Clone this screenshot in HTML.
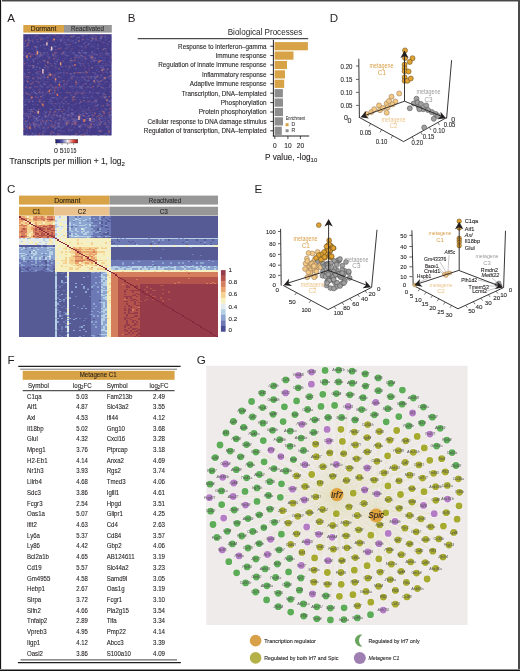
<!DOCTYPE html>
<html><head><meta charset="utf-8"><title>Figure</title>
<style>html,body{margin:0;padding:0;background:#fff;}body{position:relative;width:520px;height:671px;overflow:hidden;font-family:"Liberation Sans",sans-serif;}svg{display:block;filter:blur(0.35px);}</style>
</head><body>
<svg width="520" height="671" viewBox="0 0 520 671" font-family="Liberation Sans, sans-serif"><text x="7.20" y="21.60" font-size="11.6" fill="#231f20">A</text>
<text x="127.70" y="21.60" font-size="11.6" fill="#231f20">B</text>
<text x="329.80" y="21.60" font-size="11.6" fill="#231f20">D</text>
<text x="7.00" y="192.80" font-size="11.6" fill="#231f20">C</text>
<text x="254.50" y="192.60" font-size="11.6" fill="#231f20">E</text>
<text x="7.40" y="363.60" font-size="11.6" fill="#231f20">F</text>
<text x="196.80" y="363.60" font-size="11.6" fill="#231f20">G</text>
<rect x="23.30" y="25.00" width="40.70" height="7.60" fill="#d7a346"/>
<rect x="64.00" y="25.00" width="47.80" height="7.60" fill="#979797"/>
<text x="43.60" y="31.30" font-size="6.8" fill="#2a2218" text-anchor="middle" textLength="25.50" lengthAdjust="spacingAndGlyphs" stroke="#2a2218" stroke-width="0.1">Dormant</text>
<text x="87.50" y="31.20" font-size="6.8" fill="#2a2a2a" text-anchor="middle" textLength="32.80" lengthAdjust="spacingAndGlyphs" stroke="#2a2a2a" stroke-width="0.1">Reactivated</text>
<rect x="23.30" y="34.20" width="88.30" height="101.20" fill="#433a88"/>
<path fill="#574f9a" d="M28.32 34.20h1.00v1.00h-1.00zM34.34 34.20h1.00v1.00h-1.00zM49.39 34.20h1.00v1.00h-1.00zM78.49 34.20h1.00v1.00h-1.00zM93.54 34.20h1.00v1.00h-1.00zM100.56 34.20h1.00v1.00h-1.00zM31.33 35.20h1.00v1.00h-1.00zM34.34 35.20h1.00v1.00h-1.00zM38.35 35.20h1.00v1.00h-1.00zM51.40 35.20h1.00v1.00h-1.00zM53.40 35.20h1.00v1.00h-1.00zM62.43 35.20h1.00v1.00h-1.00zM70.46 35.20h1.00v1.00h-1.00zM86.51 35.20h1.00v1.00h-1.00zM92.54 35.20h1.00v1.00h-1.00zM93.54 35.20h1.00v1.00h-1.00zM104.58 35.20h1.00v1.00h-1.00zM24.30 36.20h1.00v1.00h-1.00zM31.33 36.20h1.00v1.00h-1.00zM46.38 36.20h1.00v1.00h-1.00zM47.38 36.20h1.00v1.00h-1.00zM55.41 36.20h1.00v1.00h-1.00zM56.41 36.20h1.00v1.00h-1.00zM67.45 36.20h1.00v1.00h-1.00zM71.46 36.20h1.00v1.00h-1.00zM78.49 36.20h1.00v1.00h-1.00zM81.50 36.20h1.00v1.00h-1.00zM93.54 36.20h1.00v1.00h-1.00zM103.57 36.20h1.00v1.00h-1.00zM105.58 36.20h1.00v1.00h-1.00zM33.33 37.21h1.00v1.00h-1.00zM37.35 37.21h1.00v1.00h-1.00zM40.36 37.21h1.00v1.00h-1.00zM45.38 37.21h1.00v1.00h-1.00zM48.39 37.21h1.00v1.00h-1.00zM58.42 37.21h1.00v1.00h-1.00zM63.44 37.21h1.00v1.00h-1.00zM86.51 37.21h1.00v1.00h-1.00zM90.53 37.21h1.00v1.00h-1.00zM99.56 37.21h1.00v1.00h-1.00zM31.33 38.21h1.00v1.00h-1.00zM45.38 38.21h1.00v1.00h-1.00zM51.40 38.21h1.00v1.00h-1.00zM86.51 38.21h1.00v1.00h-1.00zM97.55 38.21h1.00v1.00h-1.00zM106.58 38.21h1.00v1.00h-1.00zM35.34 39.21h1.00v1.00h-1.00zM36.34 39.21h1.00v1.00h-1.00zM42.36 39.21h1.00v1.00h-1.00zM43.37 39.21h1.00v1.00h-1.00zM46.38 39.21h1.00v1.00h-1.00zM56.41 39.21h1.00v1.00h-1.00zM58.42 39.21h1.00v1.00h-1.00zM59.42 39.21h1.00v1.00h-1.00zM62.43 39.21h1.00v1.00h-1.00zM70.46 39.21h1.00v1.00h-1.00zM78.49 39.21h1.00v1.00h-1.00zM84.51 39.21h1.00v1.00h-1.00zM86.51 39.21h1.00v1.00h-1.00zM88.52 39.21h1.00v1.00h-1.00zM92.54 39.21h1.00v1.00h-1.00zM94.54 39.21h1.00v1.00h-1.00zM104.58 39.21h1.00v1.00h-1.00zM51.40 40.21h1.00v1.00h-1.00zM57.42 40.21h1.00v1.00h-1.00zM61.43 40.21h1.00v1.00h-1.00zM63.44 40.21h1.00v1.00h-1.00zM66.45 40.21h1.00v1.00h-1.00zM71.46 40.21h1.00v1.00h-1.00zM73.47 40.21h1.00v1.00h-1.00zM77.48 40.21h1.00v1.00h-1.00zM81.50 40.21h1.00v1.00h-1.00zM94.54 40.21h1.00v1.00h-1.00zM97.55 40.21h1.00v1.00h-1.00zM104.58 40.21h1.00v1.00h-1.00zM24.30 41.21h1.00v1.00h-1.00zM37.35 41.21h1.00v1.00h-1.00zM42.36 41.21h1.00v1.00h-1.00zM64.44 41.21h1.00v1.00h-1.00zM69.46 41.21h1.00v1.00h-1.00zM75.48 41.21h1.00v1.00h-1.00zM93.54 41.21h1.00v1.00h-1.00zM100.56 41.21h1.00v1.00h-1.00zM102.57 41.21h1.00v1.00h-1.00zM109.59 41.21h1.00v1.00h-1.00zM110.60 41.21h1.00v1.00h-1.00zM27.31 42.22h1.00v1.00h-1.00zM37.35 42.22h1.00v1.00h-1.00zM55.41 42.22h1.00v1.00h-1.00zM64.44 42.22h1.00v1.00h-1.00zM73.47 42.22h1.00v1.00h-1.00zM87.52 42.22h1.00v1.00h-1.00zM103.57 42.22h1.00v1.00h-1.00zM104.58 42.22h1.00v1.00h-1.00zM27.31 43.22h1.00v1.00h-1.00zM72.47 43.22h1.00v1.00h-1.00zM94.54 43.22h1.00v1.00h-1.00zM28.32 44.22h1.00v1.00h-1.00zM32.33 44.22h1.00v1.00h-1.00zM37.35 44.22h1.00v1.00h-1.00zM53.40 44.22h1.00v1.00h-1.00zM34.34 45.22h1.00v1.00h-1.00zM55.41 45.22h1.00v1.00h-1.00zM76.48 45.22h1.00v1.00h-1.00zM80.49 45.22h1.00v1.00h-1.00zM90.53 45.22h1.00v1.00h-1.00zM103.57 45.22h1.00v1.00h-1.00zM31.33 46.22h1.00v1.00h-1.00zM38.35 46.22h1.00v1.00h-1.00zM48.39 46.22h1.00v1.00h-1.00zM51.40 46.22h1.00v1.00h-1.00zM58.42 46.22h1.00v1.00h-1.00zM66.45 46.22h1.00v1.00h-1.00zM72.47 46.22h1.00v1.00h-1.00zM74.47 46.22h1.00v1.00h-1.00zM79.49 46.22h1.00v1.00h-1.00zM80.49 46.22h1.00v1.00h-1.00zM93.54 46.22h1.00v1.00h-1.00zM107.59 46.22h1.00v1.00h-1.00zM33.33 47.23h1.00v1.00h-1.00zM43.37 47.23h1.00v1.00h-1.00zM51.40 47.23h1.00v1.00h-1.00zM95.55 47.23h1.00v1.00h-1.00zM25.31 48.23h1.00v1.00h-1.00zM27.31 48.23h1.00v1.00h-1.00zM28.32 48.23h1.00v1.00h-1.00zM31.33 48.23h1.00v1.00h-1.00zM32.33 48.23h1.00v1.00h-1.00zM45.38 48.23h1.00v1.00h-1.00zM48.39 48.23h1.00v1.00h-1.00zM64.44 48.23h1.00v1.00h-1.00zM67.45 48.23h1.00v1.00h-1.00zM83.50 48.23h1.00v1.00h-1.00zM95.55 48.23h1.00v1.00h-1.00zM109.59 48.23h1.00v1.00h-1.00zM48.39 49.23h1.00v1.00h-1.00zM52.40 49.23h1.00v1.00h-1.00zM81.50 49.23h1.00v1.00h-1.00zM33.33 50.23h1.00v1.00h-1.00zM35.34 50.23h1.00v1.00h-1.00zM51.40 50.23h1.00v1.00h-1.00zM55.41 50.23h1.00v1.00h-1.00zM69.46 50.23h1.00v1.00h-1.00zM93.54 50.23h1.00v1.00h-1.00zM24.30 51.23h1.00v1.00h-1.00zM36.34 51.23h1.00v1.00h-1.00zM47.38 51.23h1.00v1.00h-1.00zM64.44 51.23h1.00v1.00h-1.00zM94.54 51.23h1.00v1.00h-1.00zM98.56 51.23h1.00v1.00h-1.00zM23.30 52.24h1.00v1.00h-1.00zM37.35 52.24h1.00v1.00h-1.00zM39.35 52.24h1.00v1.00h-1.00zM47.38 52.24h1.00v1.00h-1.00zM65.44 52.24h1.00v1.00h-1.00zM67.45 52.24h1.00v1.00h-1.00zM69.46 52.24h1.00v1.00h-1.00zM70.46 52.24h1.00v1.00h-1.00zM77.48 52.24h1.00v1.00h-1.00zM106.58 52.24h1.00v1.00h-1.00zM107.59 52.24h1.00v1.00h-1.00zM26.31 53.24h1.00v1.00h-1.00zM33.33 53.24h1.00v1.00h-1.00zM34.34 53.24h1.00v1.00h-1.00zM36.34 53.24h1.00v1.00h-1.00zM37.35 53.24h1.00v1.00h-1.00zM45.38 53.24h1.00v1.00h-1.00zM47.38 53.24h1.00v1.00h-1.00zM52.40 53.24h1.00v1.00h-1.00zM60.43 53.24h1.00v1.00h-1.00zM65.44 53.24h1.00v1.00h-1.00zM72.47 53.24h1.00v1.00h-1.00zM73.47 53.24h1.00v1.00h-1.00zM86.51 53.24h1.00v1.00h-1.00zM88.52 53.24h1.00v1.00h-1.00zM92.54 53.24h1.00v1.00h-1.00zM94.54 53.24h1.00v1.00h-1.00zM100.56 53.24h1.00v1.00h-1.00zM103.57 53.24h1.00v1.00h-1.00zM106.58 53.24h1.00v1.00h-1.00zM26.31 54.24h1.00v1.00h-1.00zM40.36 54.24h1.00v1.00h-1.00zM44.37 54.24h1.00v1.00h-1.00zM53.40 54.24h1.00v1.00h-1.00zM55.41 54.24h1.00v1.00h-1.00zM61.43 54.24h1.00v1.00h-1.00zM69.46 54.24h1.00v1.00h-1.00zM79.49 54.24h1.00v1.00h-1.00zM84.51 54.24h1.00v1.00h-1.00zM89.52 54.24h1.00v1.00h-1.00zM91.53 54.24h1.00v1.00h-1.00zM93.54 54.24h1.00v1.00h-1.00zM94.54 54.24h1.00v1.00h-1.00zM95.55 54.24h1.00v1.00h-1.00zM101.57 54.24h1.00v1.00h-1.00zM105.58 54.24h1.00v1.00h-1.00zM108.59 54.24h1.00v1.00h-1.00zM110.60 54.24h1.00v1.00h-1.00zM27.31 55.24h1.00v1.00h-1.00zM41.36 55.24h1.00v1.00h-1.00zM42.36 55.24h1.00v1.00h-1.00zM46.38 55.24h1.00v1.00h-1.00zM48.39 55.24h1.00v1.00h-1.00zM53.40 55.24h1.00v1.00h-1.00zM54.41 55.24h1.00v1.00h-1.00zM55.41 55.24h1.00v1.00h-1.00zM57.42 55.24h1.00v1.00h-1.00zM61.43 55.24h1.00v1.00h-1.00zM64.44 55.24h1.00v1.00h-1.00zM87.52 55.24h1.00v1.00h-1.00zM102.57 55.24h1.00v1.00h-1.00zM104.58 55.24h1.00v1.00h-1.00zM107.59 55.24h1.00v1.00h-1.00zM108.59 55.24h1.00v1.00h-1.00zM23.30 56.24h1.00v1.00h-1.00zM30.32 56.24h1.00v1.00h-1.00zM41.36 56.24h1.00v1.00h-1.00zM53.40 56.24h1.00v1.00h-1.00zM74.47 56.24h1.00v1.00h-1.00zM75.48 56.24h1.00v1.00h-1.00zM76.48 56.24h1.00v1.00h-1.00zM92.54 56.24h1.00v1.00h-1.00zM99.56 56.24h1.00v1.00h-1.00zM101.57 56.24h1.00v1.00h-1.00zM109.59 56.24h1.00v1.00h-1.00zM27.31 57.25h1.00v1.00h-1.00zM35.34 57.25h1.00v1.00h-1.00zM55.41 57.25h1.00v1.00h-1.00zM58.42 57.25h1.00v1.00h-1.00zM65.44 57.25h1.00v1.00h-1.00zM97.55 57.25h1.00v1.00h-1.00zM99.56 57.25h1.00v1.00h-1.00zM101.57 57.25h1.00v1.00h-1.00zM104.58 57.25h1.00v1.00h-1.00zM23.30 58.25h1.00v1.00h-1.00zM26.31 58.25h1.00v1.00h-1.00zM29.32 58.25h1.00v1.00h-1.00zM34.34 58.25h1.00v1.00h-1.00zM36.34 58.25h1.00v1.00h-1.00zM42.36 58.25h1.00v1.00h-1.00zM49.39 58.25h1.00v1.00h-1.00zM54.41 58.25h1.00v1.00h-1.00zM62.43 58.25h1.00v1.00h-1.00zM83.50 58.25h1.00v1.00h-1.00zM84.51 58.25h1.00v1.00h-1.00zM86.51 58.25h1.00v1.00h-1.00zM109.59 58.25h1.00v1.00h-1.00zM28.32 59.25h1.00v1.00h-1.00zM58.42 59.25h1.00v1.00h-1.00zM77.48 59.25h1.00v1.00h-1.00zM85.51 59.25h1.00v1.00h-1.00zM97.55 59.25h1.00v1.00h-1.00zM110.60 59.25h1.00v1.00h-1.00zM32.33 60.25h1.00v1.00h-1.00zM33.33 60.25h1.00v1.00h-1.00zM37.35 60.25h1.00v1.00h-1.00zM54.41 60.25h1.00v1.00h-1.00zM56.41 60.25h1.00v1.00h-1.00zM77.48 60.25h1.00v1.00h-1.00zM80.49 60.25h1.00v1.00h-1.00zM84.51 60.25h1.00v1.00h-1.00zM90.53 60.25h1.00v1.00h-1.00zM96.55 60.25h1.00v1.00h-1.00zM101.57 60.25h1.00v1.00h-1.00zM108.59 60.25h1.00v1.00h-1.00zM110.60 60.25h1.00v1.00h-1.00zM27.31 61.25h1.00v1.00h-1.00zM30.32 61.25h1.00v1.00h-1.00zM44.37 61.25h1.00v1.00h-1.00zM54.41 61.25h1.00v1.00h-1.00zM62.43 61.25h1.00v1.00h-1.00zM63.44 61.25h1.00v1.00h-1.00zM91.53 61.25h1.00v1.00h-1.00zM102.57 61.25h1.00v1.00h-1.00zM40.36 62.26h1.00v1.00h-1.00zM64.44 62.26h1.00v1.00h-1.00zM67.45 62.26h1.00v1.00h-1.00zM110.60 62.26h1.00v1.00h-1.00zM28.32 63.26h1.00v1.00h-1.00zM44.37 63.26h1.00v1.00h-1.00zM47.38 63.26h1.00v1.00h-1.00zM50.39 63.26h1.00v1.00h-1.00zM59.42 63.26h1.00v1.00h-1.00zM70.46 63.26h1.00v1.00h-1.00zM91.53 63.26h1.00v1.00h-1.00zM101.57 63.26h1.00v1.00h-1.00zM44.37 64.26h1.00v1.00h-1.00zM55.41 64.26h1.00v1.00h-1.00zM71.46 64.26h1.00v1.00h-1.00zM80.49 64.26h1.00v1.00h-1.00zM83.50 64.26h1.00v1.00h-1.00zM104.58 64.26h1.00v1.00h-1.00zM25.31 65.26h1.00v1.00h-1.00zM27.31 65.26h1.00v1.00h-1.00zM49.39 65.26h1.00v1.00h-1.00zM60.43 65.26h1.00v1.00h-1.00zM97.55 65.26h1.00v1.00h-1.00zM98.56 65.26h1.00v1.00h-1.00zM99.56 65.26h1.00v1.00h-1.00zM100.56 65.26h1.00v1.00h-1.00zM104.58 65.26h1.00v1.00h-1.00zM107.59 65.26h1.00v1.00h-1.00zM37.35 66.26h1.00v1.00h-1.00zM59.42 66.26h1.00v1.00h-1.00zM62.43 66.26h1.00v1.00h-1.00zM88.52 66.26h1.00v1.00h-1.00zM92.54 66.26h1.00v1.00h-1.00zM99.56 66.26h1.00v1.00h-1.00zM28.32 67.27h1.00v1.00h-1.00zM34.34 67.27h1.00v1.00h-1.00zM43.37 67.27h1.00v1.00h-1.00zM48.39 67.27h1.00v1.00h-1.00zM56.41 67.27h1.00v1.00h-1.00zM70.46 67.27h1.00v1.00h-1.00zM91.53 67.27h1.00v1.00h-1.00zM97.55 67.27h1.00v1.00h-1.00zM33.33 68.27h1.00v1.00h-1.00zM39.35 68.27h1.00v1.00h-1.00zM68.45 68.27h1.00v1.00h-1.00zM78.49 68.27h1.00v1.00h-1.00zM39.35 69.27h1.00v1.00h-1.00zM43.37 69.27h1.00v1.00h-1.00zM44.37 69.27h1.00v1.00h-1.00zM54.41 69.27h1.00v1.00h-1.00zM84.51 69.27h1.00v1.00h-1.00zM96.55 69.27h1.00v1.00h-1.00zM29.32 70.27h1.00v1.00h-1.00zM43.37 70.27h1.00v1.00h-1.00zM79.49 70.27h1.00v1.00h-1.00zM47.38 71.27h1.00v1.00h-1.00zM24.30 72.28h1.00v1.00h-1.00zM49.39 72.28h1.00v1.00h-1.00zM55.41 72.28h1.00v1.00h-1.00zM58.42 72.28h1.00v1.00h-1.00zM72.47 72.28h1.00v1.00h-1.00zM76.48 72.28h1.00v1.00h-1.00zM78.49 72.28h1.00v1.00h-1.00zM88.52 72.28h1.00v1.00h-1.00zM93.54 72.28h1.00v1.00h-1.00zM104.58 72.28h1.00v1.00h-1.00zM107.59 72.28h1.00v1.00h-1.00zM35.34 73.28h1.00v1.00h-1.00zM39.35 73.28h1.00v1.00h-1.00zM94.54 73.28h1.00v1.00h-1.00zM27.31 74.28h1.00v1.00h-1.00zM36.34 74.28h1.00v1.00h-1.00zM39.35 74.28h1.00v1.00h-1.00zM46.38 74.28h1.00v1.00h-1.00zM53.40 74.28h1.00v1.00h-1.00zM85.51 74.28h1.00v1.00h-1.00zM95.55 74.28h1.00v1.00h-1.00zM96.55 74.28h1.00v1.00h-1.00zM100.56 74.28h1.00v1.00h-1.00zM101.57 74.28h1.00v1.00h-1.00zM24.30 75.28h1.00v1.00h-1.00zM43.37 75.28h1.00v1.00h-1.00zM47.38 75.28h1.00v1.00h-1.00zM84.51 75.28h1.00v1.00h-1.00zM101.57 75.28h1.00v1.00h-1.00zM27.31 76.28h1.00v1.00h-1.00zM34.34 76.28h1.00v1.00h-1.00zM36.34 76.28h1.00v1.00h-1.00zM37.35 76.28h1.00v1.00h-1.00zM38.35 76.28h1.00v1.00h-1.00zM42.36 76.28h1.00v1.00h-1.00zM43.37 76.28h1.00v1.00h-1.00zM44.37 76.28h1.00v1.00h-1.00zM48.39 76.28h1.00v1.00h-1.00zM53.40 76.28h1.00v1.00h-1.00zM57.42 76.28h1.00v1.00h-1.00zM63.44 76.28h1.00v1.00h-1.00zM68.45 76.28h1.00v1.00h-1.00zM72.47 76.28h1.00v1.00h-1.00zM73.47 76.28h1.00v1.00h-1.00zM76.48 76.28h1.00v1.00h-1.00zM85.51 76.28h1.00v1.00h-1.00zM88.52 76.28h1.00v1.00h-1.00zM89.52 76.28h1.00v1.00h-1.00zM95.55 76.28h1.00v1.00h-1.00zM100.56 76.28h1.00v1.00h-1.00zM106.58 76.28h1.00v1.00h-1.00zM24.30 77.29h1.00v1.00h-1.00zM26.31 77.29h1.00v1.00h-1.00zM45.38 77.29h1.00v1.00h-1.00zM55.41 77.29h1.00v1.00h-1.00zM58.42 77.29h1.00v1.00h-1.00zM59.42 77.29h1.00v1.00h-1.00zM60.43 77.29h1.00v1.00h-1.00zM61.43 77.29h1.00v1.00h-1.00zM79.49 77.29h1.00v1.00h-1.00zM81.50 77.29h1.00v1.00h-1.00zM85.51 77.29h1.00v1.00h-1.00zM91.53 77.29h1.00v1.00h-1.00zM93.54 77.29h1.00v1.00h-1.00zM97.55 77.29h1.00v1.00h-1.00zM103.57 77.29h1.00v1.00h-1.00zM106.58 77.29h1.00v1.00h-1.00zM29.32 78.29h1.00v1.00h-1.00zM42.36 78.29h1.00v1.00h-1.00zM46.38 78.29h1.00v1.00h-1.00zM54.41 78.29h1.00v1.00h-1.00zM68.45 78.29h1.00v1.00h-1.00zM70.46 78.29h1.00v1.00h-1.00zM76.48 78.29h1.00v1.00h-1.00zM90.53 78.29h1.00v1.00h-1.00zM108.59 78.29h1.00v1.00h-1.00zM43.37 79.29h1.00v1.00h-1.00zM47.38 79.29h1.00v1.00h-1.00zM49.39 79.29h1.00v1.00h-1.00zM55.41 79.29h1.00v1.00h-1.00zM68.45 79.29h1.00v1.00h-1.00zM76.48 79.29h1.00v1.00h-1.00zM79.49 79.29h1.00v1.00h-1.00zM82.50 79.29h1.00v1.00h-1.00zM94.54 79.29h1.00v1.00h-1.00zM96.55 79.29h1.00v1.00h-1.00zM104.58 79.29h1.00v1.00h-1.00zM109.59 79.29h1.00v1.00h-1.00zM24.30 80.29h1.00v1.00h-1.00zM35.34 80.29h1.00v1.00h-1.00zM36.34 80.29h1.00v1.00h-1.00zM52.40 80.29h1.00v1.00h-1.00zM61.43 80.29h1.00v1.00h-1.00zM62.43 80.29h1.00v1.00h-1.00zM67.45 80.29h1.00v1.00h-1.00zM81.50 80.29h1.00v1.00h-1.00zM102.57 80.29h1.00v1.00h-1.00zM39.35 81.29h1.00v1.00h-1.00zM40.36 81.29h1.00v1.00h-1.00zM63.44 81.29h1.00v1.00h-1.00zM70.46 81.29h1.00v1.00h-1.00zM86.51 81.29h1.00v1.00h-1.00zM96.55 81.29h1.00v1.00h-1.00zM97.55 81.29h1.00v1.00h-1.00zM106.58 81.29h1.00v1.00h-1.00zM45.38 82.30h1.00v1.00h-1.00zM63.44 82.30h1.00v1.00h-1.00zM66.45 82.30h1.00v1.00h-1.00zM78.49 82.30h1.00v1.00h-1.00zM97.55 82.30h1.00v1.00h-1.00zM108.59 82.30h1.00v1.00h-1.00zM44.37 83.30h1.00v1.00h-1.00zM55.41 83.30h1.00v1.00h-1.00zM90.53 83.30h1.00v1.00h-1.00zM100.56 83.30h1.00v1.00h-1.00zM110.60 83.30h1.00v1.00h-1.00zM26.31 84.30h1.00v1.00h-1.00zM27.31 84.30h1.00v1.00h-1.00zM34.34 84.30h1.00v1.00h-1.00zM39.35 84.30h1.00v1.00h-1.00zM43.37 84.30h1.00v1.00h-1.00zM44.37 84.30h1.00v1.00h-1.00zM49.39 84.30h1.00v1.00h-1.00zM57.42 84.30h1.00v1.00h-1.00zM100.56 84.30h1.00v1.00h-1.00zM102.57 84.30h1.00v1.00h-1.00zM39.35 85.30h1.00v1.00h-1.00zM49.39 85.30h1.00v1.00h-1.00zM64.44 85.30h1.00v1.00h-1.00zM79.49 85.30h1.00v1.00h-1.00zM23.30 86.30h1.00v1.00h-1.00zM26.31 86.30h1.00v1.00h-1.00zM27.31 86.30h1.00v1.00h-1.00zM31.33 86.30h1.00v1.00h-1.00zM37.35 86.30h1.00v1.00h-1.00zM38.35 86.30h1.00v1.00h-1.00zM41.36 86.30h1.00v1.00h-1.00zM48.39 86.30h1.00v1.00h-1.00zM49.39 86.30h1.00v1.00h-1.00zM56.41 86.30h1.00v1.00h-1.00zM63.44 86.30h1.00v1.00h-1.00zM65.44 86.30h1.00v1.00h-1.00zM73.47 86.30h1.00v1.00h-1.00zM74.47 86.30h1.00v1.00h-1.00zM75.48 86.30h1.00v1.00h-1.00zM89.52 86.30h1.00v1.00h-1.00zM91.53 86.30h1.00v1.00h-1.00zM97.55 86.30h1.00v1.00h-1.00zM99.56 86.30h1.00v1.00h-1.00zM110.60 86.30h1.00v1.00h-1.00zM26.31 87.30h1.00v1.00h-1.00zM34.34 87.30h1.00v1.00h-1.00zM46.38 87.30h1.00v1.00h-1.00zM51.40 87.30h1.00v1.00h-1.00zM60.43 87.30h1.00v1.00h-1.00zM64.44 87.30h1.00v1.00h-1.00zM71.46 87.30h1.00v1.00h-1.00zM78.49 87.30h1.00v1.00h-1.00zM82.50 87.30h1.00v1.00h-1.00zM87.52 87.30h1.00v1.00h-1.00zM89.52 87.30h1.00v1.00h-1.00zM27.31 88.31h1.00v1.00h-1.00zM29.32 88.31h1.00v1.00h-1.00zM39.35 88.31h1.00v1.00h-1.00zM57.42 88.31h1.00v1.00h-1.00zM79.49 88.31h1.00v1.00h-1.00zM39.35 89.31h1.00v1.00h-1.00zM40.36 89.31h1.00v1.00h-1.00zM46.38 89.31h1.00v1.00h-1.00zM52.40 89.31h1.00v1.00h-1.00zM63.44 89.31h1.00v1.00h-1.00zM70.46 89.31h1.00v1.00h-1.00zM86.51 89.31h1.00v1.00h-1.00zM92.54 89.31h1.00v1.00h-1.00zM93.54 89.31h1.00v1.00h-1.00zM100.56 89.31h1.00v1.00h-1.00zM105.58 89.31h1.00v1.00h-1.00zM34.34 90.31h1.00v1.00h-1.00zM66.45 90.31h1.00v1.00h-1.00zM103.57 90.31h1.00v1.00h-1.00zM110.60 90.31h1.00v1.00h-1.00zM25.31 91.31h1.00v1.00h-1.00zM58.42 91.31h1.00v1.00h-1.00zM66.45 91.31h1.00v1.00h-1.00zM78.49 91.31h1.00v1.00h-1.00zM81.50 91.31h1.00v1.00h-1.00zM83.50 91.31h1.00v1.00h-1.00zM30.32 92.31h1.00v1.00h-1.00zM43.37 92.31h1.00v1.00h-1.00zM48.39 92.31h1.00v1.00h-1.00zM58.42 92.31h1.00v1.00h-1.00zM64.44 92.31h1.00v1.00h-1.00zM80.49 92.31h1.00v1.00h-1.00zM83.50 92.31h1.00v1.00h-1.00zM88.52 92.31h1.00v1.00h-1.00zM89.52 92.31h1.00v1.00h-1.00zM91.53 92.31h1.00v1.00h-1.00zM98.56 92.31h1.00v1.00h-1.00zM100.56 92.31h1.00v1.00h-1.00zM103.57 92.31h1.00v1.00h-1.00zM39.35 93.32h1.00v1.00h-1.00zM41.36 93.32h1.00v1.00h-1.00zM45.38 93.32h1.00v1.00h-1.00zM88.52 93.32h1.00v1.00h-1.00zM81.50 94.32h1.00v1.00h-1.00zM91.53 94.32h1.00v1.00h-1.00zM23.30 95.32h1.00v1.00h-1.00zM36.34 95.32h1.00v1.00h-1.00zM51.40 95.32h1.00v1.00h-1.00zM60.43 95.32h1.00v1.00h-1.00zM83.50 95.32h1.00v1.00h-1.00zM85.51 95.32h1.00v1.00h-1.00zM91.53 95.32h1.00v1.00h-1.00zM31.33 96.32h1.00v1.00h-1.00zM38.35 96.32h1.00v1.00h-1.00zM40.36 96.32h1.00v1.00h-1.00zM41.36 96.32h1.00v1.00h-1.00zM59.42 96.32h1.00v1.00h-1.00zM72.47 96.32h1.00v1.00h-1.00zM77.48 96.32h1.00v1.00h-1.00zM82.50 96.32h1.00v1.00h-1.00zM42.36 97.32h1.00v1.00h-1.00zM44.37 97.32h1.00v1.00h-1.00zM50.39 97.32h1.00v1.00h-1.00zM56.41 97.32h1.00v1.00h-1.00zM59.42 97.32h1.00v1.00h-1.00zM71.46 97.32h1.00v1.00h-1.00zM74.47 97.32h1.00v1.00h-1.00zM75.48 97.32h1.00v1.00h-1.00zM77.48 97.32h1.00v1.00h-1.00zM81.50 97.32h1.00v1.00h-1.00zM84.51 97.32h1.00v1.00h-1.00zM93.54 97.32h1.00v1.00h-1.00zM95.55 97.32h1.00v1.00h-1.00zM99.56 97.32h1.00v1.00h-1.00zM101.57 97.32h1.00v1.00h-1.00zM102.57 97.32h1.00v1.00h-1.00zM105.58 97.32h1.00v1.00h-1.00zM110.60 97.32h1.00v1.00h-1.00zM26.31 98.33h1.00v1.00h-1.00zM30.32 98.33h1.00v1.00h-1.00zM42.36 98.33h1.00v1.00h-1.00zM50.39 98.33h1.00v1.00h-1.00zM62.43 98.33h1.00v1.00h-1.00zM104.58 98.33h1.00v1.00h-1.00zM24.30 99.33h1.00v1.00h-1.00zM26.31 99.33h1.00v1.00h-1.00zM27.31 99.33h1.00v1.00h-1.00zM40.36 99.33h1.00v1.00h-1.00zM47.38 99.33h1.00v1.00h-1.00zM50.39 99.33h1.00v1.00h-1.00zM105.58 99.33h1.00v1.00h-1.00zM106.58 99.33h1.00v1.00h-1.00zM41.36 100.33h1.00v1.00h-1.00zM70.46 100.33h1.00v1.00h-1.00zM93.54 100.33h1.00v1.00h-1.00zM94.54 100.33h1.00v1.00h-1.00zM23.30 101.33h1.00v1.00h-1.00zM24.30 101.33h1.00v1.00h-1.00zM35.34 101.33h1.00v1.00h-1.00zM38.35 101.33h1.00v1.00h-1.00zM39.35 101.33h1.00v1.00h-1.00zM40.36 101.33h1.00v1.00h-1.00zM52.40 101.33h1.00v1.00h-1.00zM80.49 101.33h1.00v1.00h-1.00zM81.50 101.33h1.00v1.00h-1.00zM57.42 102.33h1.00v1.00h-1.00zM58.42 102.33h1.00v1.00h-1.00zM85.51 102.33h1.00v1.00h-1.00zM94.54 102.33h1.00v1.00h-1.00zM96.55 102.33h1.00v1.00h-1.00zM34.34 103.34h1.00v1.00h-1.00zM42.36 103.34h1.00v1.00h-1.00zM43.37 103.34h1.00v1.00h-1.00zM49.39 103.34h1.00v1.00h-1.00zM57.42 103.34h1.00v1.00h-1.00zM62.43 103.34h1.00v1.00h-1.00zM94.54 103.34h1.00v1.00h-1.00zM26.31 104.34h1.00v1.00h-1.00zM35.34 104.34h1.00v1.00h-1.00zM41.36 104.34h1.00v1.00h-1.00zM56.41 104.34h1.00v1.00h-1.00zM59.42 104.34h1.00v1.00h-1.00zM87.52 104.34h1.00v1.00h-1.00zM89.52 104.34h1.00v1.00h-1.00zM91.53 104.34h1.00v1.00h-1.00zM25.31 105.34h1.00v1.00h-1.00zM67.45 105.34h1.00v1.00h-1.00zM80.49 105.34h1.00v1.00h-1.00zM95.55 105.34h1.00v1.00h-1.00zM100.56 105.34h1.00v1.00h-1.00zM72.47 106.34h1.00v1.00h-1.00zM80.49 106.34h1.00v1.00h-1.00zM92.54 106.34h1.00v1.00h-1.00zM95.55 106.34h1.00v1.00h-1.00zM100.56 106.34h1.00v1.00h-1.00zM27.31 107.34h1.00v1.00h-1.00zM33.33 107.34h1.00v1.00h-1.00zM58.42 107.34h1.00v1.00h-1.00zM40.36 108.35h1.00v1.00h-1.00zM51.40 108.35h1.00v1.00h-1.00zM54.41 108.35h1.00v1.00h-1.00zM70.46 108.35h1.00v1.00h-1.00zM80.49 108.35h1.00v1.00h-1.00zM88.52 108.35h1.00v1.00h-1.00zM93.54 108.35h1.00v1.00h-1.00zM23.30 109.35h1.00v1.00h-1.00zM34.34 109.35h1.00v1.00h-1.00zM39.35 109.35h1.00v1.00h-1.00zM51.40 109.35h1.00v1.00h-1.00zM60.43 109.35h1.00v1.00h-1.00zM67.45 109.35h1.00v1.00h-1.00zM72.47 109.35h1.00v1.00h-1.00zM78.49 109.35h1.00v1.00h-1.00zM81.50 109.35h1.00v1.00h-1.00zM101.57 109.35h1.00v1.00h-1.00zM103.57 109.35h1.00v1.00h-1.00zM107.59 109.35h1.00v1.00h-1.00zM29.32 110.35h1.00v1.00h-1.00zM43.37 110.35h1.00v1.00h-1.00zM76.48 110.35h1.00v1.00h-1.00zM31.33 111.35h1.00v1.00h-1.00zM79.49 111.35h1.00v1.00h-1.00zM83.50 111.35h1.00v1.00h-1.00zM26.31 112.35h1.00v1.00h-1.00zM36.34 112.35h1.00v1.00h-1.00zM40.36 112.35h1.00v1.00h-1.00zM44.37 112.35h1.00v1.00h-1.00zM46.38 112.35h1.00v1.00h-1.00zM51.40 112.35h1.00v1.00h-1.00zM54.41 112.35h1.00v1.00h-1.00zM56.41 112.35h1.00v1.00h-1.00zM57.42 112.35h1.00v1.00h-1.00zM64.44 112.35h1.00v1.00h-1.00zM69.46 112.35h1.00v1.00h-1.00zM72.47 112.35h1.00v1.00h-1.00zM73.47 112.35h1.00v1.00h-1.00zM78.49 112.35h1.00v1.00h-1.00zM91.53 112.35h1.00v1.00h-1.00zM92.54 112.35h1.00v1.00h-1.00zM100.56 112.35h1.00v1.00h-1.00zM104.58 112.35h1.00v1.00h-1.00zM28.32 113.36h1.00v1.00h-1.00zM36.34 113.36h1.00v1.00h-1.00zM38.35 113.36h1.00v1.00h-1.00zM39.35 113.36h1.00v1.00h-1.00zM42.36 113.36h1.00v1.00h-1.00zM43.37 113.36h1.00v1.00h-1.00zM68.45 113.36h1.00v1.00h-1.00zM72.47 113.36h1.00v1.00h-1.00zM73.47 113.36h1.00v1.00h-1.00zM78.49 113.36h1.00v1.00h-1.00zM83.50 113.36h1.00v1.00h-1.00zM93.54 113.36h1.00v1.00h-1.00zM99.56 113.36h1.00v1.00h-1.00zM24.30 114.36h1.00v1.00h-1.00zM29.32 114.36h1.00v1.00h-1.00zM64.44 114.36h1.00v1.00h-1.00zM23.30 115.36h1.00v1.00h-1.00zM26.31 115.36h1.00v1.00h-1.00zM30.32 115.36h1.00v1.00h-1.00zM35.34 115.36h1.00v1.00h-1.00zM37.35 115.36h1.00v1.00h-1.00zM38.35 115.36h1.00v1.00h-1.00zM40.36 115.36h1.00v1.00h-1.00zM42.36 115.36h1.00v1.00h-1.00zM44.37 115.36h1.00v1.00h-1.00zM47.38 115.36h1.00v1.00h-1.00zM48.39 115.36h1.00v1.00h-1.00zM66.45 115.36h1.00v1.00h-1.00zM68.45 115.36h1.00v1.00h-1.00zM71.46 115.36h1.00v1.00h-1.00zM73.47 115.36h1.00v1.00h-1.00zM74.47 115.36h1.00v1.00h-1.00zM75.48 115.36h1.00v1.00h-1.00zM76.48 115.36h1.00v1.00h-1.00zM77.48 115.36h1.00v1.00h-1.00zM81.50 115.36h1.00v1.00h-1.00zM89.52 115.36h1.00v1.00h-1.00zM94.54 115.36h1.00v1.00h-1.00zM23.30 116.36h1.00v1.00h-1.00zM26.31 116.36h1.00v1.00h-1.00zM27.31 116.36h1.00v1.00h-1.00zM34.34 116.36h1.00v1.00h-1.00zM47.38 116.36h1.00v1.00h-1.00zM48.39 116.36h1.00v1.00h-1.00zM51.40 116.36h1.00v1.00h-1.00zM61.43 116.36h1.00v1.00h-1.00zM63.44 116.36h1.00v1.00h-1.00zM70.46 116.36h1.00v1.00h-1.00zM71.46 116.36h1.00v1.00h-1.00zM77.48 116.36h1.00v1.00h-1.00zM78.49 116.36h1.00v1.00h-1.00zM79.49 116.36h1.00v1.00h-1.00zM84.51 116.36h1.00v1.00h-1.00zM92.54 116.36h1.00v1.00h-1.00zM102.57 116.36h1.00v1.00h-1.00zM107.59 116.36h1.00v1.00h-1.00zM108.59 116.36h1.00v1.00h-1.00zM24.30 117.36h1.00v1.00h-1.00zM37.35 117.36h1.00v1.00h-1.00zM45.38 117.36h1.00v1.00h-1.00zM46.38 117.36h1.00v1.00h-1.00zM47.38 117.36h1.00v1.00h-1.00zM55.41 117.36h1.00v1.00h-1.00zM59.42 117.36h1.00v1.00h-1.00zM65.44 117.36h1.00v1.00h-1.00zM66.45 117.36h1.00v1.00h-1.00zM71.46 117.36h1.00v1.00h-1.00zM77.48 117.36h1.00v1.00h-1.00zM80.49 117.36h1.00v1.00h-1.00zM99.56 117.36h1.00v1.00h-1.00zM108.59 117.36h1.00v1.00h-1.00zM110.60 117.36h1.00v1.00h-1.00zM34.34 118.37h1.00v1.00h-1.00zM38.35 118.37h1.00v1.00h-1.00zM52.40 118.37h1.00v1.00h-1.00zM75.48 118.37h1.00v1.00h-1.00zM77.48 118.37h1.00v1.00h-1.00zM78.49 118.37h1.00v1.00h-1.00zM85.51 118.37h1.00v1.00h-1.00zM88.52 118.37h1.00v1.00h-1.00zM106.58 118.37h1.00v1.00h-1.00zM30.32 119.37h1.00v1.00h-1.00zM35.34 119.37h1.00v1.00h-1.00zM37.35 119.37h1.00v1.00h-1.00zM44.37 119.37h1.00v1.00h-1.00zM68.45 119.37h1.00v1.00h-1.00zM69.46 119.37h1.00v1.00h-1.00zM75.48 119.37h1.00v1.00h-1.00zM77.48 119.37h1.00v1.00h-1.00zM80.49 119.37h1.00v1.00h-1.00zM81.50 119.37h1.00v1.00h-1.00zM89.52 119.37h1.00v1.00h-1.00zM109.59 119.37h1.00v1.00h-1.00zM23.30 120.37h1.00v1.00h-1.00zM31.33 120.37h1.00v1.00h-1.00zM33.33 120.37h1.00v1.00h-1.00zM35.34 120.37h1.00v1.00h-1.00zM38.35 120.37h1.00v1.00h-1.00zM39.35 120.37h1.00v1.00h-1.00zM43.37 120.37h1.00v1.00h-1.00zM45.38 120.37h1.00v1.00h-1.00zM49.39 120.37h1.00v1.00h-1.00zM57.42 120.37h1.00v1.00h-1.00zM60.43 120.37h1.00v1.00h-1.00zM63.44 120.37h1.00v1.00h-1.00zM65.44 120.37h1.00v1.00h-1.00zM82.50 120.37h1.00v1.00h-1.00zM86.51 120.37h1.00v1.00h-1.00zM91.53 120.37h1.00v1.00h-1.00zM92.54 120.37h1.00v1.00h-1.00zM94.54 120.37h1.00v1.00h-1.00zM96.55 120.37h1.00v1.00h-1.00zM102.57 120.37h1.00v1.00h-1.00zM103.57 120.37h1.00v1.00h-1.00zM34.34 121.37h1.00v1.00h-1.00zM35.34 121.37h1.00v1.00h-1.00zM36.34 121.37h1.00v1.00h-1.00zM37.35 121.37h1.00v1.00h-1.00zM41.36 121.37h1.00v1.00h-1.00zM44.37 121.37h1.00v1.00h-1.00zM45.38 121.37h1.00v1.00h-1.00zM50.39 121.37h1.00v1.00h-1.00zM51.40 121.37h1.00v1.00h-1.00zM52.40 121.37h1.00v1.00h-1.00zM54.41 121.37h1.00v1.00h-1.00zM55.41 121.37h1.00v1.00h-1.00zM61.43 121.37h1.00v1.00h-1.00zM66.45 121.37h1.00v1.00h-1.00zM71.46 121.37h1.00v1.00h-1.00zM73.47 121.37h1.00v1.00h-1.00zM76.48 121.37h1.00v1.00h-1.00zM77.48 121.37h1.00v1.00h-1.00zM81.50 121.37h1.00v1.00h-1.00zM83.50 121.37h1.00v1.00h-1.00zM87.52 121.37h1.00v1.00h-1.00zM91.53 121.37h1.00v1.00h-1.00zM96.55 121.37h1.00v1.00h-1.00zM98.56 121.37h1.00v1.00h-1.00zM99.56 121.37h1.00v1.00h-1.00zM100.56 121.37h1.00v1.00h-1.00zM102.57 121.37h1.00v1.00h-1.00zM106.58 121.37h1.00v1.00h-1.00zM107.59 121.37h1.00v1.00h-1.00zM23.30 122.37h1.00v1.00h-1.00zM29.32 122.37h1.00v1.00h-1.00zM47.38 122.37h1.00v1.00h-1.00zM48.39 122.37h1.00v1.00h-1.00zM61.43 122.37h1.00v1.00h-1.00zM95.55 122.37h1.00v1.00h-1.00zM97.55 122.37h1.00v1.00h-1.00zM26.31 123.38h1.00v1.00h-1.00zM27.31 123.38h1.00v1.00h-1.00zM28.32 123.38h1.00v1.00h-1.00zM30.32 123.38h1.00v1.00h-1.00zM32.33 123.38h1.00v1.00h-1.00zM38.35 123.38h1.00v1.00h-1.00zM43.37 123.38h1.00v1.00h-1.00zM44.37 123.38h1.00v1.00h-1.00zM52.40 123.38h1.00v1.00h-1.00zM56.41 123.38h1.00v1.00h-1.00zM62.43 123.38h1.00v1.00h-1.00zM63.44 123.38h1.00v1.00h-1.00zM64.44 123.38h1.00v1.00h-1.00zM73.47 123.38h1.00v1.00h-1.00zM74.47 123.38h1.00v1.00h-1.00zM86.51 123.38h1.00v1.00h-1.00zM88.52 123.38h1.00v1.00h-1.00zM91.53 123.38h1.00v1.00h-1.00zM94.54 123.38h1.00v1.00h-1.00zM95.55 123.38h1.00v1.00h-1.00zM102.57 123.38h1.00v1.00h-1.00zM103.57 123.38h1.00v1.00h-1.00zM105.58 123.38h1.00v1.00h-1.00zM109.59 123.38h1.00v1.00h-1.00zM25.31 124.38h1.00v1.00h-1.00zM31.33 124.38h1.00v1.00h-1.00zM35.34 124.38h1.00v1.00h-1.00zM37.35 124.38h1.00v1.00h-1.00zM44.37 124.38h1.00v1.00h-1.00zM45.38 124.38h1.00v1.00h-1.00zM46.38 124.38h1.00v1.00h-1.00zM48.39 124.38h1.00v1.00h-1.00zM52.40 124.38h1.00v1.00h-1.00zM57.42 124.38h1.00v1.00h-1.00zM59.42 124.38h1.00v1.00h-1.00zM61.43 124.38h1.00v1.00h-1.00zM64.44 124.38h1.00v1.00h-1.00zM65.44 124.38h1.00v1.00h-1.00zM70.46 124.38h1.00v1.00h-1.00zM71.46 124.38h1.00v1.00h-1.00zM77.48 124.38h1.00v1.00h-1.00zM78.49 124.38h1.00v1.00h-1.00zM79.49 124.38h1.00v1.00h-1.00zM83.50 124.38h1.00v1.00h-1.00zM84.51 124.38h1.00v1.00h-1.00zM97.55 124.38h1.00v1.00h-1.00zM105.58 124.38h1.00v1.00h-1.00zM30.32 125.38h1.00v1.00h-1.00zM36.34 125.38h1.00v1.00h-1.00zM37.35 125.38h1.00v1.00h-1.00zM57.42 125.38h1.00v1.00h-1.00zM65.44 125.38h1.00v1.00h-1.00zM82.50 125.38h1.00v1.00h-1.00zM84.51 125.38h1.00v1.00h-1.00zM87.52 125.38h1.00v1.00h-1.00zM94.54 125.38h1.00v1.00h-1.00zM97.55 125.38h1.00v1.00h-1.00zM99.56 125.38h1.00v1.00h-1.00zM105.58 125.38h1.00v1.00h-1.00zM108.59 125.38h1.00v1.00h-1.00zM27.31 126.38h1.00v1.00h-1.00zM28.32 126.38h1.00v1.00h-1.00zM33.33 126.38h1.00v1.00h-1.00zM37.35 126.38h1.00v1.00h-1.00zM38.35 126.38h1.00v1.00h-1.00zM39.35 126.38h1.00v1.00h-1.00zM44.37 126.38h1.00v1.00h-1.00zM46.38 126.38h1.00v1.00h-1.00zM47.38 126.38h1.00v1.00h-1.00zM54.41 126.38h1.00v1.00h-1.00zM63.44 126.38h1.00v1.00h-1.00zM67.45 126.38h1.00v1.00h-1.00zM69.46 126.38h1.00v1.00h-1.00zM70.46 126.38h1.00v1.00h-1.00zM73.47 126.38h1.00v1.00h-1.00zM84.51 126.38h1.00v1.00h-1.00zM94.54 126.38h1.00v1.00h-1.00zM97.55 126.38h1.00v1.00h-1.00zM101.57 126.38h1.00v1.00h-1.00zM54.41 127.38h1.00v1.00h-1.00zM73.47 127.38h1.00v1.00h-1.00zM74.47 127.38h1.00v1.00h-1.00zM25.31 128.39h1.00v1.00h-1.00zM31.33 128.39h1.00v1.00h-1.00zM36.34 128.39h1.00v1.00h-1.00zM40.36 128.39h1.00v1.00h-1.00zM44.37 128.39h1.00v1.00h-1.00zM43.37 129.39h1.00v1.00h-1.00zM46.38 129.39h1.00v1.00h-1.00zM57.42 129.39h1.00v1.00h-1.00zM23.30 130.39h1.00v1.00h-1.00zM26.31 130.39h1.00v1.00h-1.00zM28.32 130.39h1.00v1.00h-1.00zM35.34 130.39h1.00v1.00h-1.00zM36.34 130.39h1.00v1.00h-1.00zM44.37 130.39h1.00v1.00h-1.00zM58.42 130.39h1.00v1.00h-1.00zM96.55 130.39h1.00v1.00h-1.00zM45.38 131.39h1.00v1.00h-1.00zM63.44 131.39h1.00v1.00h-1.00zM68.45 131.39h1.00v1.00h-1.00zM42.36 132.39h1.00v1.00h-1.00zM83.50 132.39h1.00v1.00h-1.00zM85.51 132.39h1.00v1.00h-1.00zM39.35 133.40h1.00v1.00h-1.00zM83.50 133.40h1.00v1.00h-1.00zM97.55 133.40h1.00v1.00h-1.00zM108.59 133.40h1.00v1.00h-1.00zM27.31 134.40h1.00v1.00h-1.00zM29.32 134.40h1.00v1.00h-1.00zM32.33 134.40h1.00v1.00h-1.00zM51.40 134.40h1.00v1.00h-1.00zM69.46 134.40h1.00v1.00h-1.00zM77.48 134.40h1.00v1.00h-1.00zM82.50 134.40h1.00v1.00h-1.00zM90.53 134.40h1.00v1.00h-1.00zM97.55 134.40h1.00v1.00h-1.00zM98.56 134.40h1.00v1.00h-1.00zM105.58 134.40h1.00v1.00h-1.00zM109.59 134.40h1.00v1.00h-1.00z"/>
<path fill="#d8765e" d="M54.41 34.20h1.00v1.00h-1.00zM95.55 36.20h1.00v1.00h-1.00zM40.36 39.21h1.00v1.00h-1.00zM53.40 39.21h1.00v1.00h-1.00zM95.55 39.21h1.00v1.00h-1.00zM25.31 40.21h1.00v1.00h-1.00zM78.49 40.21h1.00v1.00h-1.00zM28.32 42.22h1.00v1.00h-1.00zM69.46 44.22h1.00v1.00h-1.00zM34.34 46.22h1.00v1.00h-1.00zM58.42 48.23h1.00v1.00h-1.00zM102.57 49.23h1.00v1.00h-1.00zM54.41 52.24h1.00v1.00h-1.00zM62.43 52.24h1.00v1.00h-1.00zM40.36 53.24h1.00v1.00h-1.00zM105.58 53.24h1.00v1.00h-1.00zM35.34 54.24h1.00v1.00h-1.00zM80.49 55.24h1.00v1.00h-1.00zM74.47 57.25h1.00v1.00h-1.00zM53.40 58.25h1.00v1.00h-1.00zM44.37 60.25h1.00v1.00h-1.00zM74.47 60.25h1.00v1.00h-1.00zM99.56 60.25h1.00v1.00h-1.00zM100.56 60.25h1.00v1.00h-1.00zM24.30 63.26h1.00v1.00h-1.00zM32.33 65.26h1.00v1.00h-1.00zM45.38 65.26h1.00v1.00h-1.00zM51.40 65.26h1.00v1.00h-1.00zM69.46 66.26h1.00v1.00h-1.00zM58.42 68.27h1.00v1.00h-1.00zM102.57 69.27h1.00v1.00h-1.00zM106.58 69.27h1.00v1.00h-1.00zM74.47 72.28h1.00v1.00h-1.00zM77.48 72.28h1.00v1.00h-1.00zM79.49 72.28h1.00v1.00h-1.00zM86.51 72.28h1.00v1.00h-1.00zM51.40 74.28h1.00v1.00h-1.00zM109.59 75.28h1.00v1.00h-1.00zM28.32 76.28h1.00v1.00h-1.00zM58.42 76.28h1.00v1.00h-1.00zM87.52 76.28h1.00v1.00h-1.00zM33.33 78.29h1.00v1.00h-1.00zM71.46 78.29h1.00v1.00h-1.00zM63.44 80.29h1.00v1.00h-1.00zM100.56 80.29h1.00v1.00h-1.00zM98.56 81.29h1.00v1.00h-1.00zM38.35 82.30h1.00v1.00h-1.00zM31.33 83.30h1.00v1.00h-1.00zM75.48 84.30h1.00v1.00h-1.00zM97.55 85.30h1.00v1.00h-1.00zM92.54 86.30h1.00v1.00h-1.00zM29.32 87.30h1.00v1.00h-1.00zM55.41 87.30h1.00v1.00h-1.00zM101.57 87.30h1.00v1.00h-1.00zM50.39 89.31h1.00v1.00h-1.00zM54.41 90.31h1.00v1.00h-1.00zM39.35 91.31h1.00v1.00h-1.00zM54.41 92.31h1.00v1.00h-1.00zM66.45 92.31h1.00v1.00h-1.00zM69.46 92.31h1.00v1.00h-1.00zM75.48 92.31h1.00v1.00h-1.00zM26.31 93.32h1.00v1.00h-1.00zM81.50 93.32h1.00v1.00h-1.00zM29.32 94.32h1.00v1.00h-1.00zM104.58 94.32h1.00v1.00h-1.00zM108.59 96.32h1.00v1.00h-1.00zM64.44 97.32h1.00v1.00h-1.00zM72.47 97.32h1.00v1.00h-1.00zM39.35 99.33h1.00v1.00h-1.00zM72.47 99.33h1.00v1.00h-1.00zM43.37 101.33h1.00v1.00h-1.00zM87.52 101.33h1.00v1.00h-1.00zM41.36 103.34h1.00v1.00h-1.00zM102.57 105.34h1.00v1.00h-1.00zM109.59 108.35h1.00v1.00h-1.00zM38.35 109.35h1.00v1.00h-1.00zM58.42 109.35h1.00v1.00h-1.00zM63.44 109.35h1.00v1.00h-1.00zM32.33 111.35h1.00v1.00h-1.00zM38.35 111.35h1.00v1.00h-1.00zM49.39 111.35h1.00v1.00h-1.00zM61.43 111.35h1.00v1.00h-1.00zM37.35 112.35h1.00v1.00h-1.00zM108.59 112.35h1.00v1.00h-1.00zM94.54 113.36h1.00v1.00h-1.00zM53.40 114.36h1.00v1.00h-1.00zM79.49 115.36h1.00v1.00h-1.00zM92.54 115.36h1.00v1.00h-1.00zM98.56 115.36h1.00v1.00h-1.00zM101.57 115.36h1.00v1.00h-1.00zM45.38 116.36h1.00v1.00h-1.00zM96.55 116.36h1.00v1.00h-1.00zM63.44 117.36h1.00v1.00h-1.00zM59.42 119.37h1.00v1.00h-1.00zM98.56 119.37h1.00v1.00h-1.00zM42.36 120.37h1.00v1.00h-1.00zM46.38 120.37h1.00v1.00h-1.00zM50.39 120.37h1.00v1.00h-1.00zM68.45 122.37h1.00v1.00h-1.00zM29.32 123.38h1.00v1.00h-1.00zM35.34 123.38h1.00v1.00h-1.00zM71.46 123.38h1.00v1.00h-1.00zM75.48 123.38h1.00v1.00h-1.00zM104.58 123.38h1.00v1.00h-1.00zM54.41 124.38h1.00v1.00h-1.00zM34.34 126.38h1.00v1.00h-1.00zM52.40 126.38h1.00v1.00h-1.00zM87.52 126.38h1.00v1.00h-1.00zM89.52 126.38h1.00v1.00h-1.00zM99.56 130.39h1.00v1.00h-1.00zM108.59 130.39h1.00v1.00h-1.00zM108.59 131.39h1.00v1.00h-1.00zM50.39 133.40h1.00v1.00h-1.00zM57.42 133.40h1.00v1.00h-1.00zM75.48 133.40h1.00v1.00h-1.00zM38.35 134.40h1.00v1.00h-1.00zM81.50 134.40h1.00v1.00h-1.00zM83.50 134.40h1.00v1.00h-1.00z"/>
<path fill="#6a63a8" d="M82.50 34.20h1.00v1.00h-1.00zM91.53 34.20h1.00v1.00h-1.00zM35.34 35.20h1.00v1.00h-1.00zM49.39 35.20h1.00v1.00h-1.00zM81.50 35.20h1.00v1.00h-1.00zM82.50 35.20h1.00v1.00h-1.00zM83.50 35.20h1.00v1.00h-1.00zM91.53 35.20h1.00v1.00h-1.00zM28.32 36.20h1.00v1.00h-1.00zM58.42 36.20h1.00v1.00h-1.00zM65.44 36.20h1.00v1.00h-1.00zM89.52 36.20h1.00v1.00h-1.00zM104.58 36.20h1.00v1.00h-1.00zM34.34 37.21h1.00v1.00h-1.00zM39.35 37.21h1.00v1.00h-1.00zM41.36 37.21h1.00v1.00h-1.00zM47.38 37.21h1.00v1.00h-1.00zM62.43 37.21h1.00v1.00h-1.00zM91.53 37.21h1.00v1.00h-1.00zM92.54 37.21h1.00v1.00h-1.00zM104.58 37.21h1.00v1.00h-1.00zM107.59 37.21h1.00v1.00h-1.00zM110.60 37.21h1.00v1.00h-1.00zM41.36 38.21h1.00v1.00h-1.00zM43.37 38.21h1.00v1.00h-1.00zM61.43 38.21h1.00v1.00h-1.00zM68.45 38.21h1.00v1.00h-1.00zM94.54 38.21h1.00v1.00h-1.00zM95.55 38.21h1.00v1.00h-1.00zM99.56 38.21h1.00v1.00h-1.00zM27.31 39.21h1.00v1.00h-1.00zM32.33 39.21h1.00v1.00h-1.00zM54.41 39.21h1.00v1.00h-1.00zM64.44 39.21h1.00v1.00h-1.00zM75.48 39.21h1.00v1.00h-1.00zM81.50 39.21h1.00v1.00h-1.00zM87.52 39.21h1.00v1.00h-1.00zM105.58 39.21h1.00v1.00h-1.00zM29.32 40.21h1.00v1.00h-1.00zM30.32 40.21h1.00v1.00h-1.00zM68.45 40.21h1.00v1.00h-1.00zM72.47 40.21h1.00v1.00h-1.00zM90.53 40.21h1.00v1.00h-1.00zM91.53 40.21h1.00v1.00h-1.00zM96.55 40.21h1.00v1.00h-1.00zM32.33 41.21h1.00v1.00h-1.00zM36.34 41.21h1.00v1.00h-1.00zM38.35 41.21h1.00v1.00h-1.00zM54.41 41.21h1.00v1.00h-1.00zM60.43 41.21h1.00v1.00h-1.00zM71.46 41.21h1.00v1.00h-1.00zM85.51 41.21h1.00v1.00h-1.00zM90.53 41.21h1.00v1.00h-1.00zM33.33 42.22h1.00v1.00h-1.00zM65.44 42.22h1.00v1.00h-1.00zM74.47 42.22h1.00v1.00h-1.00zM84.51 42.22h1.00v1.00h-1.00zM24.30 43.22h1.00v1.00h-1.00zM106.58 43.22h1.00v1.00h-1.00zM59.42 44.22h1.00v1.00h-1.00zM66.45 44.22h1.00v1.00h-1.00zM67.45 44.22h1.00v1.00h-1.00zM92.54 44.22h1.00v1.00h-1.00zM44.37 45.22h1.00v1.00h-1.00zM78.49 45.22h1.00v1.00h-1.00zM36.34 46.22h1.00v1.00h-1.00zM53.40 46.22h1.00v1.00h-1.00zM54.41 46.22h1.00v1.00h-1.00zM55.41 46.22h1.00v1.00h-1.00zM68.45 46.22h1.00v1.00h-1.00zM84.51 46.22h1.00v1.00h-1.00zM90.53 46.22h1.00v1.00h-1.00zM92.54 46.22h1.00v1.00h-1.00zM97.55 46.22h1.00v1.00h-1.00zM60.43 47.23h1.00v1.00h-1.00zM66.45 47.23h1.00v1.00h-1.00zM44.37 48.23h1.00v1.00h-1.00zM52.40 48.23h1.00v1.00h-1.00zM104.58 48.23h1.00v1.00h-1.00zM105.58 48.23h1.00v1.00h-1.00zM70.46 50.23h1.00v1.00h-1.00zM39.35 51.23h1.00v1.00h-1.00zM91.53 51.23h1.00v1.00h-1.00zM29.32 52.24h1.00v1.00h-1.00zM38.35 52.24h1.00v1.00h-1.00zM40.36 52.24h1.00v1.00h-1.00zM44.37 52.24h1.00v1.00h-1.00zM46.38 52.24h1.00v1.00h-1.00zM55.41 52.24h1.00v1.00h-1.00zM72.47 52.24h1.00v1.00h-1.00zM82.50 52.24h1.00v1.00h-1.00zM83.50 52.24h1.00v1.00h-1.00zM101.57 52.24h1.00v1.00h-1.00zM105.58 52.24h1.00v1.00h-1.00zM23.30 53.24h1.00v1.00h-1.00zM63.44 53.24h1.00v1.00h-1.00zM80.49 53.24h1.00v1.00h-1.00zM85.51 53.24h1.00v1.00h-1.00zM93.54 53.24h1.00v1.00h-1.00zM99.56 53.24h1.00v1.00h-1.00zM107.59 53.24h1.00v1.00h-1.00zM108.59 53.24h1.00v1.00h-1.00zM31.33 54.24h1.00v1.00h-1.00zM39.35 54.24h1.00v1.00h-1.00zM43.37 54.24h1.00v1.00h-1.00zM47.38 54.24h1.00v1.00h-1.00zM64.44 54.24h1.00v1.00h-1.00zM74.47 54.24h1.00v1.00h-1.00zM75.48 54.24h1.00v1.00h-1.00zM106.58 54.24h1.00v1.00h-1.00zM25.31 55.24h1.00v1.00h-1.00zM37.35 55.24h1.00v1.00h-1.00zM40.36 55.24h1.00v1.00h-1.00zM52.40 55.24h1.00v1.00h-1.00zM67.45 55.24h1.00v1.00h-1.00zM75.48 55.24h1.00v1.00h-1.00zM76.48 55.24h1.00v1.00h-1.00zM77.48 55.24h1.00v1.00h-1.00zM79.49 55.24h1.00v1.00h-1.00zM88.52 55.24h1.00v1.00h-1.00zM89.52 55.24h1.00v1.00h-1.00zM25.31 56.24h1.00v1.00h-1.00zM29.32 56.24h1.00v1.00h-1.00zM37.35 56.24h1.00v1.00h-1.00zM39.35 56.24h1.00v1.00h-1.00zM47.38 56.24h1.00v1.00h-1.00zM49.39 56.24h1.00v1.00h-1.00zM78.49 56.24h1.00v1.00h-1.00zM89.52 56.24h1.00v1.00h-1.00zM38.35 57.25h1.00v1.00h-1.00zM48.39 57.25h1.00v1.00h-1.00zM76.48 57.25h1.00v1.00h-1.00zM79.49 57.25h1.00v1.00h-1.00zM94.54 57.25h1.00v1.00h-1.00zM64.44 58.25h1.00v1.00h-1.00zM81.50 58.25h1.00v1.00h-1.00zM103.57 58.25h1.00v1.00h-1.00zM32.33 59.25h1.00v1.00h-1.00zM33.33 59.25h1.00v1.00h-1.00zM74.47 59.25h1.00v1.00h-1.00zM42.36 60.25h1.00v1.00h-1.00zM43.37 60.25h1.00v1.00h-1.00zM69.46 60.25h1.00v1.00h-1.00zM81.50 60.25h1.00v1.00h-1.00zM95.55 60.25h1.00v1.00h-1.00zM98.56 60.25h1.00v1.00h-1.00zM102.57 60.25h1.00v1.00h-1.00zM104.58 60.25h1.00v1.00h-1.00zM39.35 61.25h1.00v1.00h-1.00zM90.53 61.25h1.00v1.00h-1.00zM93.54 61.25h1.00v1.00h-1.00zM108.59 61.25h1.00v1.00h-1.00zM26.31 62.26h1.00v1.00h-1.00zM69.46 62.26h1.00v1.00h-1.00zM84.51 62.26h1.00v1.00h-1.00zM109.59 62.26h1.00v1.00h-1.00zM55.41 63.26h1.00v1.00h-1.00zM79.49 63.26h1.00v1.00h-1.00zM80.49 63.26h1.00v1.00h-1.00zM97.55 63.26h1.00v1.00h-1.00zM102.57 63.26h1.00v1.00h-1.00zM107.59 64.26h1.00v1.00h-1.00zM68.45 65.26h1.00v1.00h-1.00zM80.49 65.26h1.00v1.00h-1.00zM88.52 65.26h1.00v1.00h-1.00zM95.55 65.26h1.00v1.00h-1.00zM101.57 65.26h1.00v1.00h-1.00zM105.58 65.26h1.00v1.00h-1.00zM109.59 65.26h1.00v1.00h-1.00zM36.34 66.26h1.00v1.00h-1.00zM47.38 66.26h1.00v1.00h-1.00zM54.41 66.26h1.00v1.00h-1.00zM65.44 66.26h1.00v1.00h-1.00zM102.57 66.26h1.00v1.00h-1.00zM23.30 67.27h1.00v1.00h-1.00zM36.34 67.27h1.00v1.00h-1.00zM68.45 67.27h1.00v1.00h-1.00zM102.57 67.27h1.00v1.00h-1.00zM102.57 68.27h1.00v1.00h-1.00zM35.34 69.27h1.00v1.00h-1.00zM59.42 69.27h1.00v1.00h-1.00zM67.45 69.27h1.00v1.00h-1.00zM63.44 70.27h1.00v1.00h-1.00zM96.55 70.27h1.00v1.00h-1.00zM85.51 71.27h1.00v1.00h-1.00zM105.58 71.27h1.00v1.00h-1.00zM35.34 72.28h1.00v1.00h-1.00zM36.34 72.28h1.00v1.00h-1.00zM48.39 72.28h1.00v1.00h-1.00zM57.42 72.28h1.00v1.00h-1.00zM94.54 72.28h1.00v1.00h-1.00zM106.58 72.28h1.00v1.00h-1.00zM109.59 72.28h1.00v1.00h-1.00zM24.30 73.28h1.00v1.00h-1.00zM58.42 73.28h1.00v1.00h-1.00zM69.46 73.28h1.00v1.00h-1.00zM24.30 74.28h1.00v1.00h-1.00zM32.33 74.28h1.00v1.00h-1.00zM55.41 74.28h1.00v1.00h-1.00zM63.44 74.28h1.00v1.00h-1.00zM94.54 74.28h1.00v1.00h-1.00zM72.47 75.28h1.00v1.00h-1.00zM23.30 76.28h1.00v1.00h-1.00zM54.41 76.28h1.00v1.00h-1.00zM74.47 76.28h1.00v1.00h-1.00zM91.53 76.28h1.00v1.00h-1.00zM93.54 76.28h1.00v1.00h-1.00zM94.54 76.28h1.00v1.00h-1.00zM108.59 76.28h1.00v1.00h-1.00zM109.59 76.28h1.00v1.00h-1.00zM23.30 77.29h1.00v1.00h-1.00zM43.37 77.29h1.00v1.00h-1.00zM44.37 77.29h1.00v1.00h-1.00zM70.46 77.29h1.00v1.00h-1.00zM77.48 77.29h1.00v1.00h-1.00zM90.53 77.29h1.00v1.00h-1.00zM94.54 77.29h1.00v1.00h-1.00zM99.56 77.29h1.00v1.00h-1.00zM102.57 77.29h1.00v1.00h-1.00zM108.59 77.29h1.00v1.00h-1.00zM32.33 78.29h1.00v1.00h-1.00zM37.35 78.29h1.00v1.00h-1.00zM38.35 78.29h1.00v1.00h-1.00zM103.57 78.29h1.00v1.00h-1.00zM30.32 80.29h1.00v1.00h-1.00zM42.36 80.29h1.00v1.00h-1.00zM68.45 80.29h1.00v1.00h-1.00zM75.48 80.29h1.00v1.00h-1.00zM78.49 80.29h1.00v1.00h-1.00zM85.51 80.29h1.00v1.00h-1.00zM88.52 80.29h1.00v1.00h-1.00zM96.55 80.29h1.00v1.00h-1.00zM97.55 80.29h1.00v1.00h-1.00zM37.35 81.29h1.00v1.00h-1.00zM44.37 81.29h1.00v1.00h-1.00zM55.41 81.29h1.00v1.00h-1.00zM58.42 81.29h1.00v1.00h-1.00zM60.43 81.29h1.00v1.00h-1.00zM94.54 81.29h1.00v1.00h-1.00zM99.56 81.29h1.00v1.00h-1.00zM100.56 81.29h1.00v1.00h-1.00zM104.58 82.30h1.00v1.00h-1.00zM66.45 83.30h1.00v1.00h-1.00zM77.48 83.30h1.00v1.00h-1.00zM98.56 83.30h1.00v1.00h-1.00zM30.32 84.30h1.00v1.00h-1.00zM45.38 84.30h1.00v1.00h-1.00zM89.52 84.30h1.00v1.00h-1.00zM98.56 84.30h1.00v1.00h-1.00zM109.59 84.30h1.00v1.00h-1.00zM71.46 85.30h1.00v1.00h-1.00zM82.50 85.30h1.00v1.00h-1.00zM42.36 86.30h1.00v1.00h-1.00zM47.38 86.30h1.00v1.00h-1.00zM52.40 86.30h1.00v1.00h-1.00zM70.46 86.30h1.00v1.00h-1.00zM72.47 86.30h1.00v1.00h-1.00zM78.49 86.30h1.00v1.00h-1.00zM79.49 86.30h1.00v1.00h-1.00zM80.49 86.30h1.00v1.00h-1.00zM81.50 86.30h1.00v1.00h-1.00zM96.55 86.30h1.00v1.00h-1.00zM100.56 86.30h1.00v1.00h-1.00zM109.59 86.30h1.00v1.00h-1.00zM41.36 87.30h1.00v1.00h-1.00zM47.38 87.30h1.00v1.00h-1.00zM52.40 87.30h1.00v1.00h-1.00zM53.40 87.30h1.00v1.00h-1.00zM57.42 87.30h1.00v1.00h-1.00zM76.48 87.30h1.00v1.00h-1.00zM102.57 87.30h1.00v1.00h-1.00zM105.58 87.30h1.00v1.00h-1.00zM108.59 87.30h1.00v1.00h-1.00zM72.47 88.31h1.00v1.00h-1.00zM103.57 88.31h1.00v1.00h-1.00zM23.30 89.31h1.00v1.00h-1.00zM32.33 89.31h1.00v1.00h-1.00zM49.39 89.31h1.00v1.00h-1.00zM53.40 90.31h1.00v1.00h-1.00zM76.48 90.31h1.00v1.00h-1.00zM42.36 91.31h1.00v1.00h-1.00zM47.38 91.31h1.00v1.00h-1.00zM72.47 91.31h1.00v1.00h-1.00zM98.56 91.31h1.00v1.00h-1.00zM31.33 92.31h1.00v1.00h-1.00zM35.34 92.31h1.00v1.00h-1.00zM40.36 92.31h1.00v1.00h-1.00zM52.40 92.31h1.00v1.00h-1.00zM60.43 92.31h1.00v1.00h-1.00zM68.45 92.31h1.00v1.00h-1.00zM77.48 92.31h1.00v1.00h-1.00zM82.50 92.31h1.00v1.00h-1.00zM85.51 92.31h1.00v1.00h-1.00zM92.54 92.31h1.00v1.00h-1.00zM35.34 93.32h1.00v1.00h-1.00zM42.36 93.32h1.00v1.00h-1.00zM52.40 93.32h1.00v1.00h-1.00zM74.47 93.32h1.00v1.00h-1.00zM103.57 93.32h1.00v1.00h-1.00zM44.37 94.32h1.00v1.00h-1.00zM56.41 94.32h1.00v1.00h-1.00zM70.46 94.32h1.00v1.00h-1.00zM71.46 95.32h1.00v1.00h-1.00zM102.57 95.32h1.00v1.00h-1.00zM66.45 96.32h1.00v1.00h-1.00zM91.53 96.32h1.00v1.00h-1.00zM104.58 96.32h1.00v1.00h-1.00zM37.35 97.32h1.00v1.00h-1.00zM51.40 97.32h1.00v1.00h-1.00zM52.40 97.32h1.00v1.00h-1.00zM54.41 97.32h1.00v1.00h-1.00zM66.45 97.32h1.00v1.00h-1.00zM86.51 97.32h1.00v1.00h-1.00zM87.52 97.32h1.00v1.00h-1.00zM90.53 97.32h1.00v1.00h-1.00zM56.41 98.33h1.00v1.00h-1.00zM28.32 99.33h1.00v1.00h-1.00zM30.32 99.33h1.00v1.00h-1.00zM49.39 99.33h1.00v1.00h-1.00zM57.42 99.33h1.00v1.00h-1.00zM25.31 100.33h1.00v1.00h-1.00zM32.33 100.33h1.00v1.00h-1.00zM37.35 100.33h1.00v1.00h-1.00zM50.39 100.33h1.00v1.00h-1.00zM108.59 100.33h1.00v1.00h-1.00zM109.59 100.33h1.00v1.00h-1.00zM49.39 101.33h1.00v1.00h-1.00zM51.40 101.33h1.00v1.00h-1.00zM88.52 101.33h1.00v1.00h-1.00zM108.59 101.33h1.00v1.00h-1.00zM109.59 101.33h1.00v1.00h-1.00zM23.30 102.33h1.00v1.00h-1.00zM48.39 102.33h1.00v1.00h-1.00zM61.43 102.33h1.00v1.00h-1.00zM55.41 103.34h1.00v1.00h-1.00zM59.42 103.34h1.00v1.00h-1.00zM68.45 103.34h1.00v1.00h-1.00zM78.49 103.34h1.00v1.00h-1.00zM23.30 104.34h1.00v1.00h-1.00zM24.30 104.34h1.00v1.00h-1.00zM25.31 104.34h1.00v1.00h-1.00zM32.33 104.34h1.00v1.00h-1.00zM71.46 104.34h1.00v1.00h-1.00zM74.47 104.34h1.00v1.00h-1.00zM52.40 105.34h1.00v1.00h-1.00zM59.42 105.34h1.00v1.00h-1.00zM83.50 105.34h1.00v1.00h-1.00zM54.41 106.34h1.00v1.00h-1.00zM79.49 107.34h1.00v1.00h-1.00zM33.33 108.35h1.00v1.00h-1.00zM49.39 108.35h1.00v1.00h-1.00zM83.50 108.35h1.00v1.00h-1.00zM104.58 108.35h1.00v1.00h-1.00zM33.33 109.35h1.00v1.00h-1.00zM55.41 109.35h1.00v1.00h-1.00zM56.41 109.35h1.00v1.00h-1.00zM57.42 109.35h1.00v1.00h-1.00zM68.45 109.35h1.00v1.00h-1.00zM85.51 109.35h1.00v1.00h-1.00zM67.45 110.35h1.00v1.00h-1.00zM88.52 110.35h1.00v1.00h-1.00zM101.57 110.35h1.00v1.00h-1.00zM28.32 111.35h1.00v1.00h-1.00zM36.34 111.35h1.00v1.00h-1.00zM44.37 111.35h1.00v1.00h-1.00zM46.38 111.35h1.00v1.00h-1.00zM58.42 111.35h1.00v1.00h-1.00zM66.45 111.35h1.00v1.00h-1.00zM74.47 111.35h1.00v1.00h-1.00zM81.50 111.35h1.00v1.00h-1.00zM84.51 111.35h1.00v1.00h-1.00zM99.56 111.35h1.00v1.00h-1.00zM109.59 111.35h1.00v1.00h-1.00zM53.40 112.35h1.00v1.00h-1.00zM85.51 112.35h1.00v1.00h-1.00zM89.52 112.35h1.00v1.00h-1.00zM25.31 113.36h1.00v1.00h-1.00zM26.31 113.36h1.00v1.00h-1.00zM29.32 113.36h1.00v1.00h-1.00zM30.32 113.36h1.00v1.00h-1.00zM63.44 113.36h1.00v1.00h-1.00zM64.44 113.36h1.00v1.00h-1.00zM87.52 113.36h1.00v1.00h-1.00zM98.56 113.36h1.00v1.00h-1.00zM44.37 114.36h1.00v1.00h-1.00zM56.41 114.36h1.00v1.00h-1.00zM65.44 114.36h1.00v1.00h-1.00zM70.46 114.36h1.00v1.00h-1.00zM99.56 114.36h1.00v1.00h-1.00zM100.56 114.36h1.00v1.00h-1.00zM25.31 115.36h1.00v1.00h-1.00zM27.31 115.36h1.00v1.00h-1.00zM32.33 115.36h1.00v1.00h-1.00zM50.39 115.36h1.00v1.00h-1.00zM52.40 115.36h1.00v1.00h-1.00zM53.40 115.36h1.00v1.00h-1.00zM57.42 115.36h1.00v1.00h-1.00zM59.42 115.36h1.00v1.00h-1.00zM63.44 115.36h1.00v1.00h-1.00zM108.59 115.36h1.00v1.00h-1.00zM109.59 115.36h1.00v1.00h-1.00zM39.35 116.36h1.00v1.00h-1.00zM57.42 116.36h1.00v1.00h-1.00zM69.46 116.36h1.00v1.00h-1.00zM75.48 116.36h1.00v1.00h-1.00zM85.51 116.36h1.00v1.00h-1.00zM100.56 116.36h1.00v1.00h-1.00zM101.57 116.36h1.00v1.00h-1.00zM28.32 117.36h1.00v1.00h-1.00zM34.34 117.36h1.00v1.00h-1.00zM42.36 117.36h1.00v1.00h-1.00zM50.39 117.36h1.00v1.00h-1.00zM53.40 117.36h1.00v1.00h-1.00zM60.43 117.36h1.00v1.00h-1.00zM62.43 117.36h1.00v1.00h-1.00zM67.45 117.36h1.00v1.00h-1.00zM90.53 117.36h1.00v1.00h-1.00zM98.56 117.36h1.00v1.00h-1.00zM24.30 118.37h1.00v1.00h-1.00zM35.34 118.37h1.00v1.00h-1.00zM41.36 118.37h1.00v1.00h-1.00zM65.44 118.37h1.00v1.00h-1.00zM71.46 118.37h1.00v1.00h-1.00zM80.49 118.37h1.00v1.00h-1.00zM86.51 118.37h1.00v1.00h-1.00zM87.52 118.37h1.00v1.00h-1.00zM96.55 118.37h1.00v1.00h-1.00zM101.57 118.37h1.00v1.00h-1.00zM103.57 118.37h1.00v1.00h-1.00zM105.58 118.37h1.00v1.00h-1.00zM39.35 119.37h1.00v1.00h-1.00zM41.36 119.37h1.00v1.00h-1.00zM47.38 119.37h1.00v1.00h-1.00zM52.40 119.37h1.00v1.00h-1.00zM58.42 119.37h1.00v1.00h-1.00zM62.43 119.37h1.00v1.00h-1.00zM63.44 119.37h1.00v1.00h-1.00zM65.44 119.37h1.00v1.00h-1.00zM71.46 119.37h1.00v1.00h-1.00zM91.53 119.37h1.00v1.00h-1.00zM93.54 119.37h1.00v1.00h-1.00zM94.54 119.37h1.00v1.00h-1.00zM27.31 120.37h1.00v1.00h-1.00zM34.34 120.37h1.00v1.00h-1.00zM48.39 120.37h1.00v1.00h-1.00zM59.42 120.37h1.00v1.00h-1.00zM64.44 120.37h1.00v1.00h-1.00zM66.45 120.37h1.00v1.00h-1.00zM68.45 120.37h1.00v1.00h-1.00zM69.46 120.37h1.00v1.00h-1.00zM74.47 120.37h1.00v1.00h-1.00zM75.48 120.37h1.00v1.00h-1.00zM88.52 120.37h1.00v1.00h-1.00zM95.55 120.37h1.00v1.00h-1.00zM104.58 120.37h1.00v1.00h-1.00zM107.59 120.37h1.00v1.00h-1.00zM24.30 121.37h1.00v1.00h-1.00zM25.31 121.37h1.00v1.00h-1.00zM42.36 121.37h1.00v1.00h-1.00zM65.44 121.37h1.00v1.00h-1.00zM67.45 121.37h1.00v1.00h-1.00zM75.48 121.37h1.00v1.00h-1.00zM110.60 121.37h1.00v1.00h-1.00zM40.36 122.37h1.00v1.00h-1.00zM43.37 122.37h1.00v1.00h-1.00zM54.41 122.37h1.00v1.00h-1.00zM55.41 122.37h1.00v1.00h-1.00zM64.44 122.37h1.00v1.00h-1.00zM89.52 122.37h1.00v1.00h-1.00zM98.56 122.37h1.00v1.00h-1.00zM110.60 122.37h1.00v1.00h-1.00zM23.30 123.38h1.00v1.00h-1.00zM24.30 123.38h1.00v1.00h-1.00zM25.31 123.38h1.00v1.00h-1.00zM34.34 123.38h1.00v1.00h-1.00zM36.34 123.38h1.00v1.00h-1.00zM39.35 123.38h1.00v1.00h-1.00zM48.39 123.38h1.00v1.00h-1.00zM59.42 123.38h1.00v1.00h-1.00zM65.44 123.38h1.00v1.00h-1.00zM66.45 123.38h1.00v1.00h-1.00zM81.50 123.38h1.00v1.00h-1.00zM84.51 123.38h1.00v1.00h-1.00zM90.53 123.38h1.00v1.00h-1.00zM93.54 123.38h1.00v1.00h-1.00zM97.55 123.38h1.00v1.00h-1.00zM30.32 124.38h1.00v1.00h-1.00zM36.34 124.38h1.00v1.00h-1.00zM80.49 124.38h1.00v1.00h-1.00zM93.54 124.38h1.00v1.00h-1.00zM23.30 125.38h1.00v1.00h-1.00zM25.31 125.38h1.00v1.00h-1.00zM38.35 125.38h1.00v1.00h-1.00zM39.35 125.38h1.00v1.00h-1.00zM41.36 125.38h1.00v1.00h-1.00zM50.39 125.38h1.00v1.00h-1.00zM51.40 125.38h1.00v1.00h-1.00zM53.40 125.38h1.00v1.00h-1.00zM62.43 125.38h1.00v1.00h-1.00zM77.48 125.38h1.00v1.00h-1.00zM86.51 125.38h1.00v1.00h-1.00zM88.52 125.38h1.00v1.00h-1.00zM89.52 125.38h1.00v1.00h-1.00zM25.31 126.38h1.00v1.00h-1.00zM51.40 126.38h1.00v1.00h-1.00zM55.41 126.38h1.00v1.00h-1.00zM58.42 126.38h1.00v1.00h-1.00zM59.42 126.38h1.00v1.00h-1.00zM62.43 126.38h1.00v1.00h-1.00zM93.54 126.38h1.00v1.00h-1.00zM105.58 126.38h1.00v1.00h-1.00zM108.59 126.38h1.00v1.00h-1.00zM39.35 127.38h1.00v1.00h-1.00zM42.36 127.38h1.00v1.00h-1.00zM60.43 127.38h1.00v1.00h-1.00zM61.43 127.38h1.00v1.00h-1.00zM80.49 127.38h1.00v1.00h-1.00zM88.52 127.38h1.00v1.00h-1.00zM27.31 128.39h1.00v1.00h-1.00zM34.34 128.39h1.00v1.00h-1.00zM45.38 128.39h1.00v1.00h-1.00zM30.32 129.39h1.00v1.00h-1.00zM58.42 129.39h1.00v1.00h-1.00zM99.56 129.39h1.00v1.00h-1.00zM42.36 130.39h1.00v1.00h-1.00zM63.44 130.39h1.00v1.00h-1.00zM70.46 130.39h1.00v1.00h-1.00zM79.49 130.39h1.00v1.00h-1.00zM86.51 130.39h1.00v1.00h-1.00zM89.52 130.39h1.00v1.00h-1.00zM100.56 130.39h1.00v1.00h-1.00zM51.40 131.39h1.00v1.00h-1.00zM31.33 132.39h1.00v1.00h-1.00zM33.33 132.39h1.00v1.00h-1.00zM107.59 132.39h1.00v1.00h-1.00zM58.42 133.40h1.00v1.00h-1.00zM106.58 133.40h1.00v1.00h-1.00zM55.41 134.40h1.00v1.00h-1.00z"/>
<path fill="#8880b8" d="M85.51 34.20h1.00v1.00h-1.00zM99.56 34.20h1.00v1.00h-1.00zM63.44 35.20h1.00v1.00h-1.00zM73.47 35.20h1.00v1.00h-1.00zM72.47 36.20h1.00v1.00h-1.00zM100.56 36.20h1.00v1.00h-1.00zM76.48 37.21h1.00v1.00h-1.00zM78.49 37.21h1.00v1.00h-1.00zM100.56 37.21h1.00v1.00h-1.00zM28.32 38.21h1.00v1.00h-1.00zM92.54 38.21h1.00v1.00h-1.00zM100.56 38.21h1.00v1.00h-1.00zM60.43 39.21h1.00v1.00h-1.00zM67.45 39.21h1.00v1.00h-1.00zM28.32 40.21h1.00v1.00h-1.00zM60.43 40.21h1.00v1.00h-1.00zM78.49 41.21h1.00v1.00h-1.00zM108.59 41.21h1.00v1.00h-1.00zM75.48 42.22h1.00v1.00h-1.00zM83.50 43.22h1.00v1.00h-1.00zM88.52 43.22h1.00v1.00h-1.00zM43.37 44.22h1.00v1.00h-1.00zM65.44 44.22h1.00v1.00h-1.00zM87.52 44.22h1.00v1.00h-1.00zM97.55 44.22h1.00v1.00h-1.00zM26.31 45.22h1.00v1.00h-1.00zM40.36 45.22h1.00v1.00h-1.00zM24.30 46.22h1.00v1.00h-1.00zM35.34 46.22h1.00v1.00h-1.00zM81.50 46.22h1.00v1.00h-1.00zM36.34 47.23h1.00v1.00h-1.00zM97.55 48.23h1.00v1.00h-1.00zM103.57 48.23h1.00v1.00h-1.00zM36.34 49.23h1.00v1.00h-1.00zM50.39 49.23h1.00v1.00h-1.00zM50.39 50.23h1.00v1.00h-1.00zM81.50 50.23h1.00v1.00h-1.00zM63.44 51.23h1.00v1.00h-1.00zM43.37 52.24h1.00v1.00h-1.00zM73.47 52.24h1.00v1.00h-1.00zM78.49 52.24h1.00v1.00h-1.00zM79.49 52.24h1.00v1.00h-1.00zM84.51 52.24h1.00v1.00h-1.00zM85.51 52.24h1.00v1.00h-1.00zM91.53 52.24h1.00v1.00h-1.00zM28.32 53.24h1.00v1.00h-1.00zM62.43 53.24h1.00v1.00h-1.00zM23.30 54.24h1.00v1.00h-1.00zM41.36 54.24h1.00v1.00h-1.00zM96.55 54.24h1.00v1.00h-1.00zM39.35 55.24h1.00v1.00h-1.00zM66.45 55.24h1.00v1.00h-1.00zM81.50 55.24h1.00v1.00h-1.00zM82.50 56.24h1.00v1.00h-1.00zM26.31 57.25h1.00v1.00h-1.00zM90.53 57.25h1.00v1.00h-1.00zM70.46 58.25h1.00v1.00h-1.00zM94.54 58.25h1.00v1.00h-1.00zM27.31 59.25h1.00v1.00h-1.00zM57.42 59.25h1.00v1.00h-1.00zM92.54 59.25h1.00v1.00h-1.00zM23.30 60.25h1.00v1.00h-1.00zM71.46 60.25h1.00v1.00h-1.00zM93.54 60.25h1.00v1.00h-1.00zM33.33 61.25h1.00v1.00h-1.00zM56.41 61.25h1.00v1.00h-1.00zM78.49 62.26h1.00v1.00h-1.00zM37.35 63.26h1.00v1.00h-1.00zM54.41 63.26h1.00v1.00h-1.00zM28.32 65.26h1.00v1.00h-1.00zM33.33 65.26h1.00v1.00h-1.00zM72.47 65.26h1.00v1.00h-1.00zM33.33 66.26h1.00v1.00h-1.00zM61.43 66.26h1.00v1.00h-1.00zM32.33 67.27h1.00v1.00h-1.00zM39.35 67.27h1.00v1.00h-1.00zM44.37 67.27h1.00v1.00h-1.00zM100.56 67.27h1.00v1.00h-1.00zM75.48 68.27h1.00v1.00h-1.00zM107.59 68.27h1.00v1.00h-1.00zM27.31 69.27h1.00v1.00h-1.00zM103.57 69.27h1.00v1.00h-1.00zM109.59 71.27h1.00v1.00h-1.00zM28.32 72.28h1.00v1.00h-1.00zM42.36 72.28h1.00v1.00h-1.00zM60.43 72.28h1.00v1.00h-1.00zM63.44 72.28h1.00v1.00h-1.00zM80.49 72.28h1.00v1.00h-1.00zM82.50 72.28h1.00v1.00h-1.00zM37.35 73.28h1.00v1.00h-1.00zM70.46 73.28h1.00v1.00h-1.00zM73.47 73.28h1.00v1.00h-1.00zM43.37 74.28h1.00v1.00h-1.00zM48.39 74.28h1.00v1.00h-1.00zM97.55 75.28h1.00v1.00h-1.00zM41.36 76.28h1.00v1.00h-1.00zM71.46 76.28h1.00v1.00h-1.00zM81.50 76.28h1.00v1.00h-1.00zM90.53 76.28h1.00v1.00h-1.00zM83.50 77.29h1.00v1.00h-1.00zM27.31 78.29h1.00v1.00h-1.00zM40.36 78.29h1.00v1.00h-1.00zM94.54 78.29h1.00v1.00h-1.00zM104.58 78.29h1.00v1.00h-1.00zM110.60 78.29h1.00v1.00h-1.00zM84.51 79.29h1.00v1.00h-1.00zM87.52 80.29h1.00v1.00h-1.00zM93.54 80.29h1.00v1.00h-1.00zM27.31 81.29h1.00v1.00h-1.00zM54.41 81.29h1.00v1.00h-1.00zM59.42 82.30h1.00v1.00h-1.00zM43.37 83.30h1.00v1.00h-1.00zM85.51 83.30h1.00v1.00h-1.00zM63.44 84.30h1.00v1.00h-1.00zM40.36 85.30h1.00v1.00h-1.00zM60.43 86.30h1.00v1.00h-1.00zM69.46 86.30h1.00v1.00h-1.00zM87.52 86.30h1.00v1.00h-1.00zM30.32 87.30h1.00v1.00h-1.00zM80.49 87.30h1.00v1.00h-1.00zM81.50 88.31h1.00v1.00h-1.00zM33.33 91.31h1.00v1.00h-1.00zM89.52 91.31h1.00v1.00h-1.00zM34.34 92.31h1.00v1.00h-1.00zM38.35 92.31h1.00v1.00h-1.00zM96.55 92.31h1.00v1.00h-1.00zM27.31 93.32h1.00v1.00h-1.00zM36.34 93.32h1.00v1.00h-1.00zM49.39 93.32h1.00v1.00h-1.00zM56.41 93.32h1.00v1.00h-1.00zM97.55 93.32h1.00v1.00h-1.00zM102.57 93.32h1.00v1.00h-1.00zM42.36 95.32h1.00v1.00h-1.00zM103.57 96.32h1.00v1.00h-1.00zM105.58 96.32h1.00v1.00h-1.00zM53.40 97.32h1.00v1.00h-1.00zM83.50 97.32h1.00v1.00h-1.00zM63.44 99.33h1.00v1.00h-1.00zM95.55 100.33h1.00v1.00h-1.00zM28.32 101.33h1.00v1.00h-1.00zM32.33 101.33h1.00v1.00h-1.00zM65.44 101.33h1.00v1.00h-1.00zM95.55 101.33h1.00v1.00h-1.00zM79.49 102.33h1.00v1.00h-1.00zM91.53 102.33h1.00v1.00h-1.00zM51.40 103.34h1.00v1.00h-1.00zM63.44 103.34h1.00v1.00h-1.00zM106.58 103.34h1.00v1.00h-1.00zM97.55 104.34h1.00v1.00h-1.00zM96.55 105.34h1.00v1.00h-1.00zM106.58 105.34h1.00v1.00h-1.00zM62.43 106.34h1.00v1.00h-1.00zM68.45 107.34h1.00v1.00h-1.00zM88.52 107.34h1.00v1.00h-1.00zM30.32 109.35h1.00v1.00h-1.00zM31.33 109.35h1.00v1.00h-1.00zM50.39 109.35h1.00v1.00h-1.00zM59.42 109.35h1.00v1.00h-1.00zM71.46 109.35h1.00v1.00h-1.00zM105.58 109.35h1.00v1.00h-1.00zM36.34 110.35h1.00v1.00h-1.00zM30.32 111.35h1.00v1.00h-1.00zM103.57 111.35h1.00v1.00h-1.00zM45.38 112.35h1.00v1.00h-1.00zM71.46 112.35h1.00v1.00h-1.00zM62.43 113.36h1.00v1.00h-1.00zM71.46 113.36h1.00v1.00h-1.00zM82.50 113.36h1.00v1.00h-1.00zM86.51 113.36h1.00v1.00h-1.00zM48.39 114.36h1.00v1.00h-1.00zM68.45 114.36h1.00v1.00h-1.00zM72.47 114.36h1.00v1.00h-1.00zM80.49 114.36h1.00v1.00h-1.00zM91.53 114.36h1.00v1.00h-1.00zM109.59 114.36h1.00v1.00h-1.00zM45.38 115.36h1.00v1.00h-1.00zM56.41 115.36h1.00v1.00h-1.00zM60.43 115.36h1.00v1.00h-1.00zM67.45 115.36h1.00v1.00h-1.00zM82.50 115.36h1.00v1.00h-1.00zM88.52 115.36h1.00v1.00h-1.00zM28.32 116.36h1.00v1.00h-1.00zM33.33 116.36h1.00v1.00h-1.00zM38.35 116.36h1.00v1.00h-1.00zM44.37 116.36h1.00v1.00h-1.00zM59.42 116.36h1.00v1.00h-1.00zM87.52 116.36h1.00v1.00h-1.00zM36.34 117.36h1.00v1.00h-1.00zM109.59 117.36h1.00v1.00h-1.00zM33.33 118.37h1.00v1.00h-1.00zM36.34 118.37h1.00v1.00h-1.00zM63.44 118.37h1.00v1.00h-1.00zM74.47 118.37h1.00v1.00h-1.00zM93.54 118.37h1.00v1.00h-1.00zM99.56 118.37h1.00v1.00h-1.00zM36.34 119.37h1.00v1.00h-1.00zM73.47 119.37h1.00v1.00h-1.00zM76.48 119.37h1.00v1.00h-1.00zM37.35 120.37h1.00v1.00h-1.00zM73.47 120.37h1.00v1.00h-1.00zM26.31 121.37h1.00v1.00h-1.00zM72.47 121.37h1.00v1.00h-1.00zM90.53 121.37h1.00v1.00h-1.00zM92.54 121.37h1.00v1.00h-1.00zM101.57 121.37h1.00v1.00h-1.00zM33.33 122.37h1.00v1.00h-1.00zM45.38 122.37h1.00v1.00h-1.00zM57.42 122.37h1.00v1.00h-1.00zM100.56 122.37h1.00v1.00h-1.00zM104.58 122.37h1.00v1.00h-1.00zM108.59 122.37h1.00v1.00h-1.00zM33.33 123.38h1.00v1.00h-1.00zM40.36 123.38h1.00v1.00h-1.00zM45.38 123.38h1.00v1.00h-1.00zM58.42 123.38h1.00v1.00h-1.00zM72.47 123.38h1.00v1.00h-1.00zM33.33 124.38h1.00v1.00h-1.00zM96.55 124.38h1.00v1.00h-1.00zM34.34 125.38h1.00v1.00h-1.00zM58.42 125.38h1.00v1.00h-1.00zM79.49 125.38h1.00v1.00h-1.00zM26.31 126.38h1.00v1.00h-1.00zM57.42 126.38h1.00v1.00h-1.00zM78.49 126.38h1.00v1.00h-1.00zM79.49 126.38h1.00v1.00h-1.00zM90.53 126.38h1.00v1.00h-1.00zM106.58 126.38h1.00v1.00h-1.00zM43.37 127.38h1.00v1.00h-1.00zM55.41 127.38h1.00v1.00h-1.00zM89.52 127.38h1.00v1.00h-1.00zM97.55 127.38h1.00v1.00h-1.00zM54.41 128.39h1.00v1.00h-1.00zM107.59 128.39h1.00v1.00h-1.00zM68.45 129.39h1.00v1.00h-1.00zM71.46 129.39h1.00v1.00h-1.00zM60.43 130.39h1.00v1.00h-1.00zM98.56 130.39h1.00v1.00h-1.00zM43.37 131.39h1.00v1.00h-1.00zM53.40 132.39h1.00v1.00h-1.00zM86.51 132.39h1.00v1.00h-1.00zM26.31 133.40h1.00v1.00h-1.00zM32.33 133.40h1.00v1.00h-1.00zM35.34 133.40h1.00v1.00h-1.00zM104.58 133.40h1.00v1.00h-1.00zM76.48 134.40h1.00v1.00h-1.00zM80.49 134.40h1.00v1.00h-1.00z"/>
<path fill="#9a5a86" d="M36.34 35.20h1.00v1.00h-1.00zM101.57 35.20h1.00v1.00h-1.00zM101.57 36.20h1.00v1.00h-1.00zM82.50 38.21h1.00v1.00h-1.00zM28.32 39.21h1.00v1.00h-1.00zM37.35 39.21h1.00v1.00h-1.00zM82.50 39.21h1.00v1.00h-1.00zM32.33 40.21h1.00v1.00h-1.00zM47.38 40.21h1.00v1.00h-1.00zM52.40 40.21h1.00v1.00h-1.00zM99.56 40.21h1.00v1.00h-1.00zM63.44 42.22h1.00v1.00h-1.00zM102.57 42.22h1.00v1.00h-1.00zM107.59 44.22h1.00v1.00h-1.00zM85.51 45.22h1.00v1.00h-1.00zM85.51 47.23h1.00v1.00h-1.00zM60.43 48.23h1.00v1.00h-1.00zM65.44 48.23h1.00v1.00h-1.00zM71.46 48.23h1.00v1.00h-1.00zM55.41 49.23h1.00v1.00h-1.00zM78.49 50.23h1.00v1.00h-1.00zM105.58 50.23h1.00v1.00h-1.00zM25.31 52.24h1.00v1.00h-1.00zM56.41 52.24h1.00v1.00h-1.00zM30.32 53.24h1.00v1.00h-1.00zM54.41 53.24h1.00v1.00h-1.00zM61.43 53.24h1.00v1.00h-1.00zM32.33 54.24h1.00v1.00h-1.00zM91.53 55.24h1.00v1.00h-1.00zM99.56 55.24h1.00v1.00h-1.00zM55.41 56.24h1.00v1.00h-1.00zM84.51 56.24h1.00v1.00h-1.00zM78.49 57.25h1.00v1.00h-1.00zM84.51 57.25h1.00v1.00h-1.00zM92.54 57.25h1.00v1.00h-1.00zM110.60 57.25h1.00v1.00h-1.00zM35.34 58.25h1.00v1.00h-1.00zM48.39 58.25h1.00v1.00h-1.00zM85.51 58.25h1.00v1.00h-1.00zM90.53 58.25h1.00v1.00h-1.00zM62.43 60.25h1.00v1.00h-1.00zM72.47 60.25h1.00v1.00h-1.00zM94.54 60.25h1.00v1.00h-1.00zM49.39 63.26h1.00v1.00h-1.00zM82.50 63.26h1.00v1.00h-1.00zM87.52 63.26h1.00v1.00h-1.00zM105.58 63.26h1.00v1.00h-1.00zM30.32 65.26h1.00v1.00h-1.00zM65.44 65.26h1.00v1.00h-1.00zM74.47 65.26h1.00v1.00h-1.00zM83.50 65.26h1.00v1.00h-1.00zM47.38 67.27h1.00v1.00h-1.00zM55.41 67.27h1.00v1.00h-1.00zM84.51 67.27h1.00v1.00h-1.00zM88.52 68.27h1.00v1.00h-1.00zM103.57 68.27h1.00v1.00h-1.00zM23.30 69.27h1.00v1.00h-1.00zM47.38 69.27h1.00v1.00h-1.00zM88.52 70.27h1.00v1.00h-1.00zM37.35 71.27h1.00v1.00h-1.00zM39.35 71.27h1.00v1.00h-1.00zM98.56 71.27h1.00v1.00h-1.00zM29.32 72.28h1.00v1.00h-1.00zM66.45 72.28h1.00v1.00h-1.00zM84.51 72.28h1.00v1.00h-1.00zM92.54 72.28h1.00v1.00h-1.00zM102.57 72.28h1.00v1.00h-1.00zM66.45 73.28h1.00v1.00h-1.00zM40.36 74.28h1.00v1.00h-1.00zM54.41 74.28h1.00v1.00h-1.00zM70.46 74.28h1.00v1.00h-1.00zM52.40 75.28h1.00v1.00h-1.00zM100.56 75.28h1.00v1.00h-1.00zM25.31 76.28h1.00v1.00h-1.00zM26.31 76.28h1.00v1.00h-1.00zM32.33 77.29h1.00v1.00h-1.00zM37.35 77.29h1.00v1.00h-1.00zM39.35 77.29h1.00v1.00h-1.00zM52.40 77.29h1.00v1.00h-1.00zM82.50 77.29h1.00v1.00h-1.00zM95.55 77.29h1.00v1.00h-1.00zM88.52 78.29h1.00v1.00h-1.00zM102.57 79.29h1.00v1.00h-1.00zM26.31 80.29h1.00v1.00h-1.00zM33.33 81.29h1.00v1.00h-1.00zM36.34 81.29h1.00v1.00h-1.00zM47.38 81.29h1.00v1.00h-1.00zM66.45 81.29h1.00v1.00h-1.00zM105.58 81.29h1.00v1.00h-1.00zM32.33 82.30h1.00v1.00h-1.00zM76.48 82.30h1.00v1.00h-1.00zM94.54 82.30h1.00v1.00h-1.00zM29.32 83.30h1.00v1.00h-1.00zM64.44 83.30h1.00v1.00h-1.00zM84.51 83.30h1.00v1.00h-1.00zM50.39 84.30h1.00v1.00h-1.00zM66.45 84.30h1.00v1.00h-1.00zM82.50 84.30h1.00v1.00h-1.00zM51.40 85.30h1.00v1.00h-1.00zM109.59 85.30h1.00v1.00h-1.00zM25.31 86.30h1.00v1.00h-1.00zM34.34 86.30h1.00v1.00h-1.00zM36.34 86.30h1.00v1.00h-1.00zM55.41 86.30h1.00v1.00h-1.00zM62.43 86.30h1.00v1.00h-1.00zM25.31 87.30h1.00v1.00h-1.00zM58.42 87.30h1.00v1.00h-1.00zM85.51 87.30h1.00v1.00h-1.00zM90.53 87.30h1.00v1.00h-1.00zM54.41 88.31h1.00v1.00h-1.00zM63.44 88.31h1.00v1.00h-1.00zM38.35 89.31h1.00v1.00h-1.00zM57.42 89.31h1.00v1.00h-1.00zM83.50 90.31h1.00v1.00h-1.00zM109.59 91.31h1.00v1.00h-1.00zM25.31 92.31h1.00v1.00h-1.00zM42.36 92.31h1.00v1.00h-1.00zM46.38 92.31h1.00v1.00h-1.00zM79.49 92.31h1.00v1.00h-1.00zM95.55 92.31h1.00v1.00h-1.00zM50.39 93.32h1.00v1.00h-1.00zM76.48 93.32h1.00v1.00h-1.00zM83.50 93.32h1.00v1.00h-1.00zM74.47 94.32h1.00v1.00h-1.00zM35.34 96.32h1.00v1.00h-1.00zM73.47 96.32h1.00v1.00h-1.00zM100.56 96.32h1.00v1.00h-1.00zM30.32 97.32h1.00v1.00h-1.00zM35.34 97.32h1.00v1.00h-1.00zM60.43 97.32h1.00v1.00h-1.00zM79.49 99.33h1.00v1.00h-1.00zM94.54 99.33h1.00v1.00h-1.00zM96.55 99.33h1.00v1.00h-1.00zM72.47 100.33h1.00v1.00h-1.00zM89.52 100.33h1.00v1.00h-1.00zM29.32 101.33h1.00v1.00h-1.00zM61.43 101.33h1.00v1.00h-1.00zM93.54 101.33h1.00v1.00h-1.00zM54.41 103.34h1.00v1.00h-1.00zM67.45 103.34h1.00v1.00h-1.00zM75.48 103.34h1.00v1.00h-1.00zM37.35 104.34h1.00v1.00h-1.00zM107.59 104.34h1.00v1.00h-1.00zM108.59 104.34h1.00v1.00h-1.00zM94.54 105.34h1.00v1.00h-1.00zM109.59 105.34h1.00v1.00h-1.00zM43.37 106.34h1.00v1.00h-1.00zM59.42 107.34h1.00v1.00h-1.00zM96.55 108.35h1.00v1.00h-1.00zM27.31 109.35h1.00v1.00h-1.00zM87.52 109.35h1.00v1.00h-1.00zM93.54 109.35h1.00v1.00h-1.00zM110.60 109.35h1.00v1.00h-1.00zM82.50 110.35h1.00v1.00h-1.00zM90.53 110.35h1.00v1.00h-1.00zM55.41 111.35h1.00v1.00h-1.00zM34.34 112.35h1.00v1.00h-1.00zM49.39 112.35h1.00v1.00h-1.00zM94.54 112.35h1.00v1.00h-1.00zM24.30 113.36h1.00v1.00h-1.00zM49.39 113.36h1.00v1.00h-1.00zM85.51 113.36h1.00v1.00h-1.00zM27.31 114.36h1.00v1.00h-1.00zM30.32 114.36h1.00v1.00h-1.00zM55.41 114.36h1.00v1.00h-1.00zM59.42 114.36h1.00v1.00h-1.00zM67.45 114.36h1.00v1.00h-1.00zM108.59 114.36h1.00v1.00h-1.00zM70.46 115.36h1.00v1.00h-1.00zM30.32 116.36h1.00v1.00h-1.00zM104.58 116.36h1.00v1.00h-1.00zM51.40 117.36h1.00v1.00h-1.00zM78.49 117.36h1.00v1.00h-1.00zM28.32 118.37h1.00v1.00h-1.00zM72.47 118.37h1.00v1.00h-1.00zM25.31 120.37h1.00v1.00h-1.00zM55.41 120.37h1.00v1.00h-1.00zM67.45 120.37h1.00v1.00h-1.00zM99.56 120.37h1.00v1.00h-1.00zM108.59 120.37h1.00v1.00h-1.00zM40.36 121.37h1.00v1.00h-1.00zM46.38 121.37h1.00v1.00h-1.00zM74.47 121.37h1.00v1.00h-1.00zM93.54 121.37h1.00v1.00h-1.00zM32.33 122.37h1.00v1.00h-1.00zM59.42 122.37h1.00v1.00h-1.00zM74.47 122.37h1.00v1.00h-1.00zM75.48 122.37h1.00v1.00h-1.00zM41.36 123.38h1.00v1.00h-1.00zM51.40 123.38h1.00v1.00h-1.00zM57.42 123.38h1.00v1.00h-1.00zM83.50 123.38h1.00v1.00h-1.00zM38.35 124.38h1.00v1.00h-1.00zM50.39 124.38h1.00v1.00h-1.00zM66.45 124.38h1.00v1.00h-1.00zM74.47 124.38h1.00v1.00h-1.00zM85.51 124.38h1.00v1.00h-1.00zM99.56 124.38h1.00v1.00h-1.00zM107.59 124.38h1.00v1.00h-1.00zM80.49 125.38h1.00v1.00h-1.00zM43.37 126.38h1.00v1.00h-1.00zM48.39 126.38h1.00v1.00h-1.00zM53.40 126.38h1.00v1.00h-1.00zM91.53 126.38h1.00v1.00h-1.00zM107.59 126.38h1.00v1.00h-1.00zM27.31 127.38h1.00v1.00h-1.00zM47.38 127.38h1.00v1.00h-1.00zM68.45 128.39h1.00v1.00h-1.00zM82.50 129.39h1.00v1.00h-1.00zM86.51 129.39h1.00v1.00h-1.00zM101.57 130.39h1.00v1.00h-1.00zM50.39 131.39h1.00v1.00h-1.00zM52.40 131.39h1.00v1.00h-1.00zM78.49 131.39h1.00v1.00h-1.00zM99.56 131.39h1.00v1.00h-1.00zM39.35 132.39h1.00v1.00h-1.00zM60.43 133.40h1.00v1.00h-1.00zM84.51 133.40h1.00v1.00h-1.00z"/>
<path fill="#e0906a" d="M70.46 36.20h1.00v1.00h-1.00zM91.53 38.21h1.00v1.00h-1.00zM52.40 54.24h1.00v1.00h-1.00zM91.53 56.24h1.00v2.00h-1.00zM70.46 60.25h1.00v1.00h-1.00zM47.38 61.25h1.00v2.00h-1.00zM91.53 67.27h1.00v1.00h-1.00zM101.57 69.27h1.00v2.00h-1.00zM96.55 76.28h1.00v1.00h-1.00zM93.54 80.29h1.00v2.00h-1.00zM27.31 81.29h1.00v1.00h-1.00zM73.47 96.32h1.00v1.00h-1.00zM104.58 97.32h1.00v1.00h-1.00zM106.58 99.33h1.00v2.00h-1.00zM83.50 100.33h1.00v1.00h-1.00zM84.51 119.37h1.00v2.00h-1.00zM66.45 122.37h1.00v2.00h-1.00zM99.56 123.38h1.00v1.00h-1.00zM23.30 128.39h1.00v1.00h-1.00zM42.36 133.40h1.00v1.00h-1.00z"/>
<path fill="#c8606a" d="M27.31 44.22h1.00v2.00h-1.00zM28.32 53.24h1.00v1.00h-1.00zM30.32 55.24h1.00v2.00h-1.00zM59.42 85.30h1.00v1.00h-1.00zM74.47 99.33h1.00v1.00h-1.00zM80.49 101.33h1.00v1.00h-1.00zM103.57 112.35h1.00v2.00h-1.00zM78.49 114.36h1.00v1.00h-1.00zM79.49 117.36h1.00v1.00h-1.00zM91.53 118.37h1.00v1.00h-1.00zM74.47 122.37h1.00v2.00h-1.00zM27.31 125.38h1.00v1.00h-1.00z"/>
<path fill="#d8785c" d="M85.51 71.27h1.00v1.00h-1.00zM47.38 76.28h1.00v2.00h-1.00zM75.48 81.29h1.00v2.00h-1.00zM40.36 96.32h1.00v1.00h-1.00zM39.35 101.33h1.00v1.00h-1.00zM54.41 111.35h1.00v1.00h-1.00zM102.57 111.35h1.00v1.00h-1.00zM83.50 115.36h1.00v1.00h-1.00zM90.53 123.38h1.00v2.00h-1.00z"/>
<path fill="#f2c8c0" d="M46.20 42.20h1.40v3.20h-1.40zM42.20 69.00h1.40v4.40h-1.40z"/>
<path fill="#f4d8d0" d="M50.90 46.60h1.40v3.70h-1.40z"/>
<path fill="#ef9a70" d="M36.70 51.00h1.40v3.60h-1.40zM59.90 62.30h1.40v3.00h-1.40z"/>
<path fill="#ec8a5e" d="M26.30 55.20h1.40v2.50h-1.40zM53.30 38.60h1.40v1.60h-1.40zM49.50 73.60h1.40v2.20h-1.40zM54.90 78.20h1.40v2.20h-1.40z"/>
<path fill="#e07050" d="M58.60 83.80h1.40v2.00h-1.40zM48.60 90.00h1.40v2.20h-1.40zM56.80 94.00h1.40v2.00h-1.40z"/>
<path fill="#e07a56" d="M31.20 96.60h1.40v2.00h-1.40zM42.20 104.00h1.40v2.00h-1.40zM29.30 126.50h1.40v2.50h-1.40zM83.30 119.00h1.40v3.00h-1.40zM74.30 64.00h1.40v1.50h-1.40zM98.30 61.00h1.40v1.50h-1.40zM104.30 77.00h1.40v1.50h-1.40z"/>
<path fill="#f0b090" d="M37.60 111.00h1.40v2.50h-1.40z"/>
<path fill="#f0c0b0" d="M78.30 116.00h1.40v4.00h-1.40z"/>
<path fill="#e8b0a0" d="M89.30 118.00h1.40v3.00h-1.40z"/>
<defs><linearGradient id="gA" x1="0" x2="1" y1="0" y2="0"><stop offset="0" stop-color="#1c1a6e"/><stop offset="0.25" stop-color="#4a48a8"/><stop offset="0.55" stop-color="#f8f4f6"/><stop offset="0.8" stop-color="#e04a40"/><stop offset="1" stop-color="#8e1818"/></linearGradient></defs>
<rect x="55.60" y="139.40" width="22.20" height="3.60" fill="url(#gA)" stroke="#333" stroke-width="0.4"/>
<line x1="56.60" y1="143.00" x2="56.60" y2="145.00" stroke="#555" stroke-width="0.5"/>
<line x1="62.00" y1="143.00" x2="62.00" y2="145.00" stroke="#555" stroke-width="0.5"/>
<line x1="67.60" y1="143.00" x2="67.60" y2="145.00" stroke="#555" stroke-width="0.5"/>
<line x1="73.60" y1="143.00" x2="73.60" y2="145.00" stroke="#555" stroke-width="0.5"/>
<text x="55.90" y="153.40" font-size="7.0" fill="#231f20" text-anchor="middle" stroke="#231f20" stroke-width="0.1">0</text>
<text x="61.70" y="153.40" font-size="7.0" fill="#231f20" text-anchor="middle" stroke="#231f20" stroke-width="0.1">5</text>
<text x="66.70" y="153.40" font-size="7.0" fill="#231f20" text-anchor="middle" textLength="5.80" lengthAdjust="spacingAndGlyphs" stroke="#231f20" stroke-width="0.1">10</text>
<text x="73.50" y="153.40" font-size="7.0" fill="#231f20" text-anchor="middle" textLength="5.80" lengthAdjust="spacingAndGlyphs" stroke="#231f20" stroke-width="0.1">15</text>
<text x="9.40" y="164.30" font-size="8.4" fill="#231f20" textLength="115.50" lengthAdjust="spacingAndGlyphs" stroke="#231f20" stroke-width="0.1">Transcripts per million + 1, log<tspan font-size="6" dy="1.8">2</tspan></text>
<text x="227.70" y="35.40" font-size="9.3" fill="#231f20" textLength="74.60" lengthAdjust="spacingAndGlyphs">Biological Processes</text>
<line x1="137.70" y1="38.70" x2="308.20" y2="38.70" stroke="#231f20" stroke-width="1.0"/>
<text x="178.10" y="48.50" font-size="6.5" fill="#231f20" textLength="88.40" lengthAdjust="spacingAndGlyphs" stroke="#231f20" stroke-width="0.1">Response to interferon–gamma</text>
<line x1="270.30" y1="46.20" x2="273.40" y2="46.20" stroke="#231f20" stroke-width="0.9"/>
<rect x="274.60" y="42.10" width="33.30" height="8.20" fill="#d7a346"/>
<text x="215.40" y="57.90" font-size="6.5" fill="#231f20" textLength="51.10" lengthAdjust="spacingAndGlyphs" stroke="#231f20" stroke-width="0.1">Immune response</text>
<line x1="270.30" y1="55.60" x2="273.40" y2="55.60" stroke="#231f20" stroke-width="0.9"/>
<rect x="274.60" y="51.50" width="18.90" height="8.20" fill="#d7a346"/>
<text x="158.30" y="67.30" font-size="6.5" fill="#231f20" textLength="108.20" lengthAdjust="spacingAndGlyphs" stroke="#231f20" stroke-width="0.1">Regulation of innate immune response</text>
<line x1="270.30" y1="65.00" x2="273.40" y2="65.00" stroke="#231f20" stroke-width="0.9"/>
<rect x="274.60" y="60.90" width="12.40" height="8.20" fill="#d7a346"/>
<text x="201.90" y="76.70" font-size="6.5" fill="#231f20" textLength="64.60" lengthAdjust="spacingAndGlyphs" stroke="#231f20" stroke-width="0.1">Inflammatory response</text>
<line x1="270.30" y1="74.40" x2="273.40" y2="74.40" stroke="#231f20" stroke-width="0.9"/>
<rect x="274.60" y="70.30" width="10.40" height="8.20" fill="#d7a346"/>
<text x="189.80" y="86.10" font-size="6.5" fill="#231f20" textLength="76.70" lengthAdjust="spacingAndGlyphs" stroke="#231f20" stroke-width="0.1">Adaptive immune response</text>
<line x1="270.30" y1="83.80" x2="273.40" y2="83.80" stroke="#231f20" stroke-width="0.9"/>
<rect x="274.60" y="79.70" width="9.60" height="8.20" fill="#d7a346"/>
<text x="181.70" y="95.50" font-size="6.5" fill="#231f20" textLength="84.80" lengthAdjust="spacingAndGlyphs" stroke="#231f20" stroke-width="0.1">Transcription, DNA–templated</text>
<line x1="270.30" y1="93.20" x2="273.40" y2="93.20" stroke="#231f20" stroke-width="0.9"/>
<rect x="274.60" y="89.10" width="8.30" height="8.20" fill="#8e8e8e"/>
<text x="220.80" y="104.90" font-size="6.5" fill="#231f20" textLength="45.70" lengthAdjust="spacingAndGlyphs" stroke="#231f20" stroke-width="0.1">Phosphorylation</text>
<line x1="270.30" y1="102.60" x2="273.40" y2="102.60" stroke="#231f20" stroke-width="0.9"/>
<rect x="274.60" y="98.50" width="8.40" height="8.20" fill="#8e8e8e"/>
<text x="198.70" y="114.30" font-size="6.5" fill="#231f20" textLength="67.80" lengthAdjust="spacingAndGlyphs" stroke="#231f20" stroke-width="0.1">Protein phosphorylation</text>
<line x1="270.30" y1="112.00" x2="273.40" y2="112.00" stroke="#231f20" stroke-width="0.9"/>
<rect x="274.60" y="107.90" width="8.40" height="8.20" fill="#8e8e8e"/>
<text x="147.50" y="123.70" font-size="6.5" fill="#231f20" textLength="119.00" lengthAdjust="spacingAndGlyphs" stroke="#231f20" stroke-width="0.1">Cellular response to DNA damage stimulus</text>
<line x1="270.30" y1="121.40" x2="273.40" y2="121.40" stroke="#231f20" stroke-width="0.9"/>
<rect x="274.60" y="117.30" width="8.40" height="8.20" fill="#8e8e8e"/>
<text x="143.80" y="133.10" font-size="6.5" fill="#231f20" textLength="122.70" lengthAdjust="spacingAndGlyphs" stroke="#231f20" stroke-width="0.1">Regulation of transcription, DNA–templated</text>
<line x1="270.30" y1="130.80" x2="273.40" y2="130.80" stroke="#231f20" stroke-width="0.9"/>
<rect x="274.60" y="126.70" width="7.20" height="8.20" fill="#8e8e8e"/>
<line x1="273.40" y1="39.80" x2="273.40" y2="136.40" stroke="#231f20" stroke-width="1.0"/>
<line x1="272.90" y1="136.00" x2="309.20" y2="136.00" stroke="#231f20" stroke-width="1.0"/>
<line x1="274.80" y1="136.00" x2="274.80" y2="139.00" stroke="#231f20" stroke-width="0.8"/>
<text x="274.80" y="148.20" font-size="6.6" fill="#231f20" text-anchor="middle" stroke="#231f20" stroke-width="0.1">0</text>
<line x1="287.90" y1="136.00" x2="287.90" y2="139.00" stroke="#231f20" stroke-width="0.8"/>
<text x="287.90" y="148.20" font-size="6.6" fill="#231f20" text-anchor="middle" stroke="#231f20" stroke-width="0.1">10</text>
<line x1="300.40" y1="136.00" x2="300.40" y2="139.00" stroke="#231f20" stroke-width="0.8"/>
<text x="300.40" y="148.20" font-size="6.6" fill="#231f20" text-anchor="middle" stroke="#231f20" stroke-width="0.1">20</text>
<text x="265.00" y="160.30" font-size="8.6" fill="#231f20" textLength="52.20" lengthAdjust="spacingAndGlyphs" stroke="#231f20" stroke-width="0.1">P value, -log<tspan font-size="6.2" dy="1.8">10</tspan></text>
<text x="285.70" y="120.30" font-size="5.2" fill="#444" textLength="19.50" lengthAdjust="spacingAndGlyphs" stroke="#444" stroke-width="0.1">Enrichment</text>
<rect x="285.60" y="123.20" width="3.00" height="3.00" fill="#d7a346"/>
<text x="291.50" y="126.20" font-size="5.2" fill="#444" stroke="#444" stroke-width="0.1">D</text>
<rect x="285.60" y="129.20" width="3.00" height="3.00" fill="#8e8e8e"/>
<text x="291.50" y="132.20" font-size="5.2" fill="#444" stroke="#444" stroke-width="0.1">R</text>
<line x1="358.80" y1="58.80" x2="359.40" y2="118.00" stroke="#231f20" stroke-width="0.9"/>
<line x1="451.60" y1="60.20" x2="446.60" y2="118.50" stroke="#231f20" stroke-width="0.9"/>
<line x1="359.60" y1="117.60" x2="403.60" y2="141.60" stroke="#231f20" stroke-width="0.9"/>
<line x1="403.60" y1="141.60" x2="446.60" y2="117.60" stroke="#231f20" stroke-width="0.9"/>
<line x1="356.00" y1="66.00" x2="358.80" y2="66.00" stroke="#231f20" stroke-width="0.7"/>
<text x="352.40" y="68.50" font-size="7.0" fill="#231f20" text-anchor="end" textLength="11.80" lengthAdjust="spacingAndGlyphs" stroke="#231f20" stroke-width="0.1">0.20</text>
<line x1="356.00" y1="79.40" x2="358.80" y2="79.40" stroke="#231f20" stroke-width="0.7"/>
<text x="352.40" y="81.90" font-size="7.0" fill="#231f20" text-anchor="end" textLength="11.80" lengthAdjust="spacingAndGlyphs" stroke="#231f20" stroke-width="0.1">0.15</text>
<line x1="356.00" y1="92.40" x2="358.80" y2="92.40" stroke="#231f20" stroke-width="0.7"/>
<text x="352.40" y="94.90" font-size="7.0" fill="#231f20" text-anchor="end" textLength="11.80" lengthAdjust="spacingAndGlyphs" stroke="#231f20" stroke-width="0.1">0.10</text>
<line x1="356.00" y1="105.40" x2="358.80" y2="105.40" stroke="#231f20" stroke-width="0.7"/>
<text x="352.40" y="107.90" font-size="7.0" fill="#231f20" text-anchor="end" textLength="11.80" lengthAdjust="spacingAndGlyphs" stroke="#231f20" stroke-width="0.1">0.05</text>
<text x="344.00" y="120.00" font-size="7.0" fill="#231f20" stroke="#231f20" stroke-width="0.1">0</text>
<text x="347.60" y="123.00" font-size="7.0" fill="#231f20" stroke="#231f20" stroke-width="0.1">0</text>
<text x="365.60" y="134.80" font-size="7.0" fill="#231f20" text-anchor="middle" textLength="11.60" lengthAdjust="spacingAndGlyphs" stroke="#231f20" stroke-width="0.1">0.05</text>
<text x="381.50" y="144.00" font-size="7.0" fill="#231f20" text-anchor="middle" textLength="11.60" lengthAdjust="spacingAndGlyphs" stroke="#231f20" stroke-width="0.1">0.10</text>
<line x1="370.60" y1="123.60" x2="369.10" y2="126.40" stroke="#231f20" stroke-width="0.6"/>
<line x1="381.60" y1="129.60" x2="380.10" y2="132.40" stroke="#231f20" stroke-width="0.6"/>
<line x1="392.60" y1="135.60" x2="391.10" y2="138.40" stroke="#231f20" stroke-width="0.6"/>
<text x="449.60" y="126.70" font-size="7.0" fill="#231f20" text-anchor="middle" textLength="11.60" lengthAdjust="spacingAndGlyphs" stroke="#231f20" stroke-width="0.1">0.05</text>
<text x="439.00" y="132.70" font-size="7.0" fill="#231f20" text-anchor="middle" textLength="11.60" lengthAdjust="spacingAndGlyphs" stroke="#231f20" stroke-width="0.1">0.10</text>
<text x="428.60" y="138.50" font-size="7.0" fill="#231f20" text-anchor="middle" textLength="11.60" lengthAdjust="spacingAndGlyphs" stroke="#231f20" stroke-width="0.1">0.15</text>
<text x="417.20" y="145.20" font-size="7.0" fill="#231f20" text-anchor="middle" textLength="11.60" lengthAdjust="spacingAndGlyphs" stroke="#231f20" stroke-width="0.1">0.20</text>
<text x="451.30" y="121.60" font-size="7.0" fill="#231f20" stroke="#231f20" stroke-width="0.1">0</text>
<line x1="412.20" y1="136.80" x2="413.70" y2="139.60" stroke="#231f20" stroke-width="0.6"/>
<line x1="420.80" y1="132.00" x2="422.30" y2="134.80" stroke="#231f20" stroke-width="0.6"/>
<line x1="429.40" y1="127.20" x2="430.90" y2="130.00" stroke="#231f20" stroke-width="0.6"/>
<line x1="438.00" y1="122.40" x2="439.50" y2="125.20" stroke="#231f20" stroke-width="0.6"/>
<circle cx="371.30" cy="112.10" r="2.5" fill="#f4c985" stroke="#9c7d55" stroke-width="0.6"/>
<circle cx="379.00" cy="105.40" r="2.5" fill="#f4c985" stroke="#9c7d55" stroke-width="0.6"/>
<circle cx="380.00" cy="110.20" r="2.5" fill="#f4c985" stroke="#9c7d55" stroke-width="0.6"/>
<circle cx="386.70" cy="103.50" r="2.5" fill="#f4c985" stroke="#9c7d55" stroke-width="0.6"/>
<circle cx="387.70" cy="107.30" r="2.5" fill="#f4c985" stroke="#9c7d55" stroke-width="0.6"/>
<circle cx="391.50" cy="96.70" r="2.5" fill="#f4c985" stroke="#9c7d55" stroke-width="0.6"/>
<circle cx="395.40" cy="101.50" r="2.5" fill="#f4c985" stroke="#9c7d55" stroke-width="0.6"/>
<circle cx="399.20" cy="93.50" r="2.5" fill="#f4c985" stroke="#9c7d55" stroke-width="0.6"/>
<circle cx="386.70" cy="112.70" r="2.5" fill="#f4c985" stroke="#9c7d55" stroke-width="0.6"/>
<circle cx="392.50" cy="104.40" r="2.5" fill="#f4c985" stroke="#9c7d55" stroke-width="0.6"/>
<circle cx="374.20" cy="109.20" r="2.5" fill="#f4c985" stroke="#9c7d55" stroke-width="0.6"/>
<circle cx="366.50" cy="114.00" r="2.5" fill="#f4c985" stroke="#9c7d55" stroke-width="0.6"/>
<circle cx="383.00" cy="108.00" r="2.5" fill="#f4c985" stroke="#9c7d55" stroke-width="0.6"/>
<circle cx="389.00" cy="101.00" r="2.5" fill="#f4c985" stroke="#9c7d55" stroke-width="0.6"/>
<circle cx="416.50" cy="98.70" r="2.5" fill="#a0a0a0" stroke="#555555" stroke-width="0.6"/>
<circle cx="413.70" cy="103.50" r="2.5" fill="#a0a0a0" stroke="#555555" stroke-width="0.6"/>
<circle cx="409.80" cy="108.30" r="2.5" fill="#a0a0a0" stroke="#555555" stroke-width="0.6"/>
<circle cx="418.50" cy="106.30" r="2.5" fill="#a0a0a0" stroke="#555555" stroke-width="0.6"/>
<circle cx="423.30" cy="109.20" r="2.5" fill="#a0a0a0" stroke="#555555" stroke-width="0.6"/>
<circle cx="426.20" cy="105.40" r="2.5" fill="#a0a0a0" stroke="#555555" stroke-width="0.6"/>
<circle cx="431.90" cy="112.10" r="2.5" fill="#a0a0a0" stroke="#555555" stroke-width="0.6"/>
<circle cx="435.80" cy="114.00" r="2.5" fill="#a0a0a0" stroke="#555555" stroke-width="0.6"/>
<circle cx="433.80" cy="118.80" r="2.5" fill="#a0a0a0" stroke="#555555" stroke-width="0.6"/>
<circle cx="424.20" cy="127.50" r="2.5" fill="#a0a0a0" stroke="#555555" stroke-width="0.6"/>
<circle cx="417.50" cy="102.50" r="2.5" fill="#a0a0a0" stroke="#555555" stroke-width="0.6"/>
<circle cx="419.40" cy="109.20" r="2.5" fill="#a0a0a0" stroke="#555555" stroke-width="0.6"/>
<circle cx="428.00" cy="110.00" r="2.5" fill="#a0a0a0" stroke="#555555" stroke-width="0.6"/>
<circle cx="421.00" cy="104.00" r="2.5" fill="#a0a0a0" stroke="#555555" stroke-width="0.6"/>
<circle cx="438.00" cy="116.00" r="2.5" fill="#a0a0a0" stroke="#555555" stroke-width="0.6"/>
<line x1="404.50" y1="101.20" x2="363.00" y2="116.20" stroke="#231f20" stroke-width="0.9"/>
<line x1="404.50" y1="101.20" x2="442.00" y2="116.50" stroke="#231f20" stroke-width="0.9"/>
<circle cx="405.00" cy="50.40" r="2.5" fill="#e1a332" stroke="#6e5222" stroke-width="0.6"/>
<circle cx="405.00" cy="58.10" r="2.5" fill="#e1a332" stroke="#6e5222" stroke-width="0.6"/>
<circle cx="412.50" cy="58.20" r="2.5" fill="#e1a332" stroke="#6e5222" stroke-width="0.6"/>
<circle cx="409.80" cy="61.90" r="2.5" fill="#e1a332" stroke="#6e5222" stroke-width="0.6"/>
<circle cx="404.60" cy="64.60" r="2.5" fill="#e1a332" stroke="#6e5222" stroke-width="0.6"/>
<circle cx="404.60" cy="68.10" r="2.5" fill="#e1a332" stroke="#6e5222" stroke-width="0.6"/>
<circle cx="404.60" cy="71.20" r="2.5" fill="#e1a332" stroke="#6e5222" stroke-width="0.6"/>
<circle cx="408.60" cy="71.50" r="2.5" fill="#e1a332" stroke="#6e5222" stroke-width="0.6"/>
<circle cx="404.60" cy="77.30" r="2.5" fill="#e1a332" stroke="#6e5222" stroke-width="0.6"/>
<circle cx="404.60" cy="80.80" r="2.5" fill="#e1a332" stroke="#6e5222" stroke-width="0.6"/>
<circle cx="407.50" cy="80.80" r="2.5" fill="#e1a332" stroke="#6e5222" stroke-width="0.6"/>
<circle cx="410.80" cy="78.50" r="2.5" fill="#e1a332" stroke="#6e5222" stroke-width="0.6"/>
<line x1="404.50" y1="101.20" x2="404.50" y2="55.00" stroke="#231f20" stroke-width="0.9"/>
<path d="M404.50 50.60L408.50 58.10L404.50 56.00L400.50 58.10Z" fill="#231f20"/>
<path d="M360.50 117.30L366.15 110.95L365.57 115.43L368.92 118.46Z" fill="#231f20"/>
<path d="M446.00 118.30L437.55 119.23L440.99 116.29L440.52 111.80Z" fill="#231f20"/>
<text x="381.50" y="68.20" font-size="6.3" fill="#d9a04a" text-anchor="middle" textLength="24.00" lengthAdjust="spacingAndGlyphs">metagene</text>
<text x="381.90" y="75.00" font-size="6.3" fill="#d9a04a" text-anchor="middle">C1</text>
<text x="428.50" y="94.40" font-size="6.3" fill="#9a9a9a" text-anchor="middle" textLength="24.00" lengthAdjust="spacingAndGlyphs">metagene</text>
<text x="428.50" y="101.60" font-size="6.3" fill="#9a9a9a" text-anchor="middle">C3</text>
<text x="393.50" y="121.80" font-size="6.3" fill="#ecc48a" text-anchor="middle" textLength="24.00" lengthAdjust="spacingAndGlyphs">metagene</text>
<text x="393.50" y="127.60" font-size="6.3" fill="#ecc48a" text-anchor="middle">C2</text>
<rect x="19.00" y="195.60" width="90.60" height="9.00" fill="#d7a346"/>
<rect x="109.60" y="195.60" width="108.40" height="9.00" fill="#979797"/>
<rect x="19.00" y="206.70" width="35.20" height="8.90" fill="#d7a346"/>
<rect x="54.20" y="206.70" width="55.40" height="8.90" fill="#e9c28e"/>
<rect x="109.60" y="206.70" width="108.40" height="8.90" fill="#979797"/>
<text x="67.30" y="202.80" font-size="6.6" fill="#2a2218" text-anchor="middle" textLength="26.00" lengthAdjust="spacingAndGlyphs" stroke="#2a2218" stroke-width="0.1">Dormant</text>
<text x="165.00" y="202.80" font-size="6.6" fill="#2a2a2a" text-anchor="middle" textLength="32.40" lengthAdjust="spacingAndGlyphs" stroke="#2a2a2a" stroke-width="0.1">Reactivated</text>
<text x="36.60" y="213.60" font-size="6.4" fill="#2a2218" text-anchor="middle" stroke="#2a2218" stroke-width="0.1">C1</text>
<text x="81.90" y="213.60" font-size="6.4" fill="#2a2218" text-anchor="middle" stroke="#2a2218" stroke-width="0.1">C2</text>
<text x="163.80" y="213.60" font-size="6.4" fill="#2a2a2a" text-anchor="middle" stroke="#2a2a2a" stroke-width="0.1">C3</text>
<rect x="19.00" y="216.00" width="199.00" height="121.00" fill="#565a95"/>
<g shape-rendering="crispEdges">
<path fill="#86283a" d="M19 216h2v2h-2zM21 218h2v1h-2zM23 219h2v1h-2zM25 220h2v1h-2zM27 221h2v1h-2zM29 222h2v2h-2zM31 224h2v1h-2zM33 225h2v1h-2zM35 226h2v1h-2zM37 227h2v1h-2zM39 228h2v2h-2zM41 230h2v1h-2zM43 231h2v1h-2zM45 232h2v1h-2zM47 233h2v2h-2zM49 235h2v1h-2zM51 236h2v1h-2zM53 237h2v1h-2zM55 238h2v1h-2zM57 239h2v2h-2zM59 241h2v1h-2zM61 242h2v1h-2zM63 243h2v1h-2zM65 244h2v1h-2zM67 245h2v2h-2zM69 247h2v1h-2zM71 248h2v1h-2zM73 249h2v1h-2zM75 250h2v1h-2zM77 251h2v2h-2zM79 253h2v1h-2zM81 254h2v1h-2zM83 255h2v1h-2zM85 256h2v1h-2zM87 257h2v2h-2zM89 259h2v1h-2zM91 260h2v1h-2zM93 261h2v1h-2zM95 262h2v2h-2zM97 264h2v1h-2zM99 265h2v1h-2zM101 266h2v1h-2zM103 267h2v1h-2zM105 268h2v2h-2zM107 270h2v1h-2zM109 271h2v1h-2zM111 272h2v1h-2zM113 273h2v1h-2zM115 274h2v2h-2zM117 276h1v1h-1zM118 277h2v1h-2zM120 278h2v1h-2zM122 279h2v1h-2zM124 280h2v2h-2zM126 282h2v1h-2zM128 283h2v1h-2zM130 284h2v1h-2zM132 285h2v1h-2zM134 286h2v2h-2zM136 288h2v1h-2zM138 289h2v1h-2zM140 290h2v1h-2zM142 291h2v2h-2zM144 293h2v1h-2zM146 294h2v1h-2zM148 295h2v1h-2zM150 296h2v1h-2zM152 297h2v2h-2zM154 299h2v1h-2zM156 300h2v1h-2zM158 301h2v1h-2zM160 302h2v1h-2zM162 303h2v2h-2zM164 305h2v1h-2zM166 306h2v1h-2zM168 307h2v1h-2zM170 308h2v1h-2zM172 309h2v2h-2zM174 311h2v1h-2zM176 312h2v1h-2zM178 313h2v1h-2zM180 314h2v1h-2zM182 315h2v2h-2zM184 317h2v1h-2zM186 318h2v1h-2zM188 319h2v1h-2zM190 320h2v1h-2zM192 321h2v2h-2zM194 323h2v1h-2zM196 324h2v1h-2zM198 325h2v1h-2zM200 326h2v2h-2zM202 328h2v1h-2zM204 329h2v1h-2zM206 330h2v1h-2zM208 331h2v1h-2zM210 332h2v2h-2zM212 334h2v1h-2zM214 335h2v1h-2zM216 336h2v1h-2z"/>
<path fill="#eaa56e" d="M21 216h4v2h-4zM33 216h2v2h-2zM37 216h4v2h-4zM43 216h2v2h-2zM53 216h2v2h-2zM19 218h2v1h-2zM27 218h2v1h-2zM45 218h4v1h-4zM53 218h2v1h-2zM29 219h2v1h-2zM37 219h4v1h-4zM45 219h2v1h-2zM19 220h6v1h-6zM29 220h2v1h-2zM33 220h2v1h-2zM37 220h6v1h-6zM47 220h2v1h-2zM53 220h2v1h-2zM19 221h4v1h-4zM47 221h4v1h-4zM19 222h2v2h-2zM25 222h2v2h-2zM35 222h2v2h-2zM27 224h2v1h-2zM35 224h2v1h-2zM49 224h2v1h-2zM37 225h2v1h-2zM45 225h2v1h-2zM19 226h4v1h-4zM25 226h2v1h-2zM33 226h2v1h-2zM41 226h2v1h-2zM19 227h8v1h-8zM31 227h4v1h-4zM19 228h2v2h-2zM31 228h2v2h-2zM19 230h2v1h-2zM19 233h2v2h-2zM25 233h2v2h-2zM33 233h2v2h-2zM19 235h2v1h-2zM27 236h2v1h-2zM31 236h2v1h-2zM25 237h2v1h-2zM29 237h2v1h-2zM33 237h2v1h-2zM73 247h2v1h-2zM79 247h2v1h-2zM73 248h4v1h-4zM79 248h2v1h-2zM89 248h2v1h-2zM95 248h2v1h-2zM79 249h4v1h-4zM85 249h10v1h-10zM77 250h4v1h-4zM93 250h2v1h-2zM75 251h2v2h-2zM81 251h12v2h-12zM95 251h2v2h-2zM75 253h4v1h-4zM81 253h2v1h-2zM89 253h4v1h-4zM95 253h2v1h-2zM75 254h6v1h-6zM85 254h12v1h-12zM75 255h4v1h-4zM81 255h2v1h-2zM89 255h2v1h-2zM93 255h2v1h-2zM73 256h2v1h-2zM89 256h2v1h-2zM75 257h6v2h-6zM85 257h2v2h-2zM91 257h4v2h-4zM75 259h12v1h-12zM91 259h6v1h-6zM71 260h2v1h-2zM85 260h2v1h-2zM93 260h2v1h-2zM79 261h2v1h-2zM89 261h4v1h-4zM75 262h4v2h-4zM85 262h4v2h-4zM91 262h2v2h-2zM79 264h2v1h-2zM77 265h2v1h-2zM81 265h2v1h-2zM95 265h2v1h-2zM91 267h2v1h-2z"/>
<path fill="#f4d392" d="M25 216h2v2h-2zM29 216h4v2h-4zM45 216h2v2h-2zM29 218h2v1h-2zM27 219h2v1h-2zM31 219h2v1h-2zM27 220h2v1h-2zM31 220h2v1h-2zM45 220h2v1h-2zM23 221h2v1h-2zM29 221h18v1h-18zM51 221h4v1h-4zM21 222h4v2h-4zM27 222h2v2h-2zM33 222h2v2h-2zM37 222h6v2h-6zM45 222h8v2h-8zM19 224h2v1h-2zM23 224h4v1h-4zM29 224h2v1h-2zM37 224h2v1h-2zM41 224h8v1h-8zM51 224h2v1h-2zM27 225h2v1h-2zM31 225h2v1h-2zM27 226h6v1h-6zM27 227h4v1h-4zM27 228h4v2h-4zM27 230h6v1h-6zM27 231h6v1h-6zM27 232h4v1h-4zM27 233h2v2h-2zM31 233h2v2h-2zM31 235h2v1h-2zM63 235h2v1h-2zM31 237h2v1h-2zM49 239h2v2h-2zM77 239h2v2h-2zM109 241h2v1h-2zM51 242h2v1h-2zM65 242h2v1h-2zM69 242h2v1h-2zM77 242h2v1h-2zM91 242h2v1h-2zM105 242h2v1h-2zM35 243h2v1h-2zM77 243h2v1h-2zM81 243h2v1h-2zM91 243h2v1h-2zM105 243h2v1h-2zM77 244h2v1h-2zM91 244h2v1h-2zM65 247h2v1h-2zM75 247h4v1h-4zM81 247h18v1h-18zM101 247h2v1h-2zM105 247h2v1h-2zM63 248h4v1h-4zM69 248h2v1h-2zM77 248h2v1h-2zM81 248h8v1h-8zM91 248h4v1h-4zM97 248h2v1h-2zM101 248h6v1h-6zM65 249h2v1h-2zM69 249h4v1h-4zM83 249h2v1h-2zM95 249h2v1h-2zM71 250h4v1h-4zM81 250h12v1h-12zM95 250h2v1h-2zM61 251h2v2h-2zM65 251h2v2h-2zM69 251h6v2h-6zM97 251h8v2h-8zM71 253h4v1h-4zM83 253h6v1h-6zM93 253h2v1h-2zM65 254h2v1h-2zM83 254h2v1h-2zM103 254h2v1h-2zM71 255h4v1h-4zM79 255h2v1h-2zM85 255h4v1h-4zM91 255h2v1h-2zM71 256h2v1h-2zM83 256h2v1h-2zM93 256h4v1h-4zM65 257h2v2h-2zM69 257h6v2h-6zM83 257h2v2h-2zM89 257h2v2h-2zM95 257h2v2h-2zM65 259h2v1h-2zM69 259h6v1h-6zM61 260h6v1h-6zM69 260h2v1h-2zM73 260h2v1h-2zM97 260h6v1h-6zM105 260h2v1h-2zM65 261h2v1h-2zM69 261h6v1h-6zM83 261h6v1h-6zM95 261h2v1h-2zM63 262h4v2h-4zM69 262h6v2h-6zM81 262h4v2h-4zM89 262h2v2h-2zM93 262h2v2h-2zM101 262h4v2h-4zM71 264h2v1h-2zM75 264h4v1h-4zM85 264h8v1h-8zM95 264h2v1h-2zM61 265h2v1h-2zM73 265h4v1h-4zM79 265h2v1h-2zM85 265h2v1h-2zM91 265h4v1h-4zM101 265h2v1h-2zM105 265h2v1h-2zM61 266h2v1h-2zM65 266h2v1h-2zM79 266h2v1h-2zM99 266h2v1h-2zM69 267h4v1h-4zM77 267h4v1h-4zM87 267h2v1h-2zM105 267h2v1h-2zM69 268h4v2h-4zM75 268h4v2h-4zM89 268h4v2h-4zM97 268h8v2h-8zM113 270h2v1h-2zM132 270h2v1h-2zM144 270h2v1h-2zM168 270h2v1h-2zM180 270h2v1h-2zM184 270h2v1h-2zM122 271h2v1h-2zM154 271h2v1h-2zM162 271h2v1h-2zM186 271h2v1h-2zM107 274h2v2h-2zM109 277h2v1h-2zM109 283h2v1h-2zM109 284h2v1h-2zM109 288h2v1h-2zM109 290h2v1h-2zM107 291h2v2h-2zM109 295h2v1h-2zM109 300h2v1h-2zM109 302h2v1h-2zM107 318h2v1h-2z"/>
<path fill="#f6efc0" d="M27 216h2v2h-2zM61 216h2v2h-2zM31 218h2v1h-2zM65 218h2v1h-2zM59 219h8v1h-8zM61 220h4v1h-4zM25 221h2v1h-2zM31 222h2v2h-2zM43 222h2v2h-2zM53 222h2v2h-2zM59 222h4v2h-4zM33 224h2v1h-2zM39 224h2v1h-2zM53 224h2v1h-2zM59 224h8v1h-8zM29 225h2v1h-2zM59 225h4v1h-4zM65 225h2v1h-2zM63 226h2v1h-2zM65 227h2v1h-2zM57 228h2v2h-2zM63 228h4v2h-4zM57 230h2v1h-2zM61 230h4v1h-4zM61 231h4v1h-4zM31 232h2v1h-2zM57 232h6v1h-6zM65 232h2v1h-2zM29 233h2v2h-2zM59 233h2v2h-2zM63 233h4v2h-4zM27 235h4v1h-4zM57 235h2v1h-2zM65 235h2v1h-2zM29 236h2v1h-2zM57 236h2v1h-2zM61 236h2v1h-2zM65 236h2v1h-2zM27 237h2v1h-2zM59 237h8v1h-8zM59 238h2v1h-2zM63 238h18v1h-18zM83 238h28v1h-28zM23 239h2v2h-2zM29 239h2v2h-2zM51 239h2v2h-2zM55 239h2v2h-2zM59 239h4v2h-4zM65 239h12v2h-12zM79 239h32v2h-32zM23 241h2v1h-2zM31 241h2v1h-2zM37 241h2v1h-2zM49 241h4v1h-4zM55 241h4v1h-4zM61 241h26v1h-26zM89 241h2v1h-2zM93 241h8v1h-8zM103 241h6v1h-6zM19 242h2v1h-2zM23 242h4v1h-4zM29 242h4v1h-4zM35 242h4v1h-4zM43 242h2v1h-2zM49 242h2v1h-2zM55 242h4v1h-4zM63 242h2v1h-2zM67 242h2v1h-2zM71 242h6v1h-6zM79 242h12v1h-12zM93 242h12v1h-12zM107 242h4v1h-4zM21 243h2v1h-2zM29 243h4v1h-4zM47 243h6v1h-6zM55 243h8v1h-8zM65 243h12v1h-12zM79 243h2v1h-2zM83 243h8v1h-8zM93 243h2v1h-2zM97 243h8v1h-8zM109 243h2v1h-2zM23 244h2v1h-2zM33 244h4v1h-4zM47 244h6v1h-6zM55 244h10v1h-10zM67 244h10v1h-10zM79 244h12v1h-12zM93 244h18v1h-18zM57 245h10v2h-10zM69 245h42v2h-42zM126 245h2v2h-2zM150 245h2v2h-2zM156 245h2v2h-2zM174 245h2v2h-2zM186 245h2v2h-2zM214 245h4v2h-4zM55 247h10v1h-10zM67 247h2v1h-2zM71 247h2v1h-2zM99 247h2v1h-2zM103 247h2v1h-2zM107 247h4v1h-4zM55 248h4v1h-4zM61 248h2v1h-2zM67 248h2v1h-2zM99 248h2v1h-2zM107 248h2v1h-2zM55 249h4v1h-4zM61 249h4v1h-4zM67 249h2v1h-2zM97 249h14v1h-14zM55 250h14v1h-14zM97 250h8v1h-8zM107 250h4v1h-4zM55 251h6v2h-6zM63 251h2v2h-2zM67 251h2v2h-2zM105 251h6v2h-6zM55 253h16v1h-16zM97 253h14v1h-14zM55 254h10v1h-10zM67 254h8v1h-8zM97 254h6v1h-6zM105 254h6v1h-6zM55 255h16v1h-16zM95 255h16v1h-16zM57 256h2v1h-2zM61 256h10v1h-10zM97 256h14v1h-14zM55 257h10v2h-10zM67 257h2v2h-2zM97 257h10v2h-10zM109 257h2v2h-2zM55 259h10v1h-10zM67 259h2v1h-2zM97 259h12v1h-12zM55 260h6v1h-6zM67 260h2v1h-2zM103 260h2v1h-2zM107 260h4v1h-4zM55 261h10v1h-10zM67 261h2v1h-2zM97 261h14v1h-14zM55 262h2v2h-2zM59 262h4v2h-4zM67 262h2v2h-2zM79 262h2v2h-2zM97 262h4v2h-4zM105 262h6v2h-6zM55 264h16v1h-16zM73 264h2v1h-2zM81 264h4v1h-4zM93 264h2v1h-2zM99 264h12v1h-12zM55 265h6v1h-6zM63 265h10v1h-10zM83 265h2v1h-2zM87 265h4v1h-4zM97 265h2v1h-2zM103 265h2v1h-2zM109 265h2v1h-2zM57 266h4v1h-4zM63 266h2v1h-2zM67 266h12v1h-12zM81 266h18v1h-18zM103 266h8v1h-8zM55 267h14v1h-14zM73 267h4v1h-4zM81 267h6v1h-6zM89 267h2v1h-2zM93 267h10v1h-10zM107 267h2v1h-2zM55 268h14v2h-14zM73 268h2v2h-2zM79 268h10v2h-10zM93 268h4v2h-4zM109 268h2v2h-2zM55 270h32v1h-32zM89 270h16v1h-16zM111 270h2v1h-2zM115 270h17v1h-17zM134 270h10v1h-10zM146 270h22v1h-22zM170 270h10v1h-10zM182 270h2v1h-2zM186 270h32v1h-32zM55 271h46v1h-46zM103 271h6v1h-6zM111 271h11v1h-11zM124 271h30v1h-30zM156 271h6v1h-6zM164 271h22v1h-22zM188 271h30v1h-30zM107 272h2v1h-2zM107 273h4v1h-4zM67 274h2v2h-2zM109 274h2v2h-2zM107 276h4v1h-4zM107 277h2v1h-2zM107 278h4v1h-4zM107 279h4v1h-4zM107 280h4v2h-4zM107 282h4v1h-4zM107 283h2v1h-2zM107 284h2v1h-2zM107 285h4v1h-4zM107 286h4v2h-4zM107 288h2v1h-2zM109 289h2v1h-2zM107 290h2v1h-2zM109 291h2v2h-2zM67 293h2v1h-2zM107 293h4v1h-4zM107 294h4v1h-4zM107 295h2v1h-2zM67 296h2v1h-2zM107 296h4v1h-4zM107 297h4v2h-4zM67 299h2v1h-2zM107 299h4v1h-4zM107 300h2v1h-2zM107 301h4v1h-4zM107 302h2v1h-2zM107 303h4v2h-4zM107 305h4v1h-4zM107 306h4v1h-4zM107 307h4v1h-4zM107 308h2v1h-2zM67 309h2v2h-2zM107 309h4v2h-4zM107 311h4v1h-4zM107 312h4v1h-4zM67 313h2v1h-2zM107 313h4v1h-4zM107 314h4v1h-4zM107 315h4v2h-4zM67 317h2v1h-2zM107 317h4v1h-4zM109 318h2v1h-2zM107 319h4v1h-4zM107 320h4v1h-4zM107 321h4v2h-4zM67 323h2v1h-2zM107 323h4v1h-4zM67 324h2v1h-2zM107 324h4v1h-4zM107 325h4v1h-4zM107 326h4v2h-4zM107 328h4v1h-4zM107 329h4v1h-4zM107 330h4v1h-4zM107 331h2v1h-2zM107 332h4v2h-4zM107 334h4v1h-4zM107 335h4v1h-4zM107 336h4v1h-4z"/>
<path fill="#d47e5e" d="M35 216h2v2h-2zM41 216h2v2h-2zM47 216h6v2h-6zM23 218h4v1h-4zM33 218h12v1h-12zM49 218h4v1h-4zM19 219h2v1h-2zM25 219h2v1h-2zM33 219h4v1h-4zM41 219h4v1h-4zM53 219h2v1h-2zM35 220h2v1h-2zM43 220h2v1h-2zM49 220h4v1h-4zM21 224h2v1h-2zM19 225h8v1h-8zM35 225h2v1h-2zM39 225h6v1h-6zM47 225h2v1h-2zM53 225h2v1h-2zM23 226h2v1h-2zM37 226h4v1h-4zM47 226h4v1h-4zM53 226h2v1h-2zM35 227h2v1h-2zM43 227h6v1h-6zM53 227h2v1h-2zM21 228h2v2h-2zM25 228h2v2h-2zM33 228h2v2h-2zM37 228h2v2h-2zM45 228h2v2h-2zM51 228h4v2h-4zM21 230h6v1h-6zM33 230h2v1h-2zM37 230h4v1h-4zM43 230h8v1h-8zM19 231h2v1h-2zM23 231h4v1h-4zM33 231h6v1h-6zM41 231h2v1h-2zM45 231h2v1h-2zM49 231h6v1h-6zM19 232h8v1h-8zM33 232h2v1h-2zM37 232h4v1h-4zM43 232h2v1h-2zM47 232h4v1h-4zM53 232h2v1h-2zM21 233h4v2h-4zM39 233h2v2h-2zM45 233h2v2h-2zM49 233h2v2h-2zM53 233h2v2h-2zM21 235h6v1h-6zM33 235h6v1h-6zM47 235h2v1h-2zM19 236h2v1h-2zM25 236h2v1h-2zM35 236h2v1h-2zM39 236h2v1h-2zM43 236h4v1h-4zM49 236h2v1h-2zM19 237h6v1h-6zM35 237h4v1h-4zM41 237h6v1h-6zM49 237h4v1h-4zM75 249h4v1h-4zM79 251h2v2h-2zM93 251h2v2h-2zM75 256h8v1h-8zM87 256h2v1h-2zM91 256h2v1h-2zM81 257h2v2h-2zM87 259h2v1h-2zM75 260h10v1h-10zM87 260h4v1h-4zM95 260h2v1h-2zM75 261h4v1h-4zM81 261h2v1h-2zM113 272h105v1h-105zM111 273h2v1h-2zM115 273h73v1h-73zM190 273h28v1h-28zM111 274h4v2h-4zM117 274h101v2h-101zM111 276h6v1h-6zM118 276h100v1h-100zM111 277h7v1h-7zM111 278h7v1h-7zM188 278h2v1h-2zM111 279h7v1h-7zM136 279h2v1h-2zM111 280h7v2h-7zM111 282h7v1h-7zM178 282h2v1h-2zM212 282h2v1h-2zM111 283h7v1h-7zM174 283h2v1h-2zM206 283h2v1h-2zM210 283h2v1h-2zM214 283h2v1h-2zM111 284h7v1h-7zM122 284h2v1h-2zM111 285h7v1h-7zM111 286h7v2h-7zM111 288h7v1h-7zM111 289h7v1h-7zM111 290h7v1h-7zM111 291h7v2h-7zM111 293h7v1h-7zM111 294h7v1h-7zM111 295h7v1h-7zM111 296h7v1h-7zM111 297h7v2h-7zM111 299h7v1h-7zM124 299h2v1h-2zM111 300h7v1h-7zM111 301h7v1h-7zM111 302h7v1h-7zM111 303h7v2h-7zM111 305h7v1h-7zM111 306h7v1h-7zM111 307h7v1h-7zM138 307h2v1h-2zM111 308h7v1h-7zM111 309h7v2h-7zM132 309h2v2h-2zM111 311h7v1h-7zM111 312h7v1h-7zM111 313h7v1h-7zM111 314h7v1h-7zM111 315h7v2h-7zM111 317h7v1h-7zM111 318h7v1h-7zM111 319h7v1h-7zM111 320h7v1h-7zM111 321h7v2h-7zM111 323h7v1h-7zM111 324h7v1h-7zM111 325h7v1h-7zM111 326h7v2h-7zM111 328h7v1h-7zM111 329h7v1h-7zM111 330h7v1h-7zM111 331h7v1h-7zM111 332h7v2h-7zM111 334h7v1h-7zM122 334h2v1h-2zM111 335h7v1h-7zM111 336h7v1h-7z"/>
<path fill="#e2ebee" d="M55 216h4v2h-4zM63 216h4v2h-4zM55 218h10v1h-10zM55 219h4v1h-4zM57 220h4v1h-4zM65 220h2v1h-2zM57 221h10v1h-10zM55 222h4v2h-4zM63 222h4v2h-4zM57 224h2v1h-2zM57 225h2v1h-2zM63 225h2v1h-2zM59 226h2v1h-2zM65 226h2v1h-2zM57 227h8v1h-8zM55 228h2v2h-2zM59 228h4v2h-4zM81 228h2v2h-2zM59 230h2v1h-2zM65 230h2v1h-2zM55 231h6v1h-6zM65 231h2v1h-2zM55 232h2v1h-2zM63 232h2v1h-2zM57 233h2v2h-2zM61 233h2v2h-2zM59 235h4v1h-4zM55 236h2v1h-2zM59 236h2v1h-2zM63 236h2v1h-2zM75 236h2v1h-2zM57 237h2v1h-2zM21 238h2v1h-2zM25 238h2v1h-2zM31 238h4v1h-4zM39 238h4v1h-4zM49 238h2v1h-2zM57 238h2v1h-2zM61 238h2v1h-2zM81 238h2v1h-2zM19 239h4v2h-4zM25 239h4v2h-4zM31 239h12v2h-12zM45 239h4v2h-4zM53 239h2v2h-2zM63 239h2v2h-2zM19 241h2v1h-2zM25 241h6v1h-6zM33 241h4v1h-4zM39 241h6v1h-6zM47 241h2v1h-2zM53 241h2v1h-2zM87 241h2v1h-2zM91 241h2v1h-2zM101 241h2v1h-2zM21 242h2v1h-2zM27 242h2v1h-2zM33 242h2v1h-2zM41 242h2v1h-2zM45 242h4v1h-4zM53 242h2v1h-2zM59 242h2v1h-2zM19 243h2v1h-2zM23 243h6v1h-6zM33 243h2v1h-2zM37 243h8v1h-8zM53 243h2v1h-2zM95 243h2v1h-2zM107 243h2v1h-2zM19 244h4v1h-4zM25 244h8v1h-8zM39 244h8v1h-8zM53 244h2v1h-2zM55 245h2v2h-2zM111 245h6v2h-6zM118 245h8v2h-8zM128 245h22v2h-22zM152 245h4v2h-4zM158 245h16v2h-16zM176 245h10v2h-10zM188 245h26v2h-26zM59 248h2v1h-2zM109 248h2v1h-2zM59 249h2v1h-2zM33 250h2v1h-2zM69 250h2v1h-2zM105 250h2v1h-2zM49 256h2v1h-2zM55 256h2v1h-2zM59 256h2v1h-2zM107 257h2v2h-2zM109 259h2v1h-2zM57 262h2v2h-2zM107 265h2v1h-2zM55 266h2v1h-2zM109 267h2v1h-2zM107 268h2v2h-2zM87 270h2v1h-2zM105 270h2v1h-2zM109 270h2v1h-2zM101 271h2v1h-2zM67 272h2v1h-2zM109 272h2v1h-2zM67 273h2v1h-2zM67 276h2v1h-2zM67 277h2v1h-2zM67 278h2v1h-2zM67 279h2v1h-2zM67 280h2v2h-2zM67 282h2v1h-2zM67 283h2v1h-2zM67 284h2v1h-2zM67 285h2v1h-2zM67 286h2v2h-2zM67 288h2v1h-2zM67 289h2v1h-2zM107 289h2v1h-2zM67 290h2v1h-2zM67 291h2v2h-2zM67 294h2v1h-2zM67 295h2v1h-2zM67 297h2v2h-2zM67 300h2v1h-2zM67 301h2v1h-2zM67 302h2v1h-2zM67 303h2v2h-2zM67 305h2v1h-2zM67 306h2v1h-2zM67 307h2v1h-2zM67 308h2v1h-2zM109 308h2v1h-2zM67 311h2v1h-2zM67 312h2v1h-2zM67 314h2v1h-2zM67 319h2v1h-2zM67 321h2v2h-2zM67 326h2v2h-2zM67 328h2v1h-2zM67 329h2v1h-2zM67 330h2v1h-2zM67 331h2v1h-2zM109 331h2v1h-2zM67 334h2v1h-2zM67 335h2v1h-2zM67 336h2v1h-2z"/>
<path fill="#b7cfe4" d="M59 216h2v2h-2zM75 218h2v1h-2zM79 218h2v1h-2zM89 218h2v1h-2zM75 219h4v1h-4zM85 219h2v1h-2zM55 220h2v1h-2zM73 220h2v1h-2zM79 220h2v1h-2zM83 220h2v1h-2zM55 221h2v1h-2zM69 222h2v2h-2zM79 222h2v2h-2zM55 224h2v1h-2zM69 224h2v1h-2zM73 224h2v1h-2zM85 224h2v1h-2zM89 224h2v1h-2zM55 225h2v1h-2zM69 225h2v1h-2zM75 225h2v1h-2zM79 225h6v1h-6zM89 225h2v1h-2zM55 226h4v1h-4zM61 226h2v1h-2zM55 227h2v1h-2zM69 227h2v1h-2zM85 227h2v1h-2zM69 228h2v2h-2zM75 228h2v2h-2zM83 228h2v2h-2zM55 230h2v1h-2zM69 230h2v1h-2zM75 230h2v1h-2zM83 230h2v1h-2zM71 231h2v1h-2zM77 231h2v1h-2zM81 231h4v1h-4zM87 231h2v1h-2zM81 232h2v1h-2zM85 232h4v1h-4zM55 233h2v2h-2zM71 233h2v2h-2zM75 233h2v2h-2zM83 233h4v2h-4zM55 235h2v1h-2zM69 235h4v1h-4zM77 235h2v1h-2zM71 236h4v1h-4zM77 236h14v1h-14zM55 237h2v1h-2zM87 237h2v1h-2zM19 238h2v1h-2zM23 238h2v1h-2zM29 238h2v1h-2zM35 238h4v1h-4zM43 238h6v1h-6zM51 238h4v1h-4zM111 238h6v1h-6zM118 238h2v1h-2zM122 238h2v1h-2zM126 238h22v1h-22zM150 238h28v1h-28zM180 238h2v1h-2zM184 238h34v1h-34zM43 239h2v2h-2zM21 241h2v1h-2zM45 241h2v1h-2zM39 242h2v1h-2zM45 243h2v1h-2zM37 244h2v1h-2zM117 245h1v2h-1zM19 247h2v1h-2zM23 247h2v1h-2zM29 247h2v1h-2zM35 247h2v1h-2zM41 247h2v1h-2zM47 247h8v1h-8zM23 248h2v1h-2zM47 248h2v1h-2zM21 249h2v1h-2zM37 249h2v1h-2zM49 249h2v1h-2zM47 250h2v1h-2zM31 251h2v2h-2zM35 251h2v2h-2zM49 251h4v2h-4zM19 253h6v1h-6zM31 253h6v1h-6zM41 253h2v1h-2zM45 253h2v1h-2zM49 253h4v1h-4zM25 254h2v1h-2zM33 254h4v1h-4zM49 254h4v1h-4zM21 255h4v1h-4zM33 255h2v1h-2zM49 255h2v1h-2zM21 256h2v1h-2zM31 256h2v1h-2zM41 256h2v1h-2zM47 256h2v1h-2zM23 257h2v2h-2zM31 257h2v2h-2zM35 257h2v2h-2zM39 257h2v2h-2zM45 257h2v2h-2zM49 257h2v2h-2zM23 259h2v1h-2zM35 259h2v1h-2zM39 259h2v1h-2zM45 259h2v1h-2zM49 259h2v1h-2zM113 266h5v1h-5zM128 266h2v1h-2zM132 266h10v1h-10zM144 266h2v1h-2zM148 266h4v1h-4zM154 266h2v1h-2zM158 266h2v1h-2zM168 266h2v1h-2zM174 266h2v1h-2zM180 266h4v1h-4zM186 266h8v1h-8zM196 266h2v1h-2zM200 266h2v1h-2zM204 266h2v1h-2zM208 266h2v1h-2zM214 266h2v1h-2zM111 267h9v1h-9zM122 267h4v1h-4zM130 267h12v1h-12zM144 267h2v1h-2zM154 267h2v1h-2zM158 267h2v1h-2zM162 267h6v1h-6zM170 267h6v1h-6zM182 267h2v1h-2zM188 267h2v1h-2zM194 267h4v1h-4zM202 267h2v1h-2zM208 267h2v1h-2zM111 268h4v2h-4zM118 268h6v2h-6zM126 268h6v2h-6zM138 268h2v2h-2zM142 268h6v2h-6zM150 268h6v2h-6zM158 268h6v2h-6zM174 268h2v2h-2zM184 268h2v2h-2zM196 268h4v2h-4zM202 268h4v2h-4zM214 268h2v2h-2zM55 272h2v1h-2zM105 272h2v1h-2zM55 273h2v1h-2zM103 273h4v1h-4zM101 274h2v2h-2zM55 276h2v1h-2zM101 276h4v1h-4zM55 277h2v1h-2zM101 277h6v1h-6zM55 278h2v1h-2zM103 278h2v1h-2zM55 279h2v1h-2zM101 279h4v1h-4zM55 280h2v2h-2zM101 280h2v2h-2zM105 280h2v2h-2zM55 282h2v1h-2zM103 282h4v1h-4zM55 283h2v1h-2zM103 283h4v1h-4zM55 284h2v1h-2zM101 284h6v1h-6zM55 285h2v1h-2zM103 285h4v1h-4zM55 286h2v2h-2zM101 286h2v2h-2zM55 288h2v1h-2zM103 288h2v1h-2zM101 289h2v1h-2zM55 290h2v1h-2zM101 290h6v1h-6zM55 291h2v2h-2zM101 291h2v2h-2zM55 293h2v1h-2zM55 294h2v1h-2zM101 294h2v1h-2zM105 294h2v1h-2zM55 295h2v1h-2zM101 295h4v1h-4zM55 296h2v1h-2zM105 296h2v1h-2zM55 297h2v2h-2zM103 297h4v2h-4zM55 299h2v1h-2zM105 299h2v1h-2zM55 301h2v1h-2zM55 302h2v1h-2zM101 302h4v1h-4zM55 303h2v2h-2zM103 303h2v2h-2zM55 305h2v1h-2zM103 305h2v1h-2zM55 306h2v1h-2zM103 306h2v1h-2zM103 307h2v1h-2zM55 308h2v1h-2zM101 308h2v1h-2zM105 308h2v1h-2zM55 309h2v2h-2zM103 309h4v2h-4zM55 311h2v1h-2zM101 311h4v1h-4zM55 312h2v1h-2zM103 312h2v1h-2zM55 313h2v1h-2zM105 313h2v1h-2zM55 314h2v1h-2zM103 314h4v1h-4zM55 315h2v2h-2zM101 315h4v2h-4zM55 317h2v1h-2zM103 317h4v1h-4zM101 318h4v1h-4zM55 319h2v1h-2zM101 319h4v1h-4zM55 320h2v1h-2zM101 320h4v1h-4zM55 321h2v2h-2zM101 321h2v2h-2zM55 323h2v1h-2zM101 323h2v1h-2zM55 324h2v1h-2zM101 324h2v1h-2zM105 324h2v1h-2zM55 325h2v1h-2zM105 325h2v1h-2zM55 326h2v2h-2zM103 326h2v2h-2zM55 328h2v1h-2zM103 328h2v1h-2zM55 329h2v1h-2zM101 329h4v1h-4zM101 330h6v1h-6zM55 331h2v1h-2zM105 331h2v1h-2zM55 332h2v2h-2zM55 334h2v1h-2zM101 334h6v1h-6zM55 335h2v1h-2zM55 336h2v1h-2zM105 336h2v1h-2z"/>
<path fill="#8ca5d0" d="M69 216h6v2h-6zM77 216h2v2h-2zM81 216h10v2h-10zM99 216h2v2h-2zM69 218h6v1h-6zM77 218h2v1h-2zM81 218h8v1h-8zM93 218h2v1h-2zM99 218h2v1h-2zM69 219h6v1h-6zM79 219h6v1h-6zM87 219h4v1h-4zM99 219h2v1h-2zM69 220h4v1h-4zM75 220h4v1h-4zM81 220h2v1h-2zM85 220h6v1h-6zM95 220h2v1h-2zM69 221h4v1h-4zM75 221h12v1h-12zM89 221h2v1h-2zM71 222h8v2h-8zM81 222h12v2h-12zM99 222h2v2h-2zM71 224h2v1h-2zM75 224h10v1h-10zM87 224h2v1h-2zM71 225h4v1h-4zM77 225h2v1h-2zM85 225h4v1h-4zM91 225h6v1h-6zM105 225h2v1h-2zM69 226h2v1h-2zM73 226h2v1h-2zM77 226h14v1h-14zM93 226h2v1h-2zM73 227h12v1h-12zM87 227h4v1h-4zM71 228h4v2h-4zM77 228h4v2h-4zM85 228h8v2h-8zM99 228h2v2h-2zM71 230h4v1h-4zM77 230h6v1h-6zM85 230h6v1h-6zM93 230h2v1h-2zM69 231h2v1h-2zM73 231h4v1h-4zM79 231h2v1h-2zM85 231h2v1h-2zM89 231h6v1h-6zM97 231h4v1h-4zM69 232h12v1h-12zM83 232h2v1h-2zM89 232h4v1h-4zM95 232h4v1h-4zM105 232h2v1h-2zM73 233h2v2h-2zM77 233h6v2h-6zM87 233h6v2h-6zM73 235h4v1h-4zM79 235h12v1h-12zM69 236h2v1h-2zM91 236h2v1h-2zM97 236h4v1h-4zM105 236h6v1h-6zM69 237h18v1h-18zM89 237h2v1h-2zM27 238h2v1h-2zM117 238h1v1h-1zM120 238h2v1h-2zM124 238h2v1h-2zM148 238h2v1h-2zM178 238h2v1h-2zM182 238h2v1h-2zM158 239h2v2h-2zM162 239h2v2h-2zM152 241h2v1h-2zM186 241h2v1h-2zM204 242h2v1h-2zM154 243h2v1h-2zM136 244h2v1h-2zM21 247h2v1h-2zM27 247h2v1h-2zM31 247h4v1h-4zM37 247h4v1h-4zM43 247h4v1h-4zM19 248h4v1h-4zM25 248h6v1h-6zM33 248h14v1h-14zM49 248h6v1h-6zM19 249h2v1h-2zM23 249h2v1h-2zM27 249h10v1h-10zM39 249h10v1h-10zM51 249h4v1h-4zM19 250h14v1h-14zM35 250h12v1h-12zM49 250h6v1h-6zM19 251h10v2h-10zM33 251h2v2h-2zM37 251h12v2h-12zM53 251h2v2h-2zM25 253h6v1h-6zM37 253h4v1h-4zM43 253h2v1h-2zM47 253h2v1h-2zM53 253h2v1h-2zM19 254h6v1h-6zM27 254h6v1h-6zM37 254h6v1h-6zM45 254h4v1h-4zM53 254h2v1h-2zM19 255h2v1h-2zM25 255h2v1h-2zM29 255h4v1h-4zM35 255h14v1h-14zM51 255h4v1h-4zM19 256h2v1h-2zM23 256h8v1h-8zM33 256h8v1h-8zM45 256h2v1h-2zM51 256h4v1h-4zM19 257h4v2h-4zM25 257h4v2h-4zM33 257h2v2h-2zM37 257h2v2h-2zM41 257h2v2h-2zM47 257h2v2h-2zM51 257h4v2h-4zM21 259h2v1h-2zM25 259h10v1h-10zM37 259h2v1h-2zM41 259h4v1h-4zM47 259h2v1h-2zM53 259h2v1h-2zM23 260h2v1h-2zM35 260h2v1h-2zM47 260h2v1h-2zM51 260h2v1h-2zM208 260h2v1h-2zM23 261h4v1h-4zM31 261h2v1h-2zM35 261h2v1h-2zM39 261h2v1h-2zM47 261h2v1h-2zM138 261h2v1h-2zM152 261h2v1h-2zM188 261h2v1h-2zM212 261h2v1h-2zM19 262h2v2h-2zM35 262h2v2h-2zM51 262h2v2h-2zM122 262h2v2h-2zM132 262h2v2h-2zM162 262h2v2h-2zM170 262h2v2h-2zM178 262h2v2h-2zM182 262h2v2h-2zM196 262h2v2h-2zM200 262h4v2h-4zM21 264h2v1h-2zM31 264h4v1h-4zM41 264h2v1h-2zM47 264h2v1h-2zM122 264h2v1h-2zM152 264h2v1h-2zM21 265h4v1h-4zM35 265h2v1h-2zM39 265h2v1h-2zM43 265h2v1h-2zM47 265h4v1h-4zM184 265h2v1h-2zM192 265h2v1h-2zM200 265h2v1h-2zM111 266h2v1h-2zM118 266h10v1h-10zM130 266h2v1h-2zM142 266h2v1h-2zM146 266h2v1h-2zM152 266h2v1h-2zM156 266h2v1h-2zM160 266h8v1h-8zM170 266h4v1h-4zM176 266h4v1h-4zM184 266h2v1h-2zM194 266h2v1h-2zM198 266h2v1h-2zM202 266h2v1h-2zM206 266h2v1h-2zM210 266h4v1h-4zM216 266h2v1h-2zM120 267h2v1h-2zM126 267h4v1h-4zM142 267h2v1h-2zM146 267h8v1h-8zM156 267h2v1h-2zM160 267h2v1h-2zM168 267h2v1h-2zM176 267h6v1h-6zM184 267h4v1h-4zM190 267h4v1h-4zM198 267h4v1h-4zM204 267h4v1h-4zM210 267h8v1h-8zM47 268h2v2h-2zM115 268h3v2h-3zM124 268h2v2h-2zM132 268h6v2h-6zM140 268h2v2h-2zM148 268h2v2h-2zM156 268h2v2h-2zM164 268h10v2h-10zM176 268h8v2h-8zM186 268h10v2h-10zM200 268h2v2h-2zM206 268h8v2h-8zM216 268h2v2h-2zM35 270h2v1h-2zM49 270h2v1h-2zM21 271h2v1h-2zM51 271h2v1h-2zM91 272h4v1h-4zM97 272h2v1h-2zM101 272h4v1h-4zM101 273h2v1h-2zM55 274h2v2h-2zM103 274h4v2h-4zM65 276h2v1h-2zM99 276h2v1h-2zM105 276h2v1h-2zM83 277h2v1h-2zM95 277h2v1h-2zM101 278h2v1h-2zM105 278h2v1h-2zM105 279h2v1h-2zM61 280h2v2h-2zM103 280h2v2h-2zM61 282h2v1h-2zM65 282h2v1h-2zM95 282h2v1h-2zM99 282h4v1h-4zM75 283h2v1h-2zM95 283h2v1h-2zM101 283h2v1h-2zM81 284h2v1h-2zM93 285h2v1h-2zM101 285h2v1h-2zM75 286h2v2h-2zM83 286h2v2h-2zM91 286h2v2h-2zM97 286h2v2h-2zM103 286h4v2h-4zM83 288h2v1h-2zM101 288h2v1h-2zM105 288h2v1h-2zM55 289h2v1h-2zM87 289h2v1h-2zM103 289h4v1h-4zM71 291h2v2h-2zM85 291h2v2h-2zM97 291h2v2h-2zM103 291h4v2h-4zM101 293h6v1h-6zM61 294h2v1h-2zM103 294h2v1h-2zM105 295h2v1h-2zM101 296h4v1h-4zM69 297h2v2h-2zM101 297h2v2h-2zM59 299h2v1h-2zM63 299h2v1h-2zM101 299h4v1h-4zM55 300h2v1h-2zM101 300h6v1h-6zM59 301h2v1h-2zM101 301h6v1h-6zM99 302h2v1h-2zM105 302h2v1h-2zM57 303h2v2h-2zM93 303h2v2h-2zM101 303h2v2h-2zM105 303h2v2h-2zM73 305h2v1h-2zM101 305h2v1h-2zM105 305h2v1h-2zM95 306h2v1h-2zM101 306h2v1h-2zM105 306h2v1h-2zM55 307h2v1h-2zM101 307h2v1h-2zM105 307h2v1h-2zM81 308h2v1h-2zM85 308h2v1h-2zM93 308h2v1h-2zM103 308h2v1h-2zM101 309h2v2h-2zM59 311h2v1h-2zM91 311h2v1h-2zM97 311h2v1h-2zM105 311h2v1h-2zM99 312h4v1h-4zM105 312h2v1h-2zM65 313h2v1h-2zM101 313h4v1h-4zM65 314h2v1h-2zM91 314h2v1h-2zM101 314h2v1h-2zM59 315h2v2h-2zM67 315h2v2h-2zM93 315h2v2h-2zM97 315h2v2h-2zM105 315h2v2h-2zM101 317h2v1h-2zM55 318h4v1h-4zM61 318h2v1h-2zM67 318h4v1h-4zM75 318h2v1h-2zM105 318h2v1h-2zM73 319h2v1h-2zM105 319h2v1h-2zM67 320h2v1h-2zM105 320h2v1h-2zM57 321h2v2h-2zM91 321h2v2h-2zM95 321h2v2h-2zM103 321h4v2h-4zM69 323h2v1h-2zM103 323h4v1h-4zM93 324h2v1h-2zM103 324h2v1h-2zM67 325h2v1h-2zM83 325h2v1h-2zM101 325h4v1h-4zM65 326h2v2h-2zM81 326h2v2h-2zM95 326h2v2h-2zM101 326h2v2h-2zM105 326h2v2h-2zM101 328h2v1h-2zM105 328h2v1h-2zM83 329h2v1h-2zM105 329h2v1h-2zM55 330h2v1h-2zM73 330h2v1h-2zM79 330h2v1h-2zM85 331h2v1h-2zM101 331h4v1h-4zM67 332h2v2h-2zM101 332h6v2h-6zM99 334h2v1h-2zM91 335h4v1h-4zM101 335h6v1h-6zM79 336h2v1h-2zM93 336h2v1h-2zM101 336h4v1h-4z"/>
<path fill="#6c79b5" d="M75 216h2v2h-2zM79 216h2v2h-2zM91 216h8v2h-8zM101 216h2v2h-2zM105 216h6v2h-6zM91 218h2v1h-2zM95 218h4v1h-4zM103 218h6v1h-6zM91 219h8v1h-8zM101 219h4v1h-4zM107 219h4v1h-4zM91 220h4v1h-4zM97 220h10v1h-10zM109 220h2v1h-2zM73 221h2v1h-2zM87 221h2v1h-2zM91 221h4v1h-4zM97 221h4v1h-4zM103 221h4v1h-4zM93 222h6v2h-6zM103 222h2v2h-2zM107 222h4v2h-4zM91 224h14v1h-14zM107 224h4v1h-4zM67 225h2v1h-2zM97 225h4v1h-4zM103 225h2v1h-2zM107 225h4v1h-4zM71 226h2v1h-2zM75 226h2v1h-2zM91 226h2v1h-2zM95 226h6v1h-6zM103 226h2v1h-2zM107 226h4v1h-4zM67 227h2v1h-2zM71 227h2v1h-2zM91 227h14v1h-14zM109 227h2v1h-2zM93 228h4v2h-4zM101 228h10v2h-10zM91 230h2v1h-2zM95 230h2v1h-2zM99 230h8v1h-8zM109 230h2v1h-2zM67 231h2v1h-2zM95 231h2v1h-2zM101 231h10v1h-10zM93 232h2v1h-2zM101 232h4v1h-4zM109 232h2v1h-2zM67 233h4v2h-4zM93 233h10v2h-10zM109 233h2v2h-2zM91 235h10v1h-10zM103 235h6v1h-6zM67 236h2v1h-2zM93 236h4v1h-4zM101 236h4v1h-4zM91 237h4v1h-4zM97 237h6v1h-6zM105 237h2v1h-2zM111 239h6v2h-6zM118 239h40v2h-40zM160 239h2v2h-2zM164 239h4v2h-4zM170 239h16v2h-16zM188 239h8v2h-8zM198 239h6v2h-6zM206 239h6v2h-6zM214 239h4v2h-4zM113 241h5v1h-5zM120 241h8v1h-8zM130 241h2v1h-2zM134 241h18v1h-18zM154 241h32v1h-32zM188 241h30v1h-30zM111 242h19v1h-19zM132 242h26v1h-26zM160 242h22v1h-22zM184 242h16v1h-16zM202 242h2v1h-2zM206 242h4v1h-4zM212 242h6v1h-6zM115 243h19v1h-19zM136 243h14v1h-14zM152 243h2v1h-2zM156 243h62v1h-62zM111 244h25v1h-25zM138 244h12v1h-12zM152 244h34v1h-34zM188 244h16v1h-16zM206 244h4v1h-4zM212 244h6v1h-6zM41 245h2v2h-2zM47 245h6v2h-6zM25 247h2v1h-2zM190 247h2v1h-2zM31 248h2v1h-2zM25 249h2v1h-2zM150 249h2v1h-2zM162 249h2v1h-2zM29 251h2v2h-2zM43 254h2v1h-2zM192 254h2v1h-2zM27 255h2v1h-2zM200 255h2v1h-2zM43 256h2v1h-2zM29 257h2v2h-2zM43 257h2v2h-2zM160 257h2v2h-2zM19 259h2v1h-2zM51 259h2v1h-2zM117 259h1v1h-1zM19 260h4v1h-4zM25 260h10v1h-10zM37 260h8v1h-8zM49 260h2v1h-2zM53 260h2v1h-2zM111 260h97v1h-97zM210 260h8v1h-8zM19 261h4v1h-4zM29 261h2v1h-2zM33 261h2v1h-2zM37 261h2v1h-2zM41 261h2v1h-2zM49 261h6v1h-6zM111 261h27v1h-27zM140 261h12v1h-12zM154 261h34v1h-34zM192 261h20v1h-20zM214 261h4v1h-4zM21 262h14v2h-14zM37 262h8v2h-8zM47 262h4v2h-4zM53 262h2v2h-2zM111 262h11v2h-11zM124 262h8v2h-8zM134 262h28v2h-28zM164 262h6v2h-6zM172 262h6v2h-6zM180 262h2v2h-2zM184 262h12v2h-12zM198 262h2v2h-2zM204 262h14v2h-14zM19 264h2v1h-2zM23 264h8v1h-8zM35 264h6v1h-6zM43 264h4v1h-4zM49 264h6v1h-6zM111 264h11v1h-11zM124 264h28v1h-28zM154 264h64v1h-64zM19 265h2v1h-2zM25 265h10v1h-10zM37 265h2v1h-2zM41 265h2v1h-2zM45 265h2v1h-2zM51 265h4v1h-4zM111 265h43v1h-43zM156 265h28v1h-28zM186 265h6v1h-6zM194 265h6v1h-6zM202 265h16v1h-16zM19 266h14v1h-14zM35 266h2v1h-2zM39 266h4v1h-4zM47 266h6v1h-6zM21 267h2v1h-2zM25 267h2v1h-2zM31 267h14v1h-14zM47 267h8v1h-8zM21 268h4v2h-4zM29 268h14v2h-14zM45 268h2v2h-2zM49 268h4v2h-4zM23 270h4v1h-4zM29 270h2v1h-2zM33 270h2v1h-2zM37 270h4v1h-4zM43 270h2v1h-2zM47 270h2v1h-2zM51 270h4v1h-4zM23 271h6v1h-6zM31 271h6v1h-6zM45 271h6v1h-6zM63 272h2v1h-2zM95 272h2v1h-2zM99 272h2v1h-2zM61 273h2v1h-2zM91 273h10v1h-10zM91 274h10v2h-10zM87 276h2v1h-2zM91 276h8v1h-8zM65 277h2v1h-2zM91 277h4v1h-4zM97 277h4v1h-4zM91 278h10v1h-10zM91 279h10v1h-10zM91 280h10v2h-10zM63 282h2v1h-2zM91 282h4v1h-4zM97 282h2v1h-2zM63 283h2v1h-2zM91 283h4v1h-4zM97 283h4v1h-4zM91 284h10v1h-10zM57 285h2v1h-2zM61 285h2v1h-2zM91 285h2v1h-2zM95 285h6v1h-6zM59 286h2v2h-2zM93 286h4v2h-4zM99 286h2v2h-2zM87 288h2v1h-2zM91 288h10v1h-10zM93 289h8v1h-8zM57 290h2v1h-2zM63 290h2v1h-2zM91 290h10v1h-10zM91 291h6v2h-6zM99 291h2v2h-2zM57 293h2v1h-2zM91 293h10v1h-10zM65 294h2v1h-2zM91 294h10v1h-10zM59 295h2v1h-2zM91 295h10v1h-10zM75 296h2v1h-2zM89 296h12v1h-12zM57 297h2v2h-2zM65 297h2v2h-2zM91 297h10v2h-10zM91 299h10v1h-10zM61 300h4v1h-4zM91 300h8v1h-8zM63 301h2v1h-2zM91 301h10v1h-10zM57 302h2v1h-2zM91 302h8v1h-8zM91 303h2v2h-2zM95 303h6v2h-6zM59 305h2v1h-2zM83 305h2v1h-2zM91 305h10v1h-10zM63 306h2v1h-2zM83 306h2v1h-2zM91 306h4v1h-4zM97 306h4v1h-4zM57 307h2v1h-2zM61 307h2v1h-2zM77 307h2v1h-2zM91 307h10v1h-10zM65 308h2v1h-2zM91 308h2v1h-2zM95 308h6v1h-6zM57 309h2v2h-2zM91 309h10v2h-10zM93 311h4v1h-4zM99 311h2v1h-2zM57 312h4v1h-4zM63 312h4v1h-4zM91 312h8v1h-8zM59 313h2v1h-2zM73 313h2v1h-2zM91 313h10v1h-10zM59 314h2v1h-2zM63 314h2v1h-2zM89 314h2v1h-2zM93 314h8v1h-8zM61 315h2v2h-2zM91 315h2v2h-2zM95 315h2v2h-2zM99 315h2v2h-2zM91 317h10v1h-10zM79 318h2v1h-2zM85 318h2v1h-2zM91 318h10v1h-10zM91 319h2v1h-2zM95 319h6v1h-6zM65 320h2v1h-2zM83 320h2v1h-2zM91 320h10v1h-10zM63 321h2v2h-2zM93 321h2v2h-2zM97 321h4v2h-4zM65 323h2v1h-2zM91 323h10v1h-10zM59 324h2v1h-2zM91 324h2v1h-2zM95 324h6v1h-6zM65 325h2v1h-2zM91 325h10v1h-10zM61 326h2v2h-2zM79 326h2v2h-2zM91 326h4v2h-4zM97 326h4v2h-4zM61 328h2v1h-2zM91 328h10v1h-10zM57 329h2v1h-2zM61 329h2v1h-2zM91 329h10v1h-10zM91 330h10v1h-10zM61 331h2v1h-2zM65 331h2v1h-2zM91 331h10v1h-10zM91 332h10v2h-10zM91 334h8v1h-8zM59 335h2v1h-2zM65 335h2v1h-2zM83 335h2v1h-2zM95 335h2v1h-2zM99 335h2v1h-2zM61 336h2v1h-2zM91 336h2v1h-2zM95 336h6v1h-6z"/>
<path fill="#b4524c" d="M21 219h2v1h-2zM47 219h4v1h-4zM49 225h4v1h-4zM43 226h4v1h-4zM51 226h2v1h-2zM39 227h4v1h-4zM49 227h4v1h-4zM23 228h2v2h-2zM35 228h2v2h-2zM41 228h4v2h-4zM47 228h4v2h-4zM35 230h2v1h-2zM51 230h4v1h-4zM21 231h2v1h-2zM39 231h2v1h-2zM47 231h2v1h-2zM35 232h2v1h-2zM41 232h2v1h-2zM51 232h2v1h-2zM35 233h4v2h-4zM41 233h4v2h-4zM51 233h2v2h-2zM39 235h8v1h-8zM51 235h4v1h-4zM23 236h2v1h-2zM33 236h2v1h-2zM37 236h2v1h-2zM41 236h2v1h-2zM53 236h2v1h-2zM39 237h2v1h-2zM47 237h2v1h-2zM188 273h2v1h-2zM120 277h98v1h-98zM118 278h2v1h-2zM122 278h66v1h-66zM190 278h28v1h-28zM118 279h4v1h-4zM124 279h12v1h-12zM138 279h80v1h-80zM118 280h6v2h-6zM126 280h92v2h-92zM118 282h8v1h-8zM128 282h50v1h-50zM180 282h32v1h-32zM214 282h4v1h-4zM118 283h10v1h-10zM130 283h44v1h-44zM176 283h30v1h-30zM208 283h2v1h-2zM212 283h2v1h-2zM216 283h2v1h-2zM118 284h4v1h-4zM124 284h6v1h-6zM132 284h8v1h-8zM118 285h8v1h-8zM128 285h2v1h-2zM134 285h2v1h-2zM138 285h2v1h-2zM160 285h4v1h-4zM118 286h8v2h-8zM130 286h4v2h-4zM138 286h2v2h-2zM146 286h2v2h-2zM118 288h18v1h-18zM138 288h2v1h-2zM150 288h2v1h-2zM118 289h8v1h-8zM128 289h10v1h-10zM144 289h2v1h-2zM162 289h2v1h-2zM118 290h6v1h-6zM126 290h4v1h-4zM152 290h4v1h-4zM118 291h6v2h-6zM126 291h6v2h-6zM134 291h6v2h-6zM146 291h2v2h-2zM168 291h2v2h-2zM118 293h18v1h-18zM138 293h2v1h-2zM162 293h2v1h-2zM118 294h6v1h-6zM126 294h8v1h-8zM136 294h2v1h-2zM150 294h2v1h-2zM118 295h14v1h-14zM136 295h4v1h-4zM118 296h6v1h-6zM132 296h4v1h-4zM138 296h2v1h-2zM146 296h2v1h-2zM152 296h4v1h-4zM118 297h8v2h-8zM128 297h2v2h-2zM132 297h8v2h-8zM160 297h2v2h-2zM118 299h6v1h-6zM126 299h6v1h-6zM136 299h4v1h-4zM146 299h2v1h-2zM152 299h2v1h-2zM168 299h2v1h-2zM118 300h12v1h-12zM134 300h2v1h-2zM138 300h2v1h-2zM144 300h2v1h-2zM162 300h2v1h-2zM118 301h6v1h-6zM128 301h6v1h-6zM136 301h6v1h-6zM162 301h2v1h-2zM118 302h16v1h-16zM136 302h2v1h-2zM118 303h8v2h-8zM128 303h6v2h-6zM136 303h4v2h-4zM118 305h10v1h-10zM130 305h6v1h-6zM118 306h6v1h-6zM126 306h2v1h-2zM132 306h8v1h-8zM118 307h12v1h-12zM132 307h6v1h-6zM118 308h6v1h-6zM126 308h2v1h-2zM130 308h8v1h-8zM118 309h6v2h-6zM126 309h2v2h-2zM134 309h2v2h-2zM138 309h2v2h-2zM118 311h10v1h-10zM130 311h10v1h-10zM118 312h6v1h-6zM126 312h2v1h-2zM130 312h4v1h-4zM138 312h2v1h-2zM118 313h6v1h-6zM126 313h2v1h-2zM138 313h2v1h-2zM118 314h8v1h-8zM128 314h12v1h-12zM118 315h8v2h-8zM128 315h6v2h-6zM138 315h2v2h-2zM118 317h6v1h-6zM126 317h4v1h-4zM134 317h6v1h-6zM118 318h6v1h-6zM130 318h8v1h-8zM118 319h6v1h-6zM126 319h4v1h-4zM132 319h6v1h-6zM118 320h8v1h-8zM128 320h4v1h-4zM136 320h4v1h-4zM118 321h8v2h-8zM128 321h4v2h-4zM134 321h2v2h-2zM138 321h2v2h-2zM118 323h8v1h-8zM128 323h6v1h-6zM136 323h4v1h-4zM118 324h8v1h-8zM130 324h4v1h-4zM138 324h2v1h-2zM118 325h6v1h-6zM130 325h2v1h-2zM136 325h4v1h-4zM118 326h6v2h-6zM126 326h4v2h-4zM132 326h8v2h-8zM118 328h10v1h-10zM130 328h2v1h-2zM138 328h2v1h-2zM118 329h6v1h-6zM126 329h6v1h-6zM136 329h2v1h-2zM118 330h6v1h-6zM128 330h2v1h-2zM132 330h4v1h-4zM118 331h8v1h-8zM128 331h2v1h-2zM132 331h2v1h-2zM138 331h2v1h-2zM118 332h10v2h-10zM130 332h2v2h-2zM134 332h4v2h-4zM118 334h4v1h-4zM128 334h2v1h-2zM132 334h4v1h-4zM118 335h18v1h-18zM138 335h2v1h-2zM118 336h16v1h-16zM136 336h2v1h-2z"/>
<path fill="#953b49" d="M51 219h2v1h-2zM21 236h2v1h-2zM47 236h2v1h-2zM140 284h78v1h-78zM126 285h2v1h-2zM130 285h2v1h-2zM136 285h2v1h-2zM140 285h20v1h-20zM164 285h54v1h-54zM126 286h4v2h-4zM136 286h2v2h-2zM140 286h6v2h-6zM148 286h70v2h-70zM140 288h10v1h-10zM152 288h66v1h-66zM126 289h2v1h-2zM140 289h4v1h-4zM146 289h16v1h-16zM164 289h54v1h-54zM124 290h2v1h-2zM130 290h10v1h-10zM142 290h10v1h-10zM156 290h62v1h-62zM124 291h2v2h-2zM132 291h2v2h-2zM140 291h2v2h-2zM144 291h2v2h-2zM148 291h20v2h-20zM170 291h48v2h-48zM136 293h2v1h-2zM140 293h4v1h-4zM146 293h16v1h-16zM164 293h54v1h-54zM124 294h2v1h-2zM134 294h2v1h-2zM138 294h8v1h-8zM148 294h2v1h-2zM152 294h66v1h-66zM132 295h4v1h-4zM140 295h8v1h-8zM150 295h68v1h-68zM124 296h8v1h-8zM136 296h2v1h-2zM140 296h6v1h-6zM148 296h2v1h-2zM156 296h62v1h-62zM126 297h2v2h-2zM130 297h2v2h-2zM140 297h12v2h-12zM154 297h6v2h-6zM162 297h56v2h-56zM132 299h4v1h-4zM140 299h6v1h-6zM148 299h4v1h-4zM156 299h12v1h-12zM170 299h48v1h-48zM130 300h4v1h-4zM136 300h2v1h-2zM140 300h4v1h-4zM146 300h10v1h-10zM158 300h4v1h-4zM164 300h54v1h-54zM124 301h4v1h-4zM134 301h2v1h-2zM142 301h16v1h-16zM160 301h2v1h-2zM164 301h54v1h-54zM134 302h2v1h-2zM138 302h22v1h-22zM162 302h56v1h-56zM126 303h2v2h-2zM134 303h2v2h-2zM140 303h22v2h-22zM164 303h54v2h-54zM128 305h2v1h-2zM136 305h28v1h-28zM166 305h52v1h-52zM124 306h2v1h-2zM128 306h4v1h-4zM140 306h26v1h-26zM168 306h50v1h-50zM130 307h2v1h-2zM140 307h28v1h-28zM170 307h48v1h-48zM124 308h2v1h-2zM128 308h2v1h-2zM138 308h32v1h-32zM172 308h46v1h-46zM124 309h2v2h-2zM128 309h4v2h-4zM136 309h2v2h-2zM140 309h32v2h-32zM174 309h44v2h-44zM128 311h2v1h-2zM140 311h34v1h-34zM176 311h42v1h-42zM124 312h2v1h-2zM128 312h2v1h-2zM134 312h4v1h-4zM140 312h36v1h-36zM178 312h40v1h-40zM124 313h2v1h-2zM128 313h10v1h-10zM140 313h38v1h-38zM180 313h38v1h-38zM126 314h2v1h-2zM140 314h40v1h-40zM182 314h36v1h-36zM126 315h2v2h-2zM134 315h4v2h-4zM140 315h42v2h-42zM184 315h34v2h-34zM124 317h2v1h-2zM130 317h4v1h-4zM140 317h44v1h-44zM186 317h32v1h-32zM124 318h6v1h-6zM138 318h48v1h-48zM188 318h30v1h-30zM124 319h2v1h-2zM130 319h2v1h-2zM138 319h50v1h-50zM190 319h28v1h-28zM126 320h2v1h-2zM132 320h4v1h-4zM140 320h50v1h-50zM192 320h26v1h-26zM126 321h2v2h-2zM132 321h2v2h-2zM136 321h2v2h-2zM140 321h52v2h-52zM194 321h24v2h-24zM126 323h2v1h-2zM134 323h2v1h-2zM140 323h54v1h-54zM196 323h22v1h-22zM126 324h4v1h-4zM134 324h4v1h-4zM140 324h56v1h-56zM198 324h20v1h-20zM124 325h6v1h-6zM132 325h4v1h-4zM140 325h58v1h-58zM200 325h18v1h-18zM124 326h2v2h-2zM130 326h2v2h-2zM140 326h60v2h-60zM202 326h16v2h-16zM128 328h2v1h-2zM132 328h6v1h-6zM140 328h62v1h-62zM204 328h14v1h-14zM124 329h2v1h-2zM132 329h4v1h-4zM138 329h66v1h-66zM206 329h12v1h-12zM124 330h4v1h-4zM130 330h2v1h-2zM136 330h70v1h-70zM208 330h10v1h-10zM126 331h2v1h-2zM130 331h2v1h-2zM134 331h4v1h-4zM140 331h68v1h-68zM210 331h8v1h-8zM128 332h2v2h-2zM132 332h2v2h-2zM138 332h72v2h-72zM212 332h6v2h-6zM124 334h4v1h-4zM130 334h2v1h-2zM136 334h76v1h-76zM214 334h4v1h-4zM136 335h2v1h-2zM140 335h74v1h-74zM216 335h2v1h-2zM134 336h2v1h-2zM138 336h78v1h-78z"/>
</g>
<rect x="220.90" y="270.10" width="4.70" height="5.78" fill="#953b49"/>
<rect x="220.90" y="275.68" width="4.70" height="5.78" fill="#b4524c"/>
<rect x="220.90" y="281.26" width="4.70" height="5.78" fill="#d47e5e"/>
<rect x="220.90" y="286.85" width="4.70" height="5.78" fill="#eaa56e"/>
<rect x="220.90" y="292.43" width="4.70" height="5.78" fill="#f4d392"/>
<rect x="220.90" y="298.01" width="4.70" height="5.78" fill="#f6efc0"/>
<rect x="220.90" y="303.59" width="4.70" height="5.78" fill="#e2ebee"/>
<rect x="220.90" y="309.17" width="4.70" height="5.78" fill="#b7cfe4"/>
<rect x="220.90" y="314.75" width="4.70" height="5.78" fill="#8ca5d0"/>
<rect x="220.90" y="320.34" width="4.70" height="5.78" fill="#6c79b5"/>
<rect x="220.90" y="325.92" width="4.70" height="5.78" fill="#4a4c94"/>
<text x="228.60" y="271.70" font-size="6.2" fill="#231f20" stroke="#231f20" stroke-width="0.1">1</text>
<text x="228.60" y="284.00" font-size="6.2" fill="#231f20" stroke="#231f20" stroke-width="0.1">0.8</text>
<text x="228.60" y="296.20" font-size="6.2" fill="#231f20" stroke="#231f20" stroke-width="0.1">0.6</text>
<text x="228.60" y="308.70" font-size="6.2" fill="#231f20" stroke="#231f20" stroke-width="0.1">0.4</text>
<text x="228.60" y="320.60" font-size="6.2" fill="#231f20" stroke="#231f20" stroke-width="0.1">0.2</text>
<text x="228.60" y="331.90" font-size="6.2" fill="#231f20" stroke="#231f20" stroke-width="0.1">0</text>
<line x1="280.60" y1="228.80" x2="281.20" y2="285.60" stroke="#231f20" stroke-width="0.9"/>
<line x1="278.00" y1="231.50" x2="280.70" y2="231.50" stroke="#231f20" stroke-width="0.7"/>
<text x="275.60" y="233.60" font-size="6.2" fill="#231f20" text-anchor="end" textLength="9.60" lengthAdjust="spacingAndGlyphs" stroke="#231f20" stroke-width="0.1">100</text>
<line x1="278.00" y1="243.70" x2="280.70" y2="243.70" stroke="#231f20" stroke-width="0.7"/>
<text x="275.60" y="245.80" font-size="6.2" fill="#231f20" text-anchor="end" textLength="6.40" lengthAdjust="spacingAndGlyphs" stroke="#231f20" stroke-width="0.1">80</text>
<line x1="278.00" y1="254.40" x2="280.70" y2="254.40" stroke="#231f20" stroke-width="0.7"/>
<text x="275.60" y="256.50" font-size="6.2" fill="#231f20" text-anchor="end" textLength="6.40" lengthAdjust="spacingAndGlyphs" stroke="#231f20" stroke-width="0.1">60</text>
<line x1="278.00" y1="265.20" x2="280.70" y2="265.20" stroke="#231f20" stroke-width="0.7"/>
<text x="275.60" y="267.30" font-size="6.2" fill="#231f20" text-anchor="end" textLength="6.40" lengthAdjust="spacingAndGlyphs" stroke="#231f20" stroke-width="0.1">40</text>
<line x1="278.00" y1="275.40" x2="280.70" y2="275.40" stroke="#231f20" stroke-width="0.7"/>
<text x="275.60" y="277.50" font-size="6.2" fill="#231f20" text-anchor="end" textLength="6.40" lengthAdjust="spacingAndGlyphs" stroke="#231f20" stroke-width="0.1">20</text>
<text x="272.40" y="286.60" font-size="6.2" fill="#231f20" stroke="#231f20" stroke-width="0.1">0</text>
<text x="275.60" y="292.40" font-size="6.2" fill="#231f20" stroke="#231f20" stroke-width="0.1">0</text>
<line x1="283.10" y1="285.40" x2="328.10" y2="309.60" stroke="#231f20" stroke-width="0.9"/>
<line x1="328.10" y1="309.60" x2="371.60" y2="287.40" stroke="#231f20" stroke-width="0.9"/>
<line x1="371.60" y1="287.40" x2="377.00" y2="229.80" stroke="#231f20" stroke-width="0.9"/>
<line x1="296.60" y1="292.66" x2="294.80" y2="295.06" stroke="#231f20" stroke-width="0.6"/>
<line x1="311.00" y1="300.40" x2="309.20" y2="302.80" stroke="#231f20" stroke-width="0.6"/>
<text x="292.30" y="303.60" font-size="6.2" fill="#231f20" text-anchor="middle" stroke="#231f20" stroke-width="0.1">50</text>
<text x="306.20" y="312.20" font-size="6.2" fill="#231f20" text-anchor="middle" textLength="9.60" lengthAdjust="spacingAndGlyphs" stroke="#231f20" stroke-width="0.1">100</text>
<text x="378.80" y="291.10" font-size="6.2" fill="#231f20" text-anchor="middle" stroke="#231f20" stroke-width="0.1">0</text>
<text x="372.00" y="296.30" font-size="6.2" fill="#231f20" text-anchor="middle" stroke="#231f20" stroke-width="0.1">20</text>
<text x="364.40" y="301.10" font-size="6.2" fill="#231f20" text-anchor="middle" stroke="#231f20" stroke-width="0.1">40</text>
<text x="355.80" y="305.90" font-size="6.2" fill="#231f20" text-anchor="middle" stroke="#231f20" stroke-width="0.1">60</text>
<text x="346.60" y="310.30" font-size="6.2" fill="#231f20" text-anchor="middle" stroke="#231f20" stroke-width="0.1">80</text>
<text x="338.50" y="314.70" font-size="6.2" fill="#231f20" text-anchor="middle" textLength="9.60" lengthAdjust="spacingAndGlyphs" stroke="#231f20" stroke-width="0.1">100</text>
<line x1="365.08" y1="290.73" x2="366.88" y2="293.13" stroke="#231f20" stroke-width="0.6"/>
<line x1="357.68" y1="294.50" x2="359.48" y2="296.90" stroke="#231f20" stroke-width="0.6"/>
<line x1="349.85" y1="298.50" x2="351.65" y2="300.90" stroke="#231f20" stroke-width="0.6"/>
<line x1="342.02" y1="302.50" x2="343.82" y2="304.90" stroke="#231f20" stroke-width="0.6"/>
<line x1="334.19" y1="306.49" x2="335.99" y2="308.89" stroke="#231f20" stroke-width="0.6"/>
<circle cx="306.84" cy="258.54" r="2.4" fill="#f4c985" stroke="#9c7d55" stroke-width="0.6"/>
<circle cx="317.78" cy="267.32" r="2.4" fill="#f4c985" stroke="#9c7d55" stroke-width="0.6"/>
<circle cx="319.01" cy="262.72" r="2.4" fill="#f4c985" stroke="#9c7d55" stroke-width="0.6"/>
<circle cx="314.41" cy="264.14" r="2.4" fill="#f4c985" stroke="#9c7d55" stroke-width="0.6"/>
<circle cx="308.96" cy="266.94" r="2.4" fill="#f4c985" stroke="#9c7d55" stroke-width="0.6"/>
<circle cx="306.47" cy="263.69" r="2.4" fill="#f4c985" stroke="#9c7d55" stroke-width="0.6"/>
<circle cx="315.84" cy="266.37" r="2.4" fill="#f4c985" stroke="#9c7d55" stroke-width="0.6"/>
<circle cx="312.78" cy="262.19" r="2.4" fill="#f4c985" stroke="#9c7d55" stroke-width="0.6"/>
<circle cx="313.27" cy="262.60" r="2.4" fill="#f4c985" stroke="#9c7d55" stroke-width="0.6"/>
<circle cx="310.65" cy="263.72" r="2.4" fill="#f4c985" stroke="#9c7d55" stroke-width="0.6"/>
<circle cx="322.22" cy="266.15" r="2.4" fill="#f4c985" stroke="#9c7d55" stroke-width="0.6"/>
<circle cx="313.34" cy="270.38" r="2.4" fill="#f4c985" stroke="#9c7d55" stroke-width="0.6"/>
<circle cx="322.18" cy="264.55" r="2.4" fill="#f4c985" stroke="#9c7d55" stroke-width="0.6"/>
<circle cx="305.49" cy="263.61" r="2.4" fill="#f4c985" stroke="#9c7d55" stroke-width="0.6"/>
<circle cx="315.68" cy="262.61" r="2.4" fill="#f4c985" stroke="#9c7d55" stroke-width="0.6"/>
<circle cx="310.64" cy="269.00" r="2.4" fill="#f4c985" stroke="#9c7d55" stroke-width="0.6"/>
<circle cx="313.57" cy="267.89" r="2.4" fill="#f4c985" stroke="#9c7d55" stroke-width="0.6"/>
<circle cx="310.43" cy="274.38" r="2.4" fill="#f4c985" stroke="#9c7d55" stroke-width="0.6"/>
<circle cx="319.72" cy="266.21" r="2.4" fill="#f4c985" stroke="#9c7d55" stroke-width="0.6"/>
<circle cx="310.33" cy="270.77" r="2.4" fill="#f4c985" stroke="#9c7d55" stroke-width="0.6"/>
<circle cx="314.79" cy="259.24" r="2.4" fill="#f4c985" stroke="#9c7d55" stroke-width="0.6"/>
<circle cx="310.29" cy="272.82" r="2.4" fill="#f4c985" stroke="#9c7d55" stroke-width="0.6"/>
<circle cx="312.04" cy="263.86" r="2.4" fill="#f4c985" stroke="#9c7d55" stroke-width="0.6"/>
<circle cx="313.52" cy="265.78" r="2.4" fill="#f4c985" stroke="#9c7d55" stroke-width="0.6"/>
<circle cx="312.49" cy="253.45" r="2.4" fill="#f4c985" stroke="#9c7d55" stroke-width="0.6"/>
<circle cx="320.90" cy="267.30" r="2.4" fill="#f4c985" stroke="#9c7d55" stroke-width="0.6"/>
<circle cx="308.29" cy="272.37" r="2.4" fill="#f4c985" stroke="#9c7d55" stroke-width="0.6"/>
<circle cx="313.98" cy="266.11" r="2.4" fill="#f4c985" stroke="#9c7d55" stroke-width="0.6"/>
<circle cx="315.16" cy="276.30" r="2.4" fill="#f4c985" stroke="#9c7d55" stroke-width="0.6"/>
<circle cx="322.86" cy="259.36" r="2.4" fill="#f4c985" stroke="#9c7d55" stroke-width="0.6"/>
<circle cx="308.50" cy="253.00" r="2.4" fill="#f4c985" stroke="#9c7d55" stroke-width="0.6"/>
<circle cx="317.70" cy="252.00" r="2.4" fill="#f4c985" stroke="#9c7d55" stroke-width="0.6"/>
<circle cx="307.30" cy="261.00" r="2.4" fill="#f4c985" stroke="#9c7d55" stroke-width="0.6"/>
<circle cx="305.00" cy="269.00" r="2.4" fill="#f4c985" stroke="#9c7d55" stroke-width="0.6"/>
<circle cx="307.30" cy="277.30" r="2.4" fill="#f4c985" stroke="#9c7d55" stroke-width="0.6"/>
<circle cx="314.20" cy="277.30" r="2.4" fill="#f4c985" stroke="#9c7d55" stroke-width="0.6"/>
<circle cx="316.50" cy="271.50" r="2.4" fill="#f4c985" stroke="#9c7d55" stroke-width="0.6"/>
<circle cx="331.34" cy="278.05" r="2.4" fill="#a0a0a0" stroke="#555555" stroke-width="0.6"/>
<circle cx="323.04" cy="271.26" r="2.4" fill="#a0a0a0" stroke="#555555" stroke-width="0.6"/>
<circle cx="344.05" cy="279.78" r="2.4" fill="#a0a0a0" stroke="#555555" stroke-width="0.6"/>
<circle cx="339.06" cy="260.68" r="2.4" fill="#a0a0a0" stroke="#555555" stroke-width="0.6"/>
<circle cx="340.37" cy="276.22" r="2.4" fill="#a0a0a0" stroke="#555555" stroke-width="0.6"/>
<circle cx="322.99" cy="263.67" r="2.4" fill="#a0a0a0" stroke="#555555" stroke-width="0.6"/>
<circle cx="326.48" cy="285.47" r="2.4" fill="#a0a0a0" stroke="#555555" stroke-width="0.6"/>
<circle cx="329.18" cy="271.43" r="2.4" fill="#a0a0a0" stroke="#555555" stroke-width="0.6"/>
<circle cx="333.22" cy="276.71" r="2.4" fill="#a0a0a0" stroke="#555555" stroke-width="0.6"/>
<circle cx="338.50" cy="274.74" r="2.4" fill="#a0a0a0" stroke="#555555" stroke-width="0.6"/>
<circle cx="336.17" cy="274.74" r="2.4" fill="#a0a0a0" stroke="#555555" stroke-width="0.6"/>
<circle cx="343.61" cy="272.33" r="2.4" fill="#a0a0a0" stroke="#555555" stroke-width="0.6"/>
<circle cx="330.72" cy="275.67" r="2.4" fill="#a0a0a0" stroke="#555555" stroke-width="0.6"/>
<circle cx="324.12" cy="266.23" r="2.4" fill="#a0a0a0" stroke="#555555" stroke-width="0.6"/>
<circle cx="327.96" cy="274.87" r="2.4" fill="#a0a0a0" stroke="#555555" stroke-width="0.6"/>
<circle cx="349.64" cy="277.96" r="2.4" fill="#a0a0a0" stroke="#555555" stroke-width="0.6"/>
<circle cx="342.99" cy="274.55" r="2.4" fill="#a0a0a0" stroke="#555555" stroke-width="0.6"/>
<circle cx="336.95" cy="270.08" r="2.4" fill="#a0a0a0" stroke="#555555" stroke-width="0.6"/>
<circle cx="326.58" cy="264.63" r="2.4" fill="#a0a0a0" stroke="#555555" stroke-width="0.6"/>
<circle cx="340.86" cy="277.31" r="2.4" fill="#a0a0a0" stroke="#555555" stroke-width="0.6"/>
<circle cx="342.99" cy="283.11" r="2.4" fill="#a0a0a0" stroke="#555555" stroke-width="0.6"/>
<circle cx="332.86" cy="279.86" r="2.4" fill="#a0a0a0" stroke="#555555" stroke-width="0.6"/>
<circle cx="348.69" cy="272.94" r="2.4" fill="#a0a0a0" stroke="#555555" stroke-width="0.6"/>
<circle cx="342.61" cy="271.93" r="2.4" fill="#a0a0a0" stroke="#555555" stroke-width="0.6"/>
<circle cx="323.71" cy="273.78" r="2.4" fill="#a0a0a0" stroke="#555555" stroke-width="0.6"/>
<circle cx="329.24" cy="273.71" r="2.4" fill="#a0a0a0" stroke="#555555" stroke-width="0.6"/>
<circle cx="331.76" cy="275.08" r="2.4" fill="#a0a0a0" stroke="#555555" stroke-width="0.6"/>
<circle cx="344.52" cy="270.72" r="2.4" fill="#a0a0a0" stroke="#555555" stroke-width="0.6"/>
<circle cx="328.64" cy="273.03" r="2.4" fill="#a0a0a0" stroke="#555555" stroke-width="0.6"/>
<circle cx="339.73" cy="275.75" r="2.4" fill="#a0a0a0" stroke="#555555" stroke-width="0.6"/>
<circle cx="337.81" cy="260.20" r="2.4" fill="#a0a0a0" stroke="#555555" stroke-width="0.6"/>
<circle cx="327.09" cy="281.73" r="2.4" fill="#a0a0a0" stroke="#555555" stroke-width="0.6"/>
<circle cx="336.68" cy="263.11" r="2.4" fill="#a0a0a0" stroke="#555555" stroke-width="0.6"/>
<circle cx="328.92" cy="263.59" r="2.4" fill="#a0a0a0" stroke="#555555" stroke-width="0.6"/>
<circle cx="327.85" cy="280.68" r="2.4" fill="#a0a0a0" stroke="#555555" stroke-width="0.6"/>
<circle cx="333.44" cy="280.36" r="2.4" fill="#a0a0a0" stroke="#555555" stroke-width="0.6"/>
<circle cx="336.33" cy="263.12" r="2.4" fill="#a0a0a0" stroke="#555555" stroke-width="0.6"/>
<circle cx="330.41" cy="288.09" r="2.4" fill="#a0a0a0" stroke="#555555" stroke-width="0.6"/>
<circle cx="329.56" cy="266.08" r="2.4" fill="#a0a0a0" stroke="#555555" stroke-width="0.6"/>
<circle cx="343.79" cy="273.59" r="2.4" fill="#a0a0a0" stroke="#555555" stroke-width="0.6"/>
<circle cx="334.95" cy="282.70" r="2.4" fill="#a0a0a0" stroke="#555555" stroke-width="0.6"/>
<circle cx="322.45" cy="275.76" r="2.4" fill="#a0a0a0" stroke="#555555" stroke-width="0.6"/>
<circle cx="327.48" cy="263.71" r="2.4" fill="#a0a0a0" stroke="#555555" stroke-width="0.6"/>
<circle cx="329.19" cy="280.63" r="2.4" fill="#a0a0a0" stroke="#555555" stroke-width="0.6"/>
<circle cx="334.00" cy="260.84" r="2.4" fill="#a0a0a0" stroke="#555555" stroke-width="0.6"/>
<circle cx="327.08" cy="283.12" r="2.4" fill="#a0a0a0" stroke="#555555" stroke-width="0.6"/>
<circle cx="342.31" cy="265.76" r="2.4" fill="#a0a0a0" stroke="#555555" stroke-width="0.6"/>
<circle cx="326.46" cy="272.09" r="2.4" fill="#a0a0a0" stroke="#555555" stroke-width="0.6"/>
<circle cx="341.70" cy="283.70" r="2.4" fill="#a0a0a0" stroke="#555555" stroke-width="0.6"/>
<circle cx="342.36" cy="270.16" r="2.4" fill="#a0a0a0" stroke="#555555" stroke-width="0.6"/>
<circle cx="330.98" cy="263.33" r="2.4" fill="#a0a0a0" stroke="#555555" stroke-width="0.6"/>
<circle cx="334.47" cy="269.04" r="2.4" fill="#a0a0a0" stroke="#555555" stroke-width="0.6"/>
<circle cx="336.75" cy="264.58" r="2.4" fill="#a0a0a0" stroke="#555555" stroke-width="0.6"/>
<circle cx="331.30" cy="267.14" r="2.4" fill="#a0a0a0" stroke="#555555" stroke-width="0.6"/>
<circle cx="326.39" cy="265.13" r="2.4" fill="#a0a0a0" stroke="#555555" stroke-width="0.6"/>
<circle cx="327.71" cy="265.14" r="2.4" fill="#a0a0a0" stroke="#555555" stroke-width="0.6"/>
<circle cx="339.07" cy="273.66" r="2.4" fill="#a0a0a0" stroke="#555555" stroke-width="0.6"/>
<circle cx="325.54" cy="276.41" r="2.4" fill="#a0a0a0" stroke="#555555" stroke-width="0.6"/>
<circle cx="337.06" cy="282.71" r="2.4" fill="#a0a0a0" stroke="#555555" stroke-width="0.6"/>
<circle cx="333.61" cy="271.61" r="2.4" fill="#a0a0a0" stroke="#555555" stroke-width="0.6"/>
<circle cx="330.07" cy="273.83" r="2.4" fill="#a0a0a0" stroke="#555555" stroke-width="0.6"/>
<circle cx="338.53" cy="274.16" r="2.4" fill="#a0a0a0" stroke="#555555" stroke-width="0.6"/>
<circle cx="333.18" cy="276.75" r="2.4" fill="#a0a0a0" stroke="#555555" stroke-width="0.6"/>
<circle cx="335.66" cy="274.64" r="2.4" fill="#a0a0a0" stroke="#555555" stroke-width="0.6"/>
<circle cx="328.31" cy="274.37" r="2.4" fill="#a0a0a0" stroke="#555555" stroke-width="0.6"/>
<circle cx="327.86" cy="267.39" r="2.4" fill="#a0a0a0" stroke="#555555" stroke-width="0.6"/>
<circle cx="336.15" cy="287.01" r="2.4" fill="#a0a0a0" stroke="#555555" stroke-width="0.6"/>
<circle cx="342.14" cy="273.03" r="2.4" fill="#a0a0a0" stroke="#555555" stroke-width="0.6"/>
<circle cx="333.72" cy="279.57" r="2.4" fill="#a0a0a0" stroke="#555555" stroke-width="0.6"/>
<circle cx="344.90" cy="281.11" r="2.4" fill="#a0a0a0" stroke="#555555" stroke-width="0.6"/>
<circle cx="344.00" cy="283.00" r="2.4" fill="#a0a0a0" stroke="#555555" stroke-width="0.6"/>
<circle cx="340.00" cy="286.00" r="2.4" fill="#a0a0a0" stroke="#555555" stroke-width="0.6"/>
<circle cx="333.80" cy="288.50" r="2.4" fill="#a0a0a0" stroke="#555555" stroke-width="0.6"/>
<circle cx="348.80" cy="271.50" r="2.4" fill="#a0a0a0" stroke="#555555" stroke-width="0.6"/>
<circle cx="317.70" cy="261.00" r="2.4" fill="#a0a0a0" stroke="#555555" stroke-width="0.6"/>
<circle cx="346.00" cy="262.00" r="2.4" fill="#a0a0a0" stroke="#555555" stroke-width="0.6"/>
<circle cx="340.00" cy="259.00" r="2.4" fill="#a0a0a0" stroke="#555555" stroke-width="0.6"/>
<line x1="328.60" y1="270.40" x2="288.00" y2="283.00" stroke="#231f20" stroke-width="0.9"/>
<line x1="328.60" y1="270.40" x2="366.00" y2="285.00" stroke="#231f20" stroke-width="0.9"/>
<circle cx="318.80" cy="225.10" r="2.4" fill="#e1a332" stroke="#6e5222" stroke-width="0.6"/>
<circle cx="331.02" cy="245.79" r="2.4" fill="#e1a332" stroke="#6e5222" stroke-width="0.6"/>
<circle cx="329.16" cy="240.35" r="2.4" fill="#e1a332" stroke="#6e5222" stroke-width="0.6"/>
<circle cx="327.34" cy="249.13" r="2.4" fill="#e1a332" stroke="#6e5222" stroke-width="0.6"/>
<circle cx="330.61" cy="257.19" r="2.4" fill="#e1a332" stroke="#6e5222" stroke-width="0.6"/>
<circle cx="325.72" cy="254.46" r="2.4" fill="#e1a332" stroke="#6e5222" stroke-width="0.6"/>
<circle cx="330.20" cy="251.02" r="2.4" fill="#e1a332" stroke="#6e5222" stroke-width="0.6"/>
<circle cx="330.12" cy="245.70" r="2.4" fill="#e1a332" stroke="#6e5222" stroke-width="0.6"/>
<circle cx="330.49" cy="249.50" r="2.4" fill="#e1a332" stroke="#6e5222" stroke-width="0.6"/>
<circle cx="331.02" cy="257.17" r="2.4" fill="#e1a332" stroke="#6e5222" stroke-width="0.6"/>
<circle cx="328.11" cy="245.35" r="2.4" fill="#e1a332" stroke="#6e5222" stroke-width="0.6"/>
<circle cx="329.46" cy="255.92" r="2.4" fill="#e1a332" stroke="#6e5222" stroke-width="0.6"/>
<circle cx="328.61" cy="249.53" r="2.4" fill="#e1a332" stroke="#6e5222" stroke-width="0.6"/>
<circle cx="330.21" cy="250.50" r="2.4" fill="#e1a332" stroke="#6e5222" stroke-width="0.6"/>
<circle cx="330.56" cy="255.88" r="2.4" fill="#e1a332" stroke="#6e5222" stroke-width="0.6"/>
<circle cx="327.43" cy="245.83" r="2.4" fill="#e1a332" stroke="#6e5222" stroke-width="0.6"/>
<circle cx="329.14" cy="244.18" r="2.4" fill="#e1a332" stroke="#6e5222" stroke-width="0.6"/>
<circle cx="325.26" cy="257.46" r="2.4" fill="#e1a332" stroke="#6e5222" stroke-width="0.6"/>
<circle cx="331.74" cy="256.32" r="2.4" fill="#e1a332" stroke="#6e5222" stroke-width="0.6"/>
<circle cx="328.29" cy="250.12" r="2.4" fill="#e1a332" stroke="#6e5222" stroke-width="0.6"/>
<circle cx="333.66" cy="248.18" r="2.4" fill="#e1a332" stroke="#6e5222" stroke-width="0.6"/>
<circle cx="326.42" cy="246.60" r="2.4" fill="#e1a332" stroke="#6e5222" stroke-width="0.6"/>
<circle cx="333.31" cy="248.09" r="2.4" fill="#e1a332" stroke="#6e5222" stroke-width="0.6"/>
<circle cx="324.00" cy="252.00" r="2.4" fill="#e1a332" stroke="#6e5222" stroke-width="0.6"/>
<circle cx="321.00" cy="254.50" r="2.4" fill="#e1a332" stroke="#6e5222" stroke-width="0.6"/>
<circle cx="318.60" cy="255.20" r="2.4" fill="#e1a332" stroke="#6e5222" stroke-width="0.6"/>
<circle cx="316.00" cy="258.00" r="2.4" fill="#e1a332" stroke="#6e5222" stroke-width="0.6"/>
<circle cx="321.00" cy="259.50" r="2.4" fill="#e1a332" stroke="#6e5222" stroke-width="0.6"/>
<circle cx="324.50" cy="257.00" r="2.4" fill="#e1a332" stroke="#6e5222" stroke-width="0.6"/>
<line x1="328.60" y1="270.40" x2="328.60" y2="224.00" stroke="#231f20" stroke-width="0.9"/>
<path d="M328.60 219.00L332.80 226.50L328.60 224.40L324.40 226.50Z" fill="#231f20"/>
<path d="M283.60 285.20L289.05 278.68L288.61 283.17L292.05 286.09Z" fill="#231f20"/>
<path d="M371.00 287.30L362.56 288.31L365.97 285.34L365.46 280.85Z" fill="#231f20"/>
<text x="305.60" y="241.20" font-size="6.3" fill="#d9a04a" text-anchor="middle" textLength="24.00" lengthAdjust="spacingAndGlyphs">metagene</text>
<text x="305.80" y="248.00" font-size="6.3" fill="#d9a04a" text-anchor="middle">C1</text>
<text x="356.40" y="261.60" font-size="6.3" fill="#9a9a9a" text-anchor="middle" textLength="24.00" lengthAdjust="spacingAndGlyphs">metagene</text>
<text x="356.40" y="268.00" font-size="6.3" fill="#9a9a9a" text-anchor="middle">C3</text>
<text x="312.70" y="287.00" font-size="6.3" fill="#ecc48a" text-anchor="middle" textLength="24.00" lengthAdjust="spacingAndGlyphs">metagene</text>
<text x="312.50" y="293.20" font-size="6.3" fill="#ecc48a" text-anchor="middle">C2</text>
<line x1="411.90" y1="230.30" x2="413.20" y2="285.60" stroke="#231f20" stroke-width="0.9"/>
<line x1="409.40" y1="235.40" x2="412.40" y2="235.40" stroke="#231f20" stroke-width="0.7"/>
<text x="406.60" y="237.50" font-size="6.2" fill="#231f20" text-anchor="end" textLength="6.40" lengthAdjust="spacingAndGlyphs" stroke="#231f20" stroke-width="0.1">50</text>
<line x1="409.40" y1="246.50" x2="412.40" y2="246.50" stroke="#231f20" stroke-width="0.7"/>
<text x="406.60" y="248.60" font-size="6.2" fill="#231f20" text-anchor="end" textLength="6.40" lengthAdjust="spacingAndGlyphs" stroke="#231f20" stroke-width="0.1">40</text>
<line x1="409.40" y1="257.00" x2="412.40" y2="257.00" stroke="#231f20" stroke-width="0.7"/>
<text x="406.60" y="259.10" font-size="6.2" fill="#231f20" text-anchor="end" textLength="6.40" lengthAdjust="spacingAndGlyphs" stroke="#231f20" stroke-width="0.1">30</text>
<line x1="409.40" y1="266.80" x2="412.40" y2="266.80" stroke="#231f20" stroke-width="0.7"/>
<text x="406.60" y="268.90" font-size="6.2" fill="#231f20" text-anchor="end" textLength="6.40" lengthAdjust="spacingAndGlyphs" stroke="#231f20" stroke-width="0.1">20</text>
<line x1="409.40" y1="276.60" x2="412.40" y2="276.60" stroke="#231f20" stroke-width="0.7"/>
<text x="406.60" y="278.70" font-size="6.2" fill="#231f20" text-anchor="end" textLength="6.40" lengthAdjust="spacingAndGlyphs" stroke="#231f20" stroke-width="0.1">10</text>
<text x="402.80" y="287.20" font-size="6.2" fill="#231f20" stroke="#231f20" stroke-width="0.1">0</text>
<line x1="413.50" y1="285.50" x2="458.00" y2="308.80" stroke="#231f20" stroke-width="0.9"/>
<line x1="458.00" y1="308.80" x2="503.60" y2="287.60" stroke="#231f20" stroke-width="0.9"/>
<line x1="503.60" y1="287.60" x2="505.50" y2="230.80" stroke="#231f20" stroke-width="0.9"/>
<text x="406.60" y="293.50" font-size="6.2" fill="#231f20" text-anchor="middle" stroke="#231f20" stroke-width="0.1">0</text>
<text x="411.60" y="297.50" font-size="6.2" fill="#231f20" text-anchor="middle" stroke="#231f20" stroke-width="0.1">5</text>
<text x="418.20" y="301.50" font-size="6.2" fill="#231f20" text-anchor="middle" stroke="#231f20" stroke-width="0.1">10</text>
<text x="425.00" y="305.70" font-size="6.2" fill="#231f20" text-anchor="middle" stroke="#231f20" stroke-width="0.1">15</text>
<text x="432.60" y="309.50" font-size="6.2" fill="#231f20" text-anchor="middle" stroke="#231f20" stroke-width="0.1">20</text>
<text x="440.80" y="313.50" font-size="6.2" fill="#231f20" text-anchor="middle" stroke="#231f20" stroke-width="0.1">25</text>
<text x="449.00" y="316.90" font-size="6.2" fill="#231f20" text-anchor="middle" stroke="#231f20" stroke-width="0.1">30</text>
<line x1="419.86" y1="288.83" x2="418.06" y2="291.23" stroke="#231f20" stroke-width="0.6"/>
<line x1="426.21" y1="292.16" x2="424.41" y2="294.56" stroke="#231f20" stroke-width="0.6"/>
<line x1="432.57" y1="295.49" x2="430.77" y2="297.89" stroke="#231f20" stroke-width="0.6"/>
<line x1="438.93" y1="298.81" x2="437.13" y2="301.21" stroke="#231f20" stroke-width="0.6"/>
<line x1="445.29" y1="302.14" x2="443.49" y2="304.54" stroke="#231f20" stroke-width="0.6"/>
<line x1="451.64" y1="305.47" x2="449.84" y2="307.87" stroke="#231f20" stroke-width="0.6"/>
<text x="510.40" y="291.60" font-size="6.2" fill="#231f20" text-anchor="middle" stroke="#231f20" stroke-width="0.1">0</text>
<text x="503.60" y="297.10" font-size="6.2" fill="#231f20" text-anchor="middle" stroke="#231f20" stroke-width="0.1">10</text>
<text x="496.80" y="300.40" font-size="6.2" fill="#231f20" text-anchor="middle" stroke="#231f20" stroke-width="0.1">20</text>
<text x="488.20" y="304.50" font-size="6.2" fill="#231f20" text-anchor="middle" stroke="#231f20" stroke-width="0.1">30</text>
<text x="479.00" y="308.80" font-size="6.2" fill="#231f20" text-anchor="middle" stroke="#231f20" stroke-width="0.1">40</text>
<text x="471.60" y="313.10" font-size="6.2" fill="#231f20" text-anchor="middle" stroke="#231f20" stroke-width="0.1">50</text>
<line x1="496.00" y1="291.13" x2="497.80" y2="293.53" stroke="#231f20" stroke-width="0.6"/>
<line x1="488.40" y1="294.67" x2="490.20" y2="297.07" stroke="#231f20" stroke-width="0.6"/>
<line x1="480.80" y1="298.20" x2="482.60" y2="300.60" stroke="#231f20" stroke-width="0.6"/>
<line x1="473.20" y1="301.73" x2="475.00" y2="304.13" stroke="#231f20" stroke-width="0.6"/>
<line x1="465.60" y1="305.27" x2="467.40" y2="307.67" stroke="#231f20" stroke-width="0.6"/>
<line x1="449.00" y1="255.00" x2="448.00" y2="272.00" stroke="#777" stroke-width="0.4"/>
<line x1="440.00" y1="262.00" x2="446.00" y2="272.00" stroke="#777" stroke-width="0.4"/>
<line x1="438.00" y1="267.00" x2="444.00" y2="273.00" stroke="#777" stroke-width="0.4"/>
<line x1="440.00" y1="271.00" x2="443.00" y2="274.00" stroke="#777" stroke-width="0.4"/>
<line x1="428.00" y1="278.00" x2="416.00" y2="284.00" stroke="#777" stroke-width="0.4"/>
<line x1="478.00" y1="280.00" x2="497.00" y2="284.00" stroke="#777" stroke-width="0.4"/>
<line x1="489.00" y1="286.00" x2="498.00" y2="286.00" stroke="#777" stroke-width="0.4"/>
<line x1="487.00" y1="291.00" x2="499.00" y2="287.00" stroke="#777" stroke-width="0.4"/>
<line x1="492.00" y1="278.00" x2="499.00" y2="284.00" stroke="#777" stroke-width="0.4"/>
<circle cx="444.40" cy="274.20" r="2.0" fill="#f4c985" stroke="#9c7d55" stroke-width="0.5"/>
<circle cx="447.20" cy="273.60" r="2.0" fill="#f4c985" stroke="#9c7d55" stroke-width="0.5"/>
<circle cx="449.80" cy="273.00" r="2.0" fill="#f4c985" stroke="#9c7d55" stroke-width="0.5"/>
<circle cx="446.00" cy="275.50" r="2.0" fill="#f4c985" stroke="#9c7d55" stroke-width="0.5"/>
<circle cx="415.00" cy="285.00" r="2.0" fill="#f4c985" stroke="#9c7d55" stroke-width="0.5"/>
<circle cx="497.00" cy="284.50" r="2.0" fill="#a0a0a0" stroke="#555555" stroke-width="0.5"/>
<circle cx="500.00" cy="285.50" r="2.0" fill="#a0a0a0" stroke="#555555" stroke-width="0.5"/>
<circle cx="499.00" cy="283.00" r="2.0" fill="#a0a0a0" stroke="#555555" stroke-width="0.5"/>
<line x1="458.80" y1="270.40" x2="419.00" y2="283.50" stroke="#231f20" stroke-width="0.9"/>
<line x1="458.80" y1="270.40" x2="498.00" y2="285.50" stroke="#231f20" stroke-width="0.9"/>
<circle cx="459.20" cy="221.20" r="2.2" fill="#e1a332" stroke="#6e5222" stroke-width="0.6"/>
<circle cx="459.20" cy="228.10" r="2.2" fill="#e1a332" stroke="#6e5222" stroke-width="0.6"/>
<circle cx="459.20" cy="238.30" r="2.2" fill="#e1a332" stroke="#6e5222" stroke-width="0.6"/>
<circle cx="459.20" cy="240.30" r="2.2" fill="#e1a332" stroke="#6e5222" stroke-width="0.6"/>
<circle cx="459.20" cy="242.60" r="2.2" fill="#e1a332" stroke="#6e5222" stroke-width="0.6"/>
<circle cx="459.20" cy="245.70" r="2.2" fill="#e1a332" stroke="#6e5222" stroke-width="0.6"/>
<line x1="459.20" y1="270.40" x2="459.20" y2="226.00" stroke="#231f20" stroke-width="0.9"/>
<path d="M459.20 221.80L463.40 229.30L459.20 227.20L455.00 229.30Z" fill="#231f20"/>
<path d="M414.20 285.30L420.01 279.09L419.31 283.56L422.59 286.67Z" fill="#231f20"/>
<path d="M503.20 287.60L494.83 289.08L498.07 285.93L497.31 281.47Z" fill="#231f20"/>
<text x="464.80" y="223.30" font-size="5.6" fill="#231f20" stroke="#231f20" stroke-width="0.1">C1qa</text>
<text x="464.80" y="230.50" font-size="5.6" fill="#231f20" stroke="#231f20" stroke-width="0.1">Aif1</text>
<text x="464.80" y="237.10" font-size="5.6" fill="#231f20" font-style="italic" stroke="#231f20" stroke-width="0.1">Axl</text>
<text x="464.80" y="243.40" font-size="5.6" fill="#231f20" stroke="#231f20" stroke-width="0.1">Il18bp</text>
<text x="464.80" y="249.50" font-size="5.6" fill="#231f20" stroke="#231f20" stroke-width="0.1">Glul</text>
<text x="444.40" y="254.00" font-size="5.6" fill="#231f20" textLength="10.80" lengthAdjust="spacingAndGlyphs" font-style="italic" stroke="#231f20" stroke-width="0.1">Afl5c</text>
<text x="424.00" y="261.00" font-size="5.6" fill="#231f20" textLength="22.40" lengthAdjust="spacingAndGlyphs" stroke="#231f20" stroke-width="0.1">Gm43376</text>
<text x="424.90" y="268.20" font-size="5.6" fill="#231f20" textLength="13.50" lengthAdjust="spacingAndGlyphs" stroke="#231f20" stroke-width="0.1">Bace1</text>
<text x="424.00" y="272.90" font-size="5.6" fill="#231f20" textLength="16.40" lengthAdjust="spacingAndGlyphs" stroke="#231f20" stroke-width="0.1">Creld1</text>
<text x="416.80" y="277.60" font-size="5.6" fill="#231f20" textLength="14.40" lengthAdjust="spacingAndGlyphs" stroke="#231f20" stroke-width="0.1">Hspb1</text>
<text x="480.80" y="272.20" font-size="5.6" fill="#231f20" textLength="17.20" lengthAdjust="spacingAndGlyphs" stroke="#231f20" stroke-width="0.1">Rmdn2</text>
<text x="481.50" y="277.20" font-size="5.6" fill="#231f20" textLength="17.80" lengthAdjust="spacingAndGlyphs" font-style="italic" stroke="#231f20" stroke-width="0.1">Mettl22</text>
<text x="461.20" y="282.30" font-size="5.6" fill="#231f20" textLength="16.00" lengthAdjust="spacingAndGlyphs" stroke="#231f20" stroke-width="0.1">Plh1d2</text>
<text x="468.50" y="288.50" font-size="5.6" fill="#231f20" textLength="20.30" lengthAdjust="spacingAndGlyphs" stroke="#231f20" stroke-width="0.1">Tmem53</text>
<text x="472.20" y="292.50" font-size="5.6" fill="#231f20" textLength="14.80" lengthAdjust="spacingAndGlyphs" stroke="#231f20" stroke-width="0.1">Lcmt2</text>
<text x="440.00" y="235.00" font-size="6.0" fill="#d9a04a" text-anchor="middle" textLength="23.00" lengthAdjust="spacingAndGlyphs">metagene</text>
<text x="440.00" y="241.60" font-size="6.0" fill="#d9a04a" text-anchor="middle">C1</text>
<text x="487.00" y="258.20" font-size="6.0" fill="#9a9a9a" text-anchor="middle" textLength="23.00" lengthAdjust="spacingAndGlyphs">metagene</text>
<text x="487.00" y="264.60" font-size="6.0" fill="#9a9a9a" text-anchor="middle">C3</text>
<text x="441.00" y="287.30" font-size="6.0" fill="#ecc48a" text-anchor="middle" textLength="23.00" lengthAdjust="spacingAndGlyphs">metagene</text>
<text x="441.00" y="293.20" font-size="6.0" fill="#ecc48a" text-anchor="middle">C2</text>
<line x1="18.30" y1="366.30" x2="180.60" y2="366.30" stroke="#231f20" stroke-width="1.2"/>
<line x1="20.20" y1="369.20" x2="177.00" y2="369.20" stroke="#6a6a6a" stroke-width="0.9"/>
<rect x="22.70" y="370.80" width="151.90" height="9.00" fill="#d7a346"/>
<text x="98.20" y="377.40" font-size="6.6" fill="#2a2218" text-anchor="middle" textLength="36.90" lengthAdjust="spacingAndGlyphs" stroke="#2a2218" stroke-width="0.1">Metagene C1</text>
<text x="27.90" y="387.50" font-size="6.6" fill="#231f20" textLength="21.00" lengthAdjust="spacingAndGlyphs" stroke="#231f20" stroke-width="0.1">Symbol</text>
<text x="106.70" y="387.50" font-size="6.6" fill="#231f20" textLength="21.00" lengthAdjust="spacingAndGlyphs" stroke="#231f20" stroke-width="0.1">Symbol</text>
<text x="72.90" y="387.50" font-size="6.6" fill="#231f20" textLength="18.80" lengthAdjust="spacingAndGlyphs" stroke="#231f20" stroke-width="0.1">log<tspan font-size="4.6" dy="1.2">2</tspan><tspan dy="-1.2">FC</tspan></text>
<text x="149.60" y="387.50" font-size="6.6" fill="#231f20" textLength="18.80" lengthAdjust="spacingAndGlyphs" stroke="#231f20" stroke-width="0.1">log<tspan font-size="4.6" dy="1.2">2</tspan><tspan dy="-1.2">FC</tspan></text>
<line x1="22.70" y1="390.70" x2="174.60" y2="390.70" stroke="#555" stroke-width="1.2"/>
<text x="27.00" y="398.50" font-size="6.6" fill="#231f20" textLength="14.51" lengthAdjust="spacingAndGlyphs" stroke="#231f20" stroke-width="0.1">C1qa</text>
<text x="82.00" y="398.50" font-size="6.6" fill="#231f20" text-anchor="middle" textLength="11.60" lengthAdjust="spacingAndGlyphs" stroke="#231f20" stroke-width="0.1">5.03</text>
<text x="106.70" y="398.50" font-size="6.6" fill="#231f20" textLength="25.65" lengthAdjust="spacingAndGlyphs" stroke="#231f20" stroke-width="0.1">Fam213b</text>
<text x="159.00" y="398.50" font-size="6.6" fill="#231f20" text-anchor="middle" textLength="12.00" lengthAdjust="spacingAndGlyphs" stroke="#231f20" stroke-width="0.1">2.49</text>
<text x="27.00" y="409.21" font-size="6.6" fill="#231f20" textLength="10.46" lengthAdjust="spacingAndGlyphs" stroke="#231f20" stroke-width="0.1">Aif1</text>
<text x="82.00" y="409.21" font-size="6.6" fill="#231f20" text-anchor="middle" textLength="11.60" lengthAdjust="spacingAndGlyphs" stroke="#231f20" stroke-width="0.1">4.87</text>
<text x="106.70" y="409.21" font-size="6.6" fill="#231f20" textLength="21.94" lengthAdjust="spacingAndGlyphs" stroke="#231f20" stroke-width="0.1">Slc43a2</text>
<text x="159.00" y="409.21" font-size="6.6" fill="#231f20" text-anchor="middle" textLength="12.00" lengthAdjust="spacingAndGlyphs" stroke="#231f20" stroke-width="0.1">3.55</text>
<text x="27.00" y="419.92" font-size="6.6" fill="#231f20" textLength="8.44" lengthAdjust="spacingAndGlyphs" stroke="#231f20" stroke-width="0.1">Axl</text>
<text x="82.00" y="419.92" font-size="6.6" fill="#231f20" text-anchor="middle" textLength="11.60" lengthAdjust="spacingAndGlyphs" stroke="#231f20" stroke-width="0.1">4.53</text>
<text x="106.70" y="419.92" font-size="6.6" fill="#231f20" textLength="11.48" lengthAdjust="spacingAndGlyphs" stroke="#231f20" stroke-width="0.1">Ifi44</text>
<text x="159.00" y="419.92" font-size="6.6" fill="#231f20" text-anchor="middle" textLength="12.00" lengthAdjust="spacingAndGlyphs" stroke="#231f20" stroke-width="0.1">4.12</text>
<text x="27.00" y="430.63" font-size="6.6" fill="#231f20" textLength="16.54" lengthAdjust="spacingAndGlyphs" stroke="#231f20" stroke-width="0.1">Il18bp</text>
<text x="82.00" y="430.63" font-size="6.6" fill="#231f20" text-anchor="middle" textLength="11.60" lengthAdjust="spacingAndGlyphs" stroke="#231f20" stroke-width="0.1">5.02</text>
<text x="106.70" y="430.63" font-size="6.6" fill="#231f20" textLength="18.23" lengthAdjust="spacingAndGlyphs" stroke="#231f20" stroke-width="0.1">Gng10</text>
<text x="159.00" y="430.63" font-size="6.6" fill="#231f20" text-anchor="middle" textLength="12.00" lengthAdjust="spacingAndGlyphs" stroke="#231f20" stroke-width="0.1">3.68</text>
<text x="27.00" y="441.34" font-size="6.6" fill="#231f20" textLength="10.80" lengthAdjust="spacingAndGlyphs" stroke="#231f20" stroke-width="0.1">Glul</text>
<text x="82.00" y="441.34" font-size="6.6" fill="#231f20" text-anchor="middle" textLength="11.60" lengthAdjust="spacingAndGlyphs" stroke="#231f20" stroke-width="0.1">4.32</text>
<text x="106.70" y="441.34" font-size="6.6" fill="#231f20" textLength="18.56" lengthAdjust="spacingAndGlyphs" stroke="#231f20" stroke-width="0.1">Cxcl16</text>
<text x="159.00" y="441.34" font-size="6.6" fill="#231f20" text-anchor="middle" textLength="12.00" lengthAdjust="spacingAndGlyphs" stroke="#231f20" stroke-width="0.1">3.28</text>
<text x="27.00" y="452.05" font-size="6.6" fill="#231f20" textLength="18.56" lengthAdjust="spacingAndGlyphs" stroke="#231f20" stroke-width="0.1">Mpeg1</text>
<text x="82.00" y="452.05" font-size="6.6" fill="#231f20" text-anchor="middle" textLength="11.60" lengthAdjust="spacingAndGlyphs" stroke="#231f20" stroke-width="0.1">3.76</text>
<text x="106.70" y="452.05" font-size="6.6" fill="#231f20" textLength="20.92" lengthAdjust="spacingAndGlyphs" stroke="#231f20" stroke-width="0.1">Ptprcap</text>
<text x="159.00" y="452.05" font-size="6.6" fill="#231f20" text-anchor="middle" textLength="12.00" lengthAdjust="spacingAndGlyphs" stroke="#231f20" stroke-width="0.1">3.18</text>
<text x="27.00" y="462.76" font-size="6.6" fill="#231f20" textLength="20.59" lengthAdjust="spacingAndGlyphs" stroke="#231f20" stroke-width="0.1">H2-Eb1</text>
<text x="82.00" y="462.76" font-size="6.6" fill="#231f20" text-anchor="middle" textLength="11.60" lengthAdjust="spacingAndGlyphs" stroke="#231f20" stroke-width="0.1">4.14</text>
<text x="106.70" y="462.76" font-size="6.6" fill="#231f20" textLength="17.22" lengthAdjust="spacingAndGlyphs" stroke="#231f20" stroke-width="0.1">Anxa2</text>
<text x="159.00" y="462.76" font-size="6.6" fill="#231f20" text-anchor="middle" textLength="12.00" lengthAdjust="spacingAndGlyphs" stroke="#231f20" stroke-width="0.1">4.69</text>
<text x="27.00" y="473.47" font-size="6.6" fill="#231f20" textLength="16.54" lengthAdjust="spacingAndGlyphs" stroke="#231f20" stroke-width="0.1">Nr1h3</text>
<text x="82.00" y="473.47" font-size="6.6" fill="#231f20" text-anchor="middle" textLength="11.60" lengthAdjust="spacingAndGlyphs" stroke="#231f20" stroke-width="0.1">3.93</text>
<text x="106.70" y="473.47" font-size="6.6" fill="#231f20" textLength="14.17" lengthAdjust="spacingAndGlyphs" stroke="#231f20" stroke-width="0.1">Rgs2</text>
<text x="159.00" y="473.47" font-size="6.6" fill="#231f20" text-anchor="middle" textLength="12.00" lengthAdjust="spacingAndGlyphs" stroke="#231f20" stroke-width="0.1">3.74</text>
<text x="27.00" y="484.18" font-size="6.6" fill="#231f20" textLength="14.85" lengthAdjust="spacingAndGlyphs" stroke="#231f20" stroke-width="0.1">Lilrb4</text>
<text x="82.00" y="484.18" font-size="6.6" fill="#231f20" text-anchor="middle" textLength="11.60" lengthAdjust="spacingAndGlyphs" stroke="#231f20" stroke-width="0.1">4.68</text>
<text x="106.70" y="484.18" font-size="6.6" fill="#231f20" textLength="18.90" lengthAdjust="spacingAndGlyphs" stroke="#231f20" stroke-width="0.1">Tmed3</text>
<text x="159.00" y="484.18" font-size="6.6" fill="#231f20" text-anchor="middle" textLength="12.00" lengthAdjust="spacingAndGlyphs" stroke="#231f20" stroke-width="0.1">4.06</text>
<text x="27.00" y="494.89" font-size="6.6" fill="#231f20" textLength="13.84" lengthAdjust="spacingAndGlyphs" stroke="#231f20" stroke-width="0.1">Sdc3</text>
<text x="82.00" y="494.89" font-size="6.6" fill="#231f20" text-anchor="middle" textLength="11.60" lengthAdjust="spacingAndGlyphs" stroke="#231f20" stroke-width="0.1">3.86</text>
<text x="106.70" y="494.89" font-size="6.6" fill="#231f20" textLength="12.49" lengthAdjust="spacingAndGlyphs" stroke="#231f20" stroke-width="0.1">Iglll1</text>
<text x="159.00" y="494.89" font-size="6.6" fill="#231f20" text-anchor="middle" textLength="12.00" lengthAdjust="spacingAndGlyphs" stroke="#231f20" stroke-width="0.1">4.61</text>
<text x="27.00" y="505.60" font-size="6.6" fill="#231f20" textLength="15.52" lengthAdjust="spacingAndGlyphs" stroke="#231f20" stroke-width="0.1">Fcgr3</text>
<text x="82.00" y="505.60" font-size="6.6" fill="#231f20" text-anchor="middle" textLength="11.60" lengthAdjust="spacingAndGlyphs" stroke="#231f20" stroke-width="0.1">2.54</text>
<text x="106.70" y="505.60" font-size="6.6" fill="#231f20" textLength="14.51" lengthAdjust="spacingAndGlyphs" stroke="#231f20" stroke-width="0.1">Hpgd</text>
<text x="159.00" y="505.60" font-size="6.6" fill="#231f20" text-anchor="middle" textLength="12.00" lengthAdjust="spacingAndGlyphs" stroke="#231f20" stroke-width="0.1">3.51</text>
<text x="27.00" y="516.31" font-size="6.6" fill="#231f20" textLength="17.89" lengthAdjust="spacingAndGlyphs" stroke="#231f20" stroke-width="0.1">Oas1a</text>
<text x="82.00" y="516.31" font-size="6.6" fill="#231f20" text-anchor="middle" textLength="11.60" lengthAdjust="spacingAndGlyphs" stroke="#231f20" stroke-width="0.1">5.07</text>
<text x="106.70" y="516.31" font-size="6.6" fill="#231f20" textLength="16.20" lengthAdjust="spacingAndGlyphs" stroke="#231f20" stroke-width="0.1">Glipr1</text>
<text x="159.00" y="516.31" font-size="6.6" fill="#231f20" text-anchor="middle" textLength="12.00" lengthAdjust="spacingAndGlyphs" stroke="#231f20" stroke-width="0.1">4.25</text>
<text x="27.00" y="527.02" font-size="6.6" fill="#231f20" textLength="9.79" lengthAdjust="spacingAndGlyphs" stroke="#231f20" stroke-width="0.1">Ifit2</text>
<text x="82.00" y="527.02" font-size="6.6" fill="#231f20" text-anchor="middle" textLength="11.60" lengthAdjust="spacingAndGlyphs" stroke="#231f20" stroke-width="0.1">4.63</text>
<text x="106.70" y="527.02" font-size="6.6" fill="#231f20" textLength="11.14" lengthAdjust="spacingAndGlyphs" stroke="#231f20" stroke-width="0.1">Cd4</text>
<text x="159.00" y="527.02" font-size="6.6" fill="#231f20" text-anchor="middle" textLength="12.00" lengthAdjust="spacingAndGlyphs" stroke="#231f20" stroke-width="0.1">2.63</text>
<text x="27.00" y="537.73" font-size="6.6" fill="#231f20" textLength="12.94" lengthAdjust="spacingAndGlyphs" stroke="#231f20" stroke-width="0.1">Ly6a</text>
<text x="82.00" y="537.73" font-size="6.6" fill="#231f20" text-anchor="middle" textLength="11.60" lengthAdjust="spacingAndGlyphs" stroke="#231f20" stroke-width="0.1">5.37</text>
<text x="106.70" y="537.73" font-size="6.6" fill="#231f20" textLength="14.51" lengthAdjust="spacingAndGlyphs" stroke="#231f20" stroke-width="0.1">Cd84</text>
<text x="159.00" y="537.73" font-size="6.6" fill="#231f20" text-anchor="middle" textLength="12.00" lengthAdjust="spacingAndGlyphs" stroke="#231f20" stroke-width="0.1">3.57</text>
<text x="27.00" y="548.44" font-size="6.6" fill="#231f20" textLength="12.94" lengthAdjust="spacingAndGlyphs" stroke="#231f20" stroke-width="0.1">Ly86</text>
<text x="82.00" y="548.44" font-size="6.6" fill="#231f20" text-anchor="middle" textLength="11.60" lengthAdjust="spacingAndGlyphs" stroke="#231f20" stroke-width="0.1">4.42</text>
<text x="106.70" y="548.44" font-size="6.6" fill="#231f20" textLength="14.85" lengthAdjust="spacingAndGlyphs" stroke="#231f20" stroke-width="0.1">Gbp2</text>
<text x="159.00" y="548.44" font-size="6.6" fill="#231f20" text-anchor="middle" textLength="12.00" lengthAdjust="spacingAndGlyphs" stroke="#231f20" stroke-width="0.1">4.06</text>
<text x="27.00" y="559.15" font-size="6.6" fill="#231f20" textLength="21.94" lengthAdjust="spacingAndGlyphs" stroke="#231f20" stroke-width="0.1">Bcl2a1b</text>
<text x="82.00" y="559.15" font-size="6.6" fill="#231f20" text-anchor="middle" textLength="11.60" lengthAdjust="spacingAndGlyphs" stroke="#231f20" stroke-width="0.1">4.65</text>
<text x="106.70" y="559.15" font-size="6.6" fill="#231f20" textLength="27.91" lengthAdjust="spacingAndGlyphs" stroke="#231f20" stroke-width="0.1">AB124611</text>
<text x="159.00" y="559.15" font-size="6.6" fill="#231f20" text-anchor="middle" textLength="12.00" lengthAdjust="spacingAndGlyphs" stroke="#231f20" stroke-width="0.1">3.19</text>
<text x="27.00" y="569.86" font-size="6.6" fill="#231f20" textLength="14.51" lengthAdjust="spacingAndGlyphs" stroke="#231f20" stroke-width="0.1">Cd19</text>
<text x="82.00" y="569.86" font-size="6.6" fill="#231f20" text-anchor="middle" textLength="11.60" lengthAdjust="spacingAndGlyphs" stroke="#231f20" stroke-width="0.1">5.57</text>
<text x="106.70" y="569.86" font-size="6.6" fill="#231f20" textLength="21.94" lengthAdjust="spacingAndGlyphs" stroke="#231f20" stroke-width="0.1">Slc44a2</text>
<text x="159.00" y="569.86" font-size="6.6" fill="#231f20" text-anchor="middle" textLength="12.00" lengthAdjust="spacingAndGlyphs" stroke="#231f20" stroke-width="0.1">3.23</text>
<text x="27.00" y="580.57" font-size="6.6" fill="#231f20" textLength="23.29" lengthAdjust="spacingAndGlyphs" stroke="#231f20" stroke-width="0.1">Gm4955</text>
<text x="82.00" y="580.57" font-size="6.6" fill="#231f20" text-anchor="middle" textLength="11.60" lengthAdjust="spacingAndGlyphs" stroke="#231f20" stroke-width="0.1">4.58</text>
<text x="106.70" y="580.57" font-size="6.6" fill="#231f20" textLength="20.59" lengthAdjust="spacingAndGlyphs" stroke="#231f20" stroke-width="0.1">Samd9l</text>
<text x="159.00" y="580.57" font-size="6.6" fill="#231f20" text-anchor="middle" textLength="12.00" lengthAdjust="spacingAndGlyphs" stroke="#231f20" stroke-width="0.1">3.05</text>
<text x="27.00" y="591.28" font-size="6.6" fill="#231f20" textLength="17.89" lengthAdjust="spacingAndGlyphs" stroke="#231f20" stroke-width="0.1">Hebp1</text>
<text x="82.00" y="591.28" font-size="6.6" fill="#231f20" text-anchor="middle" textLength="11.60" lengthAdjust="spacingAndGlyphs" stroke="#231f20" stroke-width="0.1">2.67</text>
<text x="106.70" y="591.28" font-size="6.6" fill="#231f20" textLength="17.89" lengthAdjust="spacingAndGlyphs" stroke="#231f20" stroke-width="0.1">Oas1g</text>
<text x="159.00" y="591.28" font-size="6.6" fill="#231f20" text-anchor="middle" textLength="12.00" lengthAdjust="spacingAndGlyphs" stroke="#231f20" stroke-width="0.1">3.19</text>
<text x="27.00" y="601.99" font-size="6.6" fill="#231f20" textLength="14.17" lengthAdjust="spacingAndGlyphs" stroke="#231f20" stroke-width="0.1">Sirpa</text>
<text x="82.00" y="601.99" font-size="6.6" fill="#231f20" text-anchor="middle" textLength="11.60" lengthAdjust="spacingAndGlyphs" stroke="#231f20" stroke-width="0.1">3.72</text>
<text x="106.70" y="601.99" font-size="6.6" fill="#231f20" textLength="15.52" lengthAdjust="spacingAndGlyphs" stroke="#231f20" stroke-width="0.1">Fcgr1</text>
<text x="159.00" y="601.99" font-size="6.6" fill="#231f20" text-anchor="middle" textLength="12.00" lengthAdjust="spacingAndGlyphs" stroke="#231f20" stroke-width="0.1">3.10</text>
<text x="27.00" y="612.70" font-size="6.6" fill="#231f20" textLength="13.84" lengthAdjust="spacingAndGlyphs" stroke="#231f20" stroke-width="0.1">Slfn2</text>
<text x="82.00" y="612.70" font-size="6.6" fill="#231f20" text-anchor="middle" textLength="11.60" lengthAdjust="spacingAndGlyphs" stroke="#231f20" stroke-width="0.1">4.66</text>
<text x="106.70" y="612.70" font-size="6.6" fill="#231f20" textLength="22.28" lengthAdjust="spacingAndGlyphs" stroke="#231f20" stroke-width="0.1">Pla2g15</text>
<text x="159.00" y="612.70" font-size="6.6" fill="#231f20" text-anchor="middle" textLength="12.00" lengthAdjust="spacingAndGlyphs" stroke="#231f20" stroke-width="0.1">3.54</text>
<text x="27.00" y="623.41" font-size="6.6" fill="#231f20" textLength="20.25" lengthAdjust="spacingAndGlyphs" stroke="#231f20" stroke-width="0.1">Tnfaip2</text>
<text x="82.00" y="623.41" font-size="6.6" fill="#231f20" text-anchor="middle" textLength="11.60" lengthAdjust="spacingAndGlyphs" stroke="#231f20" stroke-width="0.1">2.89</text>
<text x="106.70" y="623.41" font-size="6.6" fill="#231f20" textLength="9.90" lengthAdjust="spacingAndGlyphs" stroke="#231f20" stroke-width="0.1">Tifa</text>
<text x="159.00" y="623.41" font-size="6.6" fill="#231f20" text-anchor="middle" textLength="12.00" lengthAdjust="spacingAndGlyphs" stroke="#231f20" stroke-width="0.1">3.34</text>
<text x="27.00" y="634.12" font-size="6.6" fill="#231f20" textLength="19.58" lengthAdjust="spacingAndGlyphs" stroke="#231f20" stroke-width="0.1">Vpreb3</text>
<text x="82.00" y="634.12" font-size="6.6" fill="#231f20" text-anchor="middle" textLength="11.60" lengthAdjust="spacingAndGlyphs" stroke="#231f20" stroke-width="0.1">4.95</text>
<text x="106.70" y="634.12" font-size="6.6" fill="#231f20" textLength="19.24" lengthAdjust="spacingAndGlyphs" stroke="#231f20" stroke-width="0.1">Pmp22</text>
<text x="159.00" y="634.12" font-size="6.6" fill="#231f20" text-anchor="middle" textLength="12.00" lengthAdjust="spacingAndGlyphs" stroke="#231f20" stroke-width="0.1">4.14</text>
<text x="27.00" y="644.83" font-size="6.6" fill="#231f20" textLength="13.17" lengthAdjust="spacingAndGlyphs" stroke="#231f20" stroke-width="0.1">Iigp1</text>
<text x="82.00" y="644.83" font-size="6.6" fill="#231f20" text-anchor="middle" textLength="11.60" lengthAdjust="spacingAndGlyphs" stroke="#231f20" stroke-width="0.1">4.12</text>
<text x="106.70" y="644.83" font-size="6.6" fill="#231f20" textLength="16.88" lengthAdjust="spacingAndGlyphs" stroke="#231f20" stroke-width="0.1">Abcc3</text>
<text x="159.00" y="644.83" font-size="6.6" fill="#231f20" text-anchor="middle" textLength="12.00" lengthAdjust="spacingAndGlyphs" stroke="#231f20" stroke-width="0.1">3.39</text>
<text x="27.00" y="655.54" font-size="6.6" fill="#231f20" textLength="15.86" lengthAdjust="spacingAndGlyphs" stroke="#231f20" stroke-width="0.1">Oasl2</text>
<text x="82.00" y="655.54" font-size="6.6" fill="#231f20" text-anchor="middle" textLength="11.60" lengthAdjust="spacingAndGlyphs" stroke="#231f20" stroke-width="0.1">3.86</text>
<text x="106.70" y="655.54" font-size="6.6" fill="#231f20" textLength="24.31" lengthAdjust="spacingAndGlyphs" stroke="#231f20" stroke-width="0.1">S100a10</text>
<text x="159.00" y="655.54" font-size="6.6" fill="#231f20" text-anchor="middle" textLength="12.00" lengthAdjust="spacingAndGlyphs" stroke="#231f20" stroke-width="0.1">4.09</text>
<line x1="20.50" y1="659.80" x2="177.10" y2="659.80" stroke="#6a6a6a" stroke-width="1.2"/>
<line x1="17.90" y1="662.70" x2="180.90" y2="662.70" stroke="#231f20" stroke-width="1.2"/>
<rect x="206.20" y="365.80" width="261.30" height="259.20" fill="#efebeb"/>
<path d="M336.9 494.6L343.9 619.6M336.9 494.6L330.4 619.9M336.9 494.6L316.9 618.8M336.9 494.6L303.7 616.1M336.9 494.6L290.7 612.1M336.9 494.6L278.3 606.7M336.9 494.6L266.6 599.9M336.9 494.6L255.6 592.0M336.9 494.6L245.6 582.9M336.9 494.6L236.6 572.8M336.9 494.6L228.8 561.7M336.9 494.6L222.2 549.9M336.9 494.6L216.9 537.4M336.9 494.6L213.0 524.5M336.9 494.6L210.6 511.2M336.9 494.6L209.5 497.7M336.9 494.6L210.0 484.2M336.9 494.6L211.9 470.8M336.9 494.6L215.2 457.6M336.9 494.6L220.0 445.0M336.9 494.6L226.0 432.9M336.9 494.6L233.4 421.5M336.9 494.6L241.9 411.0M336.9 494.6L251.6 401.5M336.9 494.6L262.1 393.1M336.9 494.6L273.6 385.8M336.9 494.6L285.8 379.9M336.9 494.6L298.5 375.3M336.9 494.6L311.6 372.1M336.9 494.6L325.1 370.4M336.9 494.6L338.6 370.1M336.9 494.6L352.1 371.2M336.9 494.6L365.3 373.9M336.9 494.6L378.3 377.9M336.9 494.6L390.7 383.3M336.9 494.6L402.4 390.1M336.9 494.6L413.4 398.0M336.9 494.6L423.4 407.1M336.9 494.6L432.4 417.2M336.9 494.6L440.2 428.3M336.9 494.6L446.8 440.1M336.9 494.6L452.1 452.6M336.9 494.6L456.0 465.5M336.9 494.6L458.4 478.8M336.9 494.6L459.5 492.3M336.9 494.6L459.0 505.8M336.9 494.6L457.1 519.2M336.9 494.6L453.8 532.4M336.9 494.6L449.0 545.0M336.9 494.6L443.0 557.1M336.9 494.6L435.6 568.5M336.9 494.6L427.1 579.0M336.9 494.6L417.4 588.5M336.9 494.6L406.9 596.9M336.9 494.6L395.4 604.2M336.9 494.6L383.2 610.1M336.9 494.6L370.5 614.7M336.9 494.6L357.4 617.9M336.9 494.6L225.6 463.9M336.9 494.6L230.2 451.1M336.9 494.6L236.2 438.8M336.9 494.6L243.7 427.4M336.9 494.6L252.5 416.9M336.9 494.6L262.6 407.6M336.9 494.6L273.6 399.6M336.9 494.6L285.6 392.9M336.9 494.6L298.2 387.8M336.9 494.6L311.4 384.2M336.9 494.6L324.9 382.2M336.9 494.6L338.6 381.9M336.9 494.6L352.2 383.2M336.9 494.6L365.6 386.1M336.9 494.6L378.4 390.7M336.9 494.6L390.7 396.7M336.9 494.6L402.1 404.2M336.9 494.6L412.6 413.0M336.9 494.6L421.9 423.1M336.9 494.6L429.9 434.1M336.9 494.6L436.6 446.1M336.9 494.6L441.7 458.7M336.9 494.6L445.3 471.9M336.9 494.6L447.3 485.4M336.9 494.6L447.6 499.1M336.9 494.6L446.3 512.7M336.9 494.6L443.4 526.1M336.9 494.6L438.8 538.9M336.9 494.6L432.8 551.2M336.9 494.6L425.3 562.6M336.9 494.6L416.5 573.1M336.9 494.6L406.4 582.4M336.9 494.6L395.4 590.4M336.9 494.6L383.4 597.1M336.9 494.6L370.8 602.2M336.9 494.6L357.6 605.8M336.9 494.6L344.1 607.8M336.9 494.6L330.4 608.1M336.9 494.6L316.8 606.8M336.9 494.6L303.4 603.9M336.9 494.6L290.6 599.3M336.9 494.6L278.3 593.3M336.9 494.6L266.9 585.8M336.9 494.6L256.4 577.0M336.9 494.6L247.1 566.9M336.9 494.6L239.1 555.9M336.9 494.6L232.4 543.9M336.9 494.6L227.3 531.3M336.9 494.6L223.7 518.1M336.9 494.6L221.7 504.6M336.9 494.6L221.4 490.9M336.9 494.6L222.7 477.3M336.9 494.6L265.1 568.9M336.9 494.6L255.9 559.0M336.9 494.6L248.0 548.0M336.9 494.6L241.7 536.0M336.9 494.6L237.1 523.3M336.9 494.6L234.2 510.0M336.9 494.6L233.1 496.5M336.9 494.6L233.8 483.0M336.9 494.6L236.3 469.7M336.9 494.6L240.6 456.8M336.9 494.6L246.5 444.6M336.9 494.6L254.0 433.4M336.9 494.6L262.9 423.2M336.9 494.6L273.1 414.3M336.9 494.6L284.4 406.8M336.9 494.6L296.6 400.9M336.9 494.6L309.5 396.7M336.9 494.6L322.8 394.3M336.9 494.6L336.4 393.6M336.9 494.6L349.9 394.8M336.9 494.6L363.1 397.7M336.9 494.6L375.8 402.4M336.9 494.6L387.8 408.7M336.9 494.6L398.8 416.6M336.9 494.6L408.7 425.9M336.9 494.6L417.2 436.4M336.9 494.6L424.3 447.9M336.9 494.6L429.8 460.3M336.9 494.6L433.6 473.3M336.9 494.6L435.6 486.7M336.9 494.6L435.8 500.3M336.9 494.6L434.2 513.7M336.9 494.6L430.8 526.8M336.9 494.6L425.7 539.4M336.9 494.6L418.9 551.1M336.9 494.6L410.7 561.9M336.9 494.6L401.1 571.4M336.9 494.6L390.3 579.6M336.9 494.6L378.6 586.3M336.9 494.6L366.0 591.4M336.9 494.6L352.9 594.7M336.9 494.6L339.4 596.3M336.9 494.6L325.9 596.0M336.9 494.6L312.5 594.0M336.9 494.6L299.5 590.2M336.9 494.6L287.1 584.6M336.9 494.6L275.6 577.5M336.9 494.6L263.3 440.6M336.9 494.6L272.5 430.3M336.9 494.6L283.1 421.6M336.9 494.6L294.9 414.6M336.9 494.6L307.6 409.5M336.9 494.6L321.0 406.4M336.9 494.6L334.6 405.4M336.9 494.6L348.3 406.5M336.9 494.6L361.7 409.6M336.9 494.6L374.4 414.8M336.9 494.6L386.2 421.8M336.9 494.6L396.7 430.5M336.9 494.6L405.8 440.8M336.9 494.6L413.3 452.3M336.9 494.6L418.9 464.9M336.9 494.6L422.5 478.1M336.9 494.6L424.0 491.7M336.9 494.6L423.5 505.4M336.9 494.6L420.9 518.9M336.9 494.6L416.2 531.8M336.9 494.6L409.6 543.8M336.9 494.6L401.3 554.7M336.9 494.6L391.4 564.2M336.9 494.6L380.2 572.1M336.9 494.6L367.9 578.2M336.9 494.6L354.8 582.3M336.9 494.6L341.2 584.3M336.9 494.6L327.5 584.3M336.9 494.6L313.9 582.2M336.9 494.6L300.9 578.0M336.9 494.6L288.6 571.9M336.9 494.6L277.4 564.0M336.9 494.6L267.5 554.5M336.9 494.6L259.2 543.6M336.9 494.6L252.7 531.5M336.9 494.6L248.1 518.6M336.9 494.6L245.5 505.1M336.9 494.6L245.0 491.4M336.9 494.6L246.6 477.8M336.9 494.6L250.2 464.6M336.9 494.6L255.9 452.1M336.9 494.6L279.7 439.7M336.9 494.6L290.2 431.1M336.9 494.6L301.9 424.3M336.9 494.6L314.7 419.8M336.9 494.6L328.1 417.5M336.9 494.6L341.6 417.5M336.9 494.6L355.0 419.9M336.9 494.6L367.7 424.6M336.9 494.6L379.4 431.5M336.9 494.6L389.8 440.2M336.9 494.6L398.4 450.7M336.9 494.6L405.2 462.4M336.9 494.6L409.7 475.2M336.9 494.6L412.0 488.6M336.9 494.6L412.0 502.1M336.9 494.6L409.6 515.5M336.9 494.6L404.9 528.2M336.9 494.6L398.0 539.9M336.9 494.6L389.3 550.3M336.9 494.6L378.8 558.9M336.9 494.6L367.1 565.7M336.9 494.6L354.3 570.2M336.9 494.6L340.9 572.5M336.9 494.6L327.4 572.5M336.9 494.6L314.0 570.1M336.9 494.6L301.3 565.4M336.9 494.6L289.6 558.5M336.9 494.6L279.2 549.8M336.9 494.6L270.6 539.3M336.9 494.6L263.8 527.6M336.9 494.6L259.3 514.8M336.9 494.6L257.0 501.4M336.9 494.6L257.0 487.9M336.9 494.6L259.4 474.5M336.9 494.6L264.1 461.8M336.9 494.6L271.0 450.1M336.9 494.6L395.0 521.4M336.9 494.6L388.2 533.4M336.9 494.6L379.0 543.7M336.9 494.6L367.9 551.9M336.9 494.6L355.3 557.6M336.9 494.6L341.9 560.6M336.9 494.6L328.1 560.7M336.9 494.6L314.6 557.9M336.9 494.6L301.9 552.4M336.9 494.6L290.7 544.4M336.9 494.6L281.4 534.2M336.9 494.6L274.4 522.3M336.9 494.6L270.0 509.2M336.9 494.6L268.5 495.5M336.9 494.6L269.8 481.7M336.9 494.6L274.0 468.6M336.9 494.6L280.8 456.6M336.9 494.6L290.0 446.3M336.9 494.6L301.1 438.1M336.9 494.6L313.7 432.4M336.9 494.6L327.1 429.4M336.9 494.6L340.9 429.3M336.9 494.6L354.4 432.1M336.9 494.6L367.1 437.6M336.9 494.6L378.3 445.6M336.9 494.6L387.6 455.8M336.9 494.6L394.6 467.7M336.9 494.6L399.0 480.8M336.9 494.6L400.5 494.5M336.9 494.6L399.2 508.3M336.9 494.6L388.5 499.5M336.9 494.6L385.7 512.8M336.9 494.6L379.7 524.9M336.9 494.6L370.8 535.2M336.9 494.6L359.7 543.0M336.9 494.6L346.9 547.8M336.9 494.6L333.4 549.2M336.9 494.6L320.0 547.2M336.9 494.6L307.4 542.0M336.9 494.6L296.6 533.8M336.9 494.6L288.2 523.1M336.9 494.6L282.6 510.7M336.9 494.6L280.3 497.3M336.9 494.6L281.5 483.8M336.9 494.6L285.9 471.0M336.9 494.6L293.4 459.6M336.9 494.6L303.5 450.5M336.9 494.6L315.6 444.2M336.9 494.6L328.8 441.1M336.9 494.6L342.4 441.4M336.9 494.6L355.5 445.0M336.9 494.6L367.2 451.8M336.9 494.6L376.9 461.3M336.9 494.6L384.0 472.9M336.9 494.6L387.9 485.9M336.9 494.6L356.6 458.8M336.9 494.6L367.2 468.0M336.9 494.6L374.2 480.1M336.9 494.6L376.9 493.8M336.9 494.6L358.7 529.8M336.9 494.6L346.1 535.8M336.9 494.6L332.2 537.3M336.9 494.6L318.6 534.3M336.9 494.6L306.7 527.0M336.9 494.6L297.8 516.3M336.9 494.6L292.9 503.2M336.9 494.6L292.5 489.2M336.9 494.6L296.6 475.9M336.9 494.6L304.9 464.7M336.9 494.6L316.3 456.7M336.9 494.6L329.8 452.9M336.9 494.6L343.7 453.6M336.9 494.6L332.7 525.5M336.9 494.6L319.6 521.7M336.9 494.6L309.5 512.6M336.9 494.6L304.3 500.0M336.9 494.6L305.1 486.5M336.9 494.6L311.7 474.5M336.9 494.6L322.9 466.7M336.9 494.6L336.3 464.5M336.9 494.6L349.4 468.3M336.9 494.6L359.5 477.4M336.9 494.6L364.7 490.0M336.9 494.6L363.9 503.5M336.9 494.6L357.3 515.5M336.9 494.6L346.1 523.3M336.9 494.6L336.3 513.7M336.9 494.6L322.6 509.5M336.9 494.6L315.8 496.8M336.9 494.6L320.0 483.1M336.9 494.6L332.7 476.3M336.9 494.6L346.4 480.5M336.9 494.6L353.2 493.2M336.9 494.6L349.0 506.9" stroke="#e6e2c0" stroke-width="0.45" stroke-opacity="0.6" fill="none"/>
<path d="M376.2 515.4L458.4 478.8M376.2 515.4L459.5 492.3M376.2 515.4L459.0 505.8M376.2 515.4L457.1 519.2M376.2 515.4L453.8 532.4M376.2 515.4L449.0 545.0M376.2 515.4L443.0 557.1M376.2 515.4L435.6 568.5M376.2 515.4L427.1 579.0M376.2 515.4L417.4 588.5M376.2 515.4L406.9 596.9M376.2 515.4L395.4 604.2M376.2 515.4L441.7 458.7M376.2 515.4L445.3 471.9M376.2 515.4L447.3 485.4M376.2 515.4L447.6 499.1M376.2 515.4L446.3 512.7M376.2 515.4L443.4 526.1M376.2 515.4L438.8 538.9M376.2 515.4L432.8 551.2M376.2 515.4L425.3 562.6M376.2 515.4L416.5 573.1M376.2 515.4L406.4 582.4M376.2 515.4L395.4 590.4M376.2 515.4L383.4 597.1M376.2 515.4L370.8 602.2M376.2 515.4L357.6 605.8M376.2 515.4L417.2 436.4M376.2 515.4L424.3 447.9M376.2 515.4L429.8 460.3M376.2 515.4L433.6 473.3M376.2 515.4L435.6 486.7M376.2 515.4L435.8 500.3M376.2 515.4L434.2 513.7M376.2 515.4L430.8 526.8M376.2 515.4L425.7 539.4M376.2 515.4L418.9 551.1M376.2 515.4L410.7 561.9M376.2 515.4L401.1 571.4M376.2 515.4L390.3 579.6M376.2 515.4L378.6 586.3M376.2 515.4L366.0 591.4M376.2 515.4L352.9 594.7M376.2 515.4L339.4 596.3M376.2 515.4L396.7 430.5M376.2 515.4L405.8 440.8M376.2 515.4L413.3 452.3M376.2 515.4L418.9 464.9M376.2 515.4L422.5 478.1M376.2 515.4L424.0 491.7M376.2 515.4L423.5 505.4M376.2 515.4L420.9 518.9M376.2 515.4L416.2 531.8M376.2 515.4L409.6 543.8M376.2 515.4L401.3 554.7M376.2 515.4L391.4 564.2M376.2 515.4L380.2 572.1M376.2 515.4L367.9 578.2M376.2 515.4L354.8 582.3M376.2 515.4L341.2 584.3M376.2 515.4L327.5 584.3M376.2 515.4L313.9 582.2M376.2 515.4L367.7 424.6M376.2 515.4L379.4 431.5M376.2 515.4L389.8 440.2M376.2 515.4L398.4 450.7M376.2 515.4L405.2 462.4M376.2 515.4L409.7 475.2M376.2 515.4L412.0 488.6M376.2 515.4L412.0 502.1M376.2 515.4L409.6 515.5M376.2 515.4L404.9 528.2M376.2 515.4L398.0 539.9M376.2 515.4L389.3 550.3M376.2 515.4L378.8 558.9M376.2 515.4L367.1 565.7M376.2 515.4L354.3 570.2M376.2 515.4L340.9 572.5M376.2 515.4L327.4 572.5M376.2 515.4L314.0 570.1M376.2 515.4L301.3 565.4M376.2 515.4L395.0 521.4M376.2 515.4L388.2 533.4M376.2 515.4L379.0 543.7M376.2 515.4L367.9 551.9M376.2 515.4L355.3 557.6M376.2 515.4L341.9 560.6M376.2 515.4L328.1 560.7M376.2 515.4L314.6 557.9M376.2 515.4L301.9 552.4M376.2 515.4L290.7 544.4M376.2 515.4L340.9 429.3M376.2 515.4L354.4 432.1M376.2 515.4L367.1 437.6M376.2 515.4L378.3 445.6M376.2 515.4L387.6 455.8M376.2 515.4L394.6 467.7M376.2 515.4L399.0 480.8M376.2 515.4L400.5 494.5M376.2 515.4L399.2 508.3M376.2 515.4L388.5 499.5M376.2 515.4L385.7 512.8M376.2 515.4L379.7 524.9M376.2 515.4L370.8 535.2M376.2 515.4L359.7 543.0M376.2 515.4L346.9 547.8M376.2 515.4L333.4 549.2M376.2 515.4L320.0 547.2M376.2 515.4L307.4 542.0M376.2 515.4L296.6 533.8M376.2 515.4L288.2 523.1M376.2 515.4L282.6 510.7M376.2 515.4L315.6 444.2M376.2 515.4L328.8 441.1M376.2 515.4L342.4 441.4M376.2 515.4L355.5 445.0M376.2 515.4L367.2 451.8M376.2 515.4L376.9 461.3M376.2 515.4L384.0 472.9M376.2 515.4L387.9 485.9M376.2 515.4L356.6 458.8M376.2 515.4L367.2 468.0M376.2 515.4L374.2 480.1M376.2 515.4L376.9 493.8M376.2 515.4L358.7 529.8M376.2 515.4L346.1 535.8M376.2 515.4L332.2 537.3M376.2 515.4L318.6 534.3M376.2 515.4L306.7 527.0M376.2 515.4L297.8 516.3M376.2 515.4L292.9 503.2M376.2 515.4L292.5 489.2M376.2 515.4L296.6 475.9M376.2 515.4L304.9 464.7M376.2 515.4L316.3 456.7M376.2 515.4L329.8 452.9M376.2 515.4L343.7 453.6M376.2 515.4L332.7 525.5M376.2 515.4L319.6 521.7M376.2 515.4L309.5 512.6M376.2 515.4L304.3 500.0M376.2 515.4L305.1 486.5M376.2 515.4L311.7 474.5M376.2 515.4L322.9 466.7M376.2 515.4L336.3 464.5M376.2 515.4L349.4 468.3M376.2 515.4L359.5 477.4M376.2 515.4L364.7 490.0M376.2 515.4L363.9 503.5M376.2 515.4L357.3 515.5M376.2 515.4L346.1 523.3M376.2 515.4L336.3 513.7M376.2 515.4L322.6 509.5M376.2 515.4L315.8 496.8M376.2 515.4L320.0 483.1M376.2 515.4L332.7 476.3M376.2 515.4L346.4 480.5M376.2 515.4L353.2 493.2M376.2 515.4L349.0 506.9" stroke="#e6e2c0" stroke-width="0.45" stroke-opacity="0.6" fill="none"/>
<path d="M339.9 619.6a4.0 4.0 0 1 0 8.0 0a4.0 4.0 0 1 0 -8.0 0M326.4 619.9a4.0 4.0 0 1 0 8.0 0a4.0 4.0 0 1 0 -8.0 0M312.9 618.8a4.0 4.0 0 1 0 8.0 0a4.0 4.0 0 1 0 -8.0 0M299.7 616.1a4.0 4.0 0 1 0 8.0 0a4.0 4.0 0 1 0 -8.0 0M286.7 612.1a4.0 4.0 0 1 0 8.0 0a4.0 4.0 0 1 0 -8.0 0M274.3 606.7a4.0 4.0 0 1 0 8.0 0a4.0 4.0 0 1 0 -8.0 0M262.6 599.9a4.0 4.0 0 1 0 8.0 0a4.0 4.0 0 1 0 -8.0 0M251.6 592.0a4.0 4.0 0 1 0 8.0 0a4.0 4.0 0 1 0 -8.0 0M241.6 582.9a4.0 4.0 0 1 0 8.0 0a4.0 4.0 0 1 0 -8.0 0M232.6 572.8a4.0 4.0 0 1 0 8.0 0a4.0 4.0 0 1 0 -8.0 0M224.8 561.7a4.0 4.0 0 1 0 8.0 0a4.0 4.0 0 1 0 -8.0 0M218.2 549.9a4.0 4.0 0 1 0 8.0 0a4.0 4.0 0 1 0 -8.0 0M212.9 537.4a4.0 4.0 0 1 0 8.0 0a4.0 4.0 0 1 0 -8.0 0M209.0 524.5a4.0 4.0 0 1 0 8.0 0a4.0 4.0 0 1 0 -8.0 0M206.6 511.2a4.0 4.0 0 1 0 8.0 0a4.0 4.0 0 1 0 -8.0 0M205.5 497.7a4.0 4.0 0 1 0 8.0 0a4.0 4.0 0 1 0 -8.0 0M206.0 484.2a4.0 4.0 0 1 0 8.0 0a4.0 4.0 0 1 0 -8.0 0M207.9 470.8a4.0 4.0 0 1 0 8.0 0a4.0 4.0 0 1 0 -8.0 0M211.2 457.6a4.0 4.0 0 1 0 8.0 0a4.0 4.0 0 1 0 -8.0 0M216.0 445.0a4.0 4.0 0 1 0 8.0 0a4.0 4.0 0 1 0 -8.0 0M222.0 432.9a4.0 4.0 0 1 0 8.0 0a4.0 4.0 0 1 0 -8.0 0M229.4 421.5a4.0 4.0 0 1 0 8.0 0a4.0 4.0 0 1 0 -8.0 0M237.9 411.0a4.0 4.0 0 1 0 8.0 0a4.0 4.0 0 1 0 -8.0 0M247.6 401.5a4.0 4.0 0 1 0 8.0 0a4.0 4.0 0 1 0 -8.0 0M258.1 393.1a4.0 4.0 0 1 0 8.0 0a4.0 4.0 0 1 0 -8.0 0M269.6 385.8a4.0 4.0 0 1 0 8.0 0a4.0 4.0 0 1 0 -8.0 0M281.8 379.9a4.0 4.0 0 1 0 8.0 0a4.0 4.0 0 1 0 -8.0 0M294.5 375.3a4.0 4.0 0 1 0 8.0 0a4.0 4.0 0 1 0 -8.0 0M307.6 372.1a4.0 4.0 0 1 0 8.0 0a4.0 4.0 0 1 0 -8.0 0M321.1 370.4a4.0 4.0 0 1 0 8.0 0a4.0 4.0 0 1 0 -8.0 0M334.6 370.1a4.0 4.0 0 1 0 8.0 0a4.0 4.0 0 1 0 -8.0 0M348.1 371.2a4.0 4.0 0 1 0 8.0 0a4.0 4.0 0 1 0 -8.0 0M361.3 373.9a4.0 4.0 0 1 0 8.0 0a4.0 4.0 0 1 0 -8.0 0M374.3 377.9a4.0 4.0 0 1 0 8.0 0a4.0 4.0 0 1 0 -8.0 0M386.7 383.3a4.0 4.0 0 1 0 8.0 0a4.0 4.0 0 1 0 -8.0 0M398.4 390.1a4.0 4.0 0 1 0 8.0 0a4.0 4.0 0 1 0 -8.0 0M409.4 398.0a4.0 4.0 0 1 0 8.0 0a4.0 4.0 0 1 0 -8.0 0M419.4 407.1a4.0 4.0 0 1 0 8.0 0a4.0 4.0 0 1 0 -8.0 0M428.4 417.2a4.0 4.0 0 1 0 8.0 0a4.0 4.0 0 1 0 -8.0 0M436.2 428.3a4.0 4.0 0 1 0 8.0 0a4.0 4.0 0 1 0 -8.0 0M442.8 440.1a4.0 4.0 0 1 0 8.0 0a4.0 4.0 0 1 0 -8.0 0M448.1 452.6a4.0 4.0 0 1 0 8.0 0a4.0 4.0 0 1 0 -8.0 0M452.0 465.5a4.0 4.0 0 1 0 8.0 0a4.0 4.0 0 1 0 -8.0 0M454.4 478.8a4.0 4.0 0 1 0 8.0 0a4.0 4.0 0 1 0 -8.0 0M455.5 492.3a4.0 4.0 0 1 0 8.0 0a4.0 4.0 0 1 0 -8.0 0M455.0 505.8a4.0 4.0 0 1 0 8.0 0a4.0 4.0 0 1 0 -8.0 0M453.1 519.2a4.0 4.0 0 1 0 8.0 0a4.0 4.0 0 1 0 -8.0 0M449.8 532.4a4.0 4.0 0 1 0 8.0 0a4.0 4.0 0 1 0 -8.0 0M445.0 545.0a4.0 4.0 0 1 0 8.0 0a4.0 4.0 0 1 0 -8.0 0M439.0 557.1a4.0 4.0 0 1 0 8.0 0a4.0 4.0 0 1 0 -8.0 0M431.6 568.5a4.0 4.0 0 1 0 8.0 0a4.0 4.0 0 1 0 -8.0 0M423.1 579.0a4.0 4.0 0 1 0 8.0 0a4.0 4.0 0 1 0 -8.0 0M413.4 588.5a4.0 4.0 0 1 0 8.0 0a4.0 4.0 0 1 0 -8.0 0M402.9 596.9a4.0 4.0 0 1 0 8.0 0a4.0 4.0 0 1 0 -8.0 0M391.4 604.2a4.0 4.0 0 1 0 8.0 0a4.0 4.0 0 1 0 -8.0 0M379.2 610.1a4.0 4.0 0 1 0 8.0 0a4.0 4.0 0 1 0 -8.0 0M366.5 614.7a4.0 4.0 0 1 0 8.0 0a4.0 4.0 0 1 0 -8.0 0M353.4 617.9a4.0 4.0 0 1 0 8.0 0a4.0 4.0 0 1 0 -8.0 0M221.6 463.9a4.0 4.0 0 1 0 8.0 0a4.0 4.0 0 1 0 -8.0 0M226.2 451.1a4.0 4.0 0 1 0 8.0 0a4.0 4.0 0 1 0 -8.0 0M232.2 438.8a4.0 4.0 0 1 0 8.0 0a4.0 4.0 0 1 0 -8.0 0M239.7 427.4a4.0 4.0 0 1 0 8.0 0a4.0 4.0 0 1 0 -8.0 0M248.5 416.9a4.0 4.0 0 1 0 8.0 0a4.0 4.0 0 1 0 -8.0 0M258.6 407.6a4.0 4.0 0 1 0 8.0 0a4.0 4.0 0 1 0 -8.0 0M269.6 399.6a4.0 4.0 0 1 0 8.0 0a4.0 4.0 0 1 0 -8.0 0M281.6 392.9a4.0 4.0 0 1 0 8.0 0a4.0 4.0 0 1 0 -8.0 0M294.2 387.8a4.0 4.0 0 1 0 8.0 0a4.0 4.0 0 1 0 -8.0 0M307.4 384.2a4.0 4.0 0 1 0 8.0 0a4.0 4.0 0 1 0 -8.0 0M320.9 382.2a4.0 4.0 0 1 0 8.0 0a4.0 4.0 0 1 0 -8.0 0M334.6 381.9a4.0 4.0 0 1 0 8.0 0a4.0 4.0 0 1 0 -8.0 0M348.2 383.2a4.0 4.0 0 1 0 8.0 0a4.0 4.0 0 1 0 -8.0 0M361.6 386.1a4.0 4.0 0 1 0 8.0 0a4.0 4.0 0 1 0 -8.0 0M374.4 390.7a4.0 4.0 0 1 0 8.0 0a4.0 4.0 0 1 0 -8.0 0M386.7 396.7a4.0 4.0 0 1 0 8.0 0a4.0 4.0 0 1 0 -8.0 0M398.1 404.2a4.0 4.0 0 1 0 8.0 0a4.0 4.0 0 1 0 -8.0 0M408.6 413.0a4.0 4.0 0 1 0 8.0 0a4.0 4.0 0 1 0 -8.0 0M417.9 423.1a4.0 4.0 0 1 0 8.0 0a4.0 4.0 0 1 0 -8.0 0M425.9 434.1a4.0 4.0 0 1 0 8.0 0a4.0 4.0 0 1 0 -8.0 0M432.6 446.1a4.0 4.0 0 1 0 8.0 0a4.0 4.0 0 1 0 -8.0 0M437.7 458.7a4.0 4.0 0 1 0 8.0 0a4.0 4.0 0 1 0 -8.0 0M441.3 471.9a4.0 4.0 0 1 0 8.0 0a4.0 4.0 0 1 0 -8.0 0M443.3 485.4a4.0 4.0 0 1 0 8.0 0a4.0 4.0 0 1 0 -8.0 0M443.6 499.1a4.0 4.0 0 1 0 8.0 0a4.0 4.0 0 1 0 -8.0 0M442.3 512.7a4.0 4.0 0 1 0 8.0 0a4.0 4.0 0 1 0 -8.0 0M439.4 526.1a4.0 4.0 0 1 0 8.0 0a4.0 4.0 0 1 0 -8.0 0M434.8 538.9a4.0 4.0 0 1 0 8.0 0a4.0 4.0 0 1 0 -8.0 0M428.8 551.2a4.0 4.0 0 1 0 8.0 0a4.0 4.0 0 1 0 -8.0 0M421.3 562.6a4.0 4.0 0 1 0 8.0 0a4.0 4.0 0 1 0 -8.0 0M412.5 573.1a4.0 4.0 0 1 0 8.0 0a4.0 4.0 0 1 0 -8.0 0M402.4 582.4a4.0 4.0 0 1 0 8.0 0a4.0 4.0 0 1 0 -8.0 0M391.4 590.4a4.0 4.0 0 1 0 8.0 0a4.0 4.0 0 1 0 -8.0 0M379.4 597.1a4.0 4.0 0 1 0 8.0 0a4.0 4.0 0 1 0 -8.0 0M366.8 602.2a4.0 4.0 0 1 0 8.0 0a4.0 4.0 0 1 0 -8.0 0M353.6 605.8a4.0 4.0 0 1 0 8.0 0a4.0 4.0 0 1 0 -8.0 0M340.1 607.8a4.0 4.0 0 1 0 8.0 0a4.0 4.0 0 1 0 -8.0 0M326.4 608.1a4.0 4.0 0 1 0 8.0 0a4.0 4.0 0 1 0 -8.0 0M312.8 606.8a4.0 4.0 0 1 0 8.0 0a4.0 4.0 0 1 0 -8.0 0M299.4 603.9a4.0 4.0 0 1 0 8.0 0a4.0 4.0 0 1 0 -8.0 0M286.6 599.3a4.0 4.0 0 1 0 8.0 0a4.0 4.0 0 1 0 -8.0 0M274.3 593.3a4.0 4.0 0 1 0 8.0 0a4.0 4.0 0 1 0 -8.0 0M262.9 585.8a4.0 4.0 0 1 0 8.0 0a4.0 4.0 0 1 0 -8.0 0M252.4 577.0a4.0 4.0 0 1 0 8.0 0a4.0 4.0 0 1 0 -8.0 0M243.1 566.9a4.0 4.0 0 1 0 8.0 0a4.0 4.0 0 1 0 -8.0 0M235.1 555.9a4.0 4.0 0 1 0 8.0 0a4.0 4.0 0 1 0 -8.0 0M228.4 543.9a4.0 4.0 0 1 0 8.0 0a4.0 4.0 0 1 0 -8.0 0M223.3 531.3a4.0 4.0 0 1 0 8.0 0a4.0 4.0 0 1 0 -8.0 0M219.7 518.1a4.0 4.0 0 1 0 8.0 0a4.0 4.0 0 1 0 -8.0 0M217.7 504.6a4.0 4.0 0 1 0 8.0 0a4.0 4.0 0 1 0 -8.0 0M217.4 490.9a4.0 4.0 0 1 0 8.0 0a4.0 4.0 0 1 0 -8.0 0M218.7 477.3a4.0 4.0 0 1 0 8.0 0a4.0 4.0 0 1 0 -8.0 0M261.1 568.9a4.0 4.0 0 1 0 8.0 0a4.0 4.0 0 1 0 -8.0 0M251.9 559.0a4.0 4.0 0 1 0 8.0 0a4.0 4.0 0 1 0 -8.0 0M244.0 548.0a4.0 4.0 0 1 0 8.0 0a4.0 4.0 0 1 0 -8.0 0M237.7 536.0a4.0 4.0 0 1 0 8.0 0a4.0 4.0 0 1 0 -8.0 0M233.1 523.3a4.0 4.0 0 1 0 8.0 0a4.0 4.0 0 1 0 -8.0 0M230.2 510.0a4.0 4.0 0 1 0 8.0 0a4.0 4.0 0 1 0 -8.0 0M229.1 496.5a4.0 4.0 0 1 0 8.0 0a4.0 4.0 0 1 0 -8.0 0M229.8 483.0a4.0 4.0 0 1 0 8.0 0a4.0 4.0 0 1 0 -8.0 0M232.3 469.7a4.0 4.0 0 1 0 8.0 0a4.0 4.0 0 1 0 -8.0 0M236.6 456.8a4.0 4.0 0 1 0 8.0 0a4.0 4.0 0 1 0 -8.0 0M242.5 444.6a4.0 4.0 0 1 0 8.0 0a4.0 4.0 0 1 0 -8.0 0M250.0 433.4a4.0 4.0 0 1 0 8.0 0a4.0 4.0 0 1 0 -8.0 0M258.9 423.2a4.0 4.0 0 1 0 8.0 0a4.0 4.0 0 1 0 -8.0 0M269.1 414.3a4.0 4.0 0 1 0 8.0 0a4.0 4.0 0 1 0 -8.0 0M280.4 406.8a4.0 4.0 0 1 0 8.0 0a4.0 4.0 0 1 0 -8.0 0M292.6 400.9a4.0 4.0 0 1 0 8.0 0a4.0 4.0 0 1 0 -8.0 0M305.5 396.7a4.0 4.0 0 1 0 8.0 0a4.0 4.0 0 1 0 -8.0 0M318.8 394.3a4.0 4.0 0 1 0 8.0 0a4.0 4.0 0 1 0 -8.0 0M332.4 393.6a4.0 4.0 0 1 0 8.0 0a4.0 4.0 0 1 0 -8.0 0M345.9 394.8a4.0 4.0 0 1 0 8.0 0a4.0 4.0 0 1 0 -8.0 0M359.1 397.7a4.0 4.0 0 1 0 8.0 0a4.0 4.0 0 1 0 -8.0 0M371.8 402.4a4.0 4.0 0 1 0 8.0 0a4.0 4.0 0 1 0 -8.0 0M383.8 408.7a4.0 4.0 0 1 0 8.0 0a4.0 4.0 0 1 0 -8.0 0M394.8 416.6a4.0 4.0 0 1 0 8.0 0a4.0 4.0 0 1 0 -8.0 0M404.7 425.9a4.0 4.0 0 1 0 8.0 0a4.0 4.0 0 1 0 -8.0 0M413.2 436.4a4.0 4.0 0 1 0 8.0 0a4.0 4.0 0 1 0 -8.0 0M420.3 447.9a4.0 4.0 0 1 0 8.0 0a4.0 4.0 0 1 0 -8.0 0M425.8 460.3a4.0 4.0 0 1 0 8.0 0a4.0 4.0 0 1 0 -8.0 0M429.6 473.3a4.0 4.0 0 1 0 8.0 0a4.0 4.0 0 1 0 -8.0 0M431.6 486.7a4.0 4.0 0 1 0 8.0 0a4.0 4.0 0 1 0 -8.0 0M431.8 500.3a4.0 4.0 0 1 0 8.0 0a4.0 4.0 0 1 0 -8.0 0M430.2 513.7a4.0 4.0 0 1 0 8.0 0a4.0 4.0 0 1 0 -8.0 0M426.8 526.8a4.0 4.0 0 1 0 8.0 0a4.0 4.0 0 1 0 -8.0 0M421.7 539.4a4.0 4.0 0 1 0 8.0 0a4.0 4.0 0 1 0 -8.0 0M414.9 551.1a4.0 4.0 0 1 0 8.0 0a4.0 4.0 0 1 0 -8.0 0M406.7 561.9a4.0 4.0 0 1 0 8.0 0a4.0 4.0 0 1 0 -8.0 0M397.1 571.4a4.0 4.0 0 1 0 8.0 0a4.0 4.0 0 1 0 -8.0 0M386.3 579.6a4.0 4.0 0 1 0 8.0 0a4.0 4.0 0 1 0 -8.0 0M374.6 586.3a4.0 4.0 0 1 0 8.0 0a4.0 4.0 0 1 0 -8.0 0M362.0 591.4a4.0 4.0 0 1 0 8.0 0a4.0 4.0 0 1 0 -8.0 0M348.9 594.7a4.0 4.0 0 1 0 8.0 0a4.0 4.0 0 1 0 -8.0 0M335.4 596.3a4.0 4.0 0 1 0 8.0 0a4.0 4.0 0 1 0 -8.0 0M321.9 596.0a4.0 4.0 0 1 0 8.0 0a4.0 4.0 0 1 0 -8.0 0M308.5 594.0a4.0 4.0 0 1 0 8.0 0a4.0 4.0 0 1 0 -8.0 0M295.5 590.2a4.0 4.0 0 1 0 8.0 0a4.0 4.0 0 1 0 -8.0 0M283.1 584.6a4.0 4.0 0 1 0 8.0 0a4.0 4.0 0 1 0 -8.0 0M271.6 577.5a4.0 4.0 0 1 0 8.0 0a4.0 4.0 0 1 0 -8.0 0M259.3 440.6a4.0 4.0 0 1 0 8.0 0a4.0 4.0 0 1 0 -8.0 0M268.5 430.3a4.0 4.0 0 1 0 8.0 0a4.0 4.0 0 1 0 -8.0 0M279.1 421.6a4.0 4.0 0 1 0 8.0 0a4.0 4.0 0 1 0 -8.0 0M290.9 414.6a4.0 4.0 0 1 0 8.0 0a4.0 4.0 0 1 0 -8.0 0M303.6 409.5a4.0 4.0 0 1 0 8.0 0a4.0 4.0 0 1 0 -8.0 0M317.0 406.4a4.0 4.0 0 1 0 8.0 0a4.0 4.0 0 1 0 -8.0 0M330.6 405.4a4.0 4.0 0 1 0 8.0 0a4.0 4.0 0 1 0 -8.0 0M344.3 406.5a4.0 4.0 0 1 0 8.0 0a4.0 4.0 0 1 0 -8.0 0M357.7 409.6a4.0 4.0 0 1 0 8.0 0a4.0 4.0 0 1 0 -8.0 0M370.4 414.8a4.0 4.0 0 1 0 8.0 0a4.0 4.0 0 1 0 -8.0 0M382.2 421.8a4.0 4.0 0 1 0 8.0 0a4.0 4.0 0 1 0 -8.0 0M392.7 430.5a4.0 4.0 0 1 0 8.0 0a4.0 4.0 0 1 0 -8.0 0M401.8 440.8a4.0 4.0 0 1 0 8.0 0a4.0 4.0 0 1 0 -8.0 0M409.3 452.3a4.0 4.0 0 1 0 8.0 0a4.0 4.0 0 1 0 -8.0 0M414.9 464.9a4.0 4.0 0 1 0 8.0 0a4.0 4.0 0 1 0 -8.0 0M418.5 478.1a4.0 4.0 0 1 0 8.0 0a4.0 4.0 0 1 0 -8.0 0M420.0 491.7a4.0 4.0 0 1 0 8.0 0a4.0 4.0 0 1 0 -8.0 0M419.5 505.4a4.0 4.0 0 1 0 8.0 0a4.0 4.0 0 1 0 -8.0 0M416.9 518.9a4.0 4.0 0 1 0 8.0 0a4.0 4.0 0 1 0 -8.0 0M412.2 531.8a4.0 4.0 0 1 0 8.0 0a4.0 4.0 0 1 0 -8.0 0M405.6 543.8a4.0 4.0 0 1 0 8.0 0a4.0 4.0 0 1 0 -8.0 0M397.3 554.7a4.0 4.0 0 1 0 8.0 0a4.0 4.0 0 1 0 -8.0 0M387.4 564.2a4.0 4.0 0 1 0 8.0 0a4.0 4.0 0 1 0 -8.0 0M376.2 572.1a4.0 4.0 0 1 0 8.0 0a4.0 4.0 0 1 0 -8.0 0M363.9 578.2a4.0 4.0 0 1 0 8.0 0a4.0 4.0 0 1 0 -8.0 0M350.8 582.3a4.0 4.0 0 1 0 8.0 0a4.0 4.0 0 1 0 -8.0 0M337.2 584.3a4.0 4.0 0 1 0 8.0 0a4.0 4.0 0 1 0 -8.0 0M323.5 584.3a4.0 4.0 0 1 0 8.0 0a4.0 4.0 0 1 0 -8.0 0M309.9 582.2a4.0 4.0 0 1 0 8.0 0a4.0 4.0 0 1 0 -8.0 0M296.9 578.0a4.0 4.0 0 1 0 8.0 0a4.0 4.0 0 1 0 -8.0 0M284.6 571.9a4.0 4.0 0 1 0 8.0 0a4.0 4.0 0 1 0 -8.0 0M273.4 564.0a4.0 4.0 0 1 0 8.0 0a4.0 4.0 0 1 0 -8.0 0M263.5 554.5a4.0 4.0 0 1 0 8.0 0a4.0 4.0 0 1 0 -8.0 0M255.2 543.6a4.0 4.0 0 1 0 8.0 0a4.0 4.0 0 1 0 -8.0 0M248.7 531.5a4.0 4.0 0 1 0 8.0 0a4.0 4.0 0 1 0 -8.0 0M244.1 518.6a4.0 4.0 0 1 0 8.0 0a4.0 4.0 0 1 0 -8.0 0M241.5 505.1a4.0 4.0 0 1 0 8.0 0a4.0 4.0 0 1 0 -8.0 0M241.0 491.4a4.0 4.0 0 1 0 8.0 0a4.0 4.0 0 1 0 -8.0 0M242.6 477.8a4.0 4.0 0 1 0 8.0 0a4.0 4.0 0 1 0 -8.0 0M246.2 464.6a4.0 4.0 0 1 0 8.0 0a4.0 4.0 0 1 0 -8.0 0M251.9 452.1a4.0 4.0 0 1 0 8.0 0a4.0 4.0 0 1 0 -8.0 0M275.7 439.7a4.0 4.0 0 1 0 8.0 0a4.0 4.0 0 1 0 -8.0 0M286.2 431.1a4.0 4.0 0 1 0 8.0 0a4.0 4.0 0 1 0 -8.0 0M297.9 424.3a4.0 4.0 0 1 0 8.0 0a4.0 4.0 0 1 0 -8.0 0M310.7 419.8a4.0 4.0 0 1 0 8.0 0a4.0 4.0 0 1 0 -8.0 0M324.1 417.5a4.0 4.0 0 1 0 8.0 0a4.0 4.0 0 1 0 -8.0 0M337.6 417.5a4.0 4.0 0 1 0 8.0 0a4.0 4.0 0 1 0 -8.0 0M351.0 419.9a4.0 4.0 0 1 0 8.0 0a4.0 4.0 0 1 0 -8.0 0M363.7 424.6a4.0 4.0 0 1 0 8.0 0a4.0 4.0 0 1 0 -8.0 0M375.4 431.5a4.0 4.0 0 1 0 8.0 0a4.0 4.0 0 1 0 -8.0 0M385.8 440.2a4.0 4.0 0 1 0 8.0 0a4.0 4.0 0 1 0 -8.0 0M394.4 450.7a4.0 4.0 0 1 0 8.0 0a4.0 4.0 0 1 0 -8.0 0M401.2 462.4a4.0 4.0 0 1 0 8.0 0a4.0 4.0 0 1 0 -8.0 0M405.7 475.2a4.0 4.0 0 1 0 8.0 0a4.0 4.0 0 1 0 -8.0 0M408.0 488.6a4.0 4.0 0 1 0 8.0 0a4.0 4.0 0 1 0 -8.0 0M408.0 502.1a4.0 4.0 0 1 0 8.0 0a4.0 4.0 0 1 0 -8.0 0M405.6 515.5a4.0 4.0 0 1 0 8.0 0a4.0 4.0 0 1 0 -8.0 0M400.9 528.2a4.0 4.0 0 1 0 8.0 0a4.0 4.0 0 1 0 -8.0 0M394.0 539.9a4.0 4.0 0 1 0 8.0 0a4.0 4.0 0 1 0 -8.0 0M385.3 550.3a4.0 4.0 0 1 0 8.0 0a4.0 4.0 0 1 0 -8.0 0M374.8 558.9a4.0 4.0 0 1 0 8.0 0a4.0 4.0 0 1 0 -8.0 0M363.1 565.7a4.0 4.0 0 1 0 8.0 0a4.0 4.0 0 1 0 -8.0 0M350.3 570.2a4.0 4.0 0 1 0 8.0 0a4.0 4.0 0 1 0 -8.0 0M336.9 572.5a4.0 4.0 0 1 0 8.0 0a4.0 4.0 0 1 0 -8.0 0M323.4 572.5a4.0 4.0 0 1 0 8.0 0a4.0 4.0 0 1 0 -8.0 0M310.0 570.1a4.0 4.0 0 1 0 8.0 0a4.0 4.0 0 1 0 -8.0 0M297.3 565.4a4.0 4.0 0 1 0 8.0 0a4.0 4.0 0 1 0 -8.0 0M285.6 558.5a4.0 4.0 0 1 0 8.0 0a4.0 4.0 0 1 0 -8.0 0M275.2 549.8a4.0 4.0 0 1 0 8.0 0a4.0 4.0 0 1 0 -8.0 0M266.6 539.3a4.0 4.0 0 1 0 8.0 0a4.0 4.0 0 1 0 -8.0 0M259.8 527.6a4.0 4.0 0 1 0 8.0 0a4.0 4.0 0 1 0 -8.0 0M255.3 514.8a4.0 4.0 0 1 0 8.0 0a4.0 4.0 0 1 0 -8.0 0M253.0 501.4a4.0 4.0 0 1 0 8.0 0a4.0 4.0 0 1 0 -8.0 0M253.0 487.9a4.0 4.0 0 1 0 8.0 0a4.0 4.0 0 1 0 -8.0 0M255.4 474.5a4.0 4.0 0 1 0 8.0 0a4.0 4.0 0 1 0 -8.0 0M260.1 461.8a4.0 4.0 0 1 0 8.0 0a4.0 4.0 0 1 0 -8.0 0M267.0 450.1a4.0 4.0 0 1 0 8.0 0a4.0 4.0 0 1 0 -8.0 0M391.0 521.4a4.0 4.0 0 1 0 8.0 0a4.0 4.0 0 1 0 -8.0 0M384.2 533.4a4.0 4.0 0 1 0 8.0 0a4.0 4.0 0 1 0 -8.0 0M375.0 543.7a4.0 4.0 0 1 0 8.0 0a4.0 4.0 0 1 0 -8.0 0M363.9 551.9a4.0 4.0 0 1 0 8.0 0a4.0 4.0 0 1 0 -8.0 0M351.3 557.6a4.0 4.0 0 1 0 8.0 0a4.0 4.0 0 1 0 -8.0 0M337.9 560.6a4.0 4.0 0 1 0 8.0 0a4.0 4.0 0 1 0 -8.0 0M324.1 560.7a4.0 4.0 0 1 0 8.0 0a4.0 4.0 0 1 0 -8.0 0M310.6 557.9a4.0 4.0 0 1 0 8.0 0a4.0 4.0 0 1 0 -8.0 0M297.9 552.4a4.0 4.0 0 1 0 8.0 0a4.0 4.0 0 1 0 -8.0 0M286.7 544.4a4.0 4.0 0 1 0 8.0 0a4.0 4.0 0 1 0 -8.0 0M277.4 534.2a4.0 4.0 0 1 0 8.0 0a4.0 4.0 0 1 0 -8.0 0M270.4 522.3a4.0 4.0 0 1 0 8.0 0a4.0 4.0 0 1 0 -8.0 0M266.0 509.2a4.0 4.0 0 1 0 8.0 0a4.0 4.0 0 1 0 -8.0 0M264.5 495.5a4.0 4.0 0 1 0 8.0 0a4.0 4.0 0 1 0 -8.0 0M265.8 481.7a4.0 4.0 0 1 0 8.0 0a4.0 4.0 0 1 0 -8.0 0M270.0 468.6a4.0 4.0 0 1 0 8.0 0a4.0 4.0 0 1 0 -8.0 0M276.8 456.6a4.0 4.0 0 1 0 8.0 0a4.0 4.0 0 1 0 -8.0 0M286.0 446.3a4.0 4.0 0 1 0 8.0 0a4.0 4.0 0 1 0 -8.0 0M297.1 438.1a4.0 4.0 0 1 0 8.0 0a4.0 4.0 0 1 0 -8.0 0M309.7 432.4a4.0 4.0 0 1 0 8.0 0a4.0 4.0 0 1 0 -8.0 0M323.1 429.4a4.0 4.0 0 1 0 8.0 0a4.0 4.0 0 1 0 -8.0 0M336.9 429.3a4.0 4.0 0 1 0 8.0 0a4.0 4.0 0 1 0 -8.0 0M350.4 432.1a4.0 4.0 0 1 0 8.0 0a4.0 4.0 0 1 0 -8.0 0M363.1 437.6a4.0 4.0 0 1 0 8.0 0a4.0 4.0 0 1 0 -8.0 0M374.3 445.6a4.0 4.0 0 1 0 8.0 0a4.0 4.0 0 1 0 -8.0 0M383.6 455.8a4.0 4.0 0 1 0 8.0 0a4.0 4.0 0 1 0 -8.0 0M390.6 467.7a4.0 4.0 0 1 0 8.0 0a4.0 4.0 0 1 0 -8.0 0M395.0 480.8a4.0 4.0 0 1 0 8.0 0a4.0 4.0 0 1 0 -8.0 0M396.5 494.5a4.0 4.0 0 1 0 8.0 0a4.0 4.0 0 1 0 -8.0 0M395.2 508.3a4.0 4.0 0 1 0 8.0 0a4.0 4.0 0 1 0 -8.0 0M384.5 499.5a4.0 4.0 0 1 0 8.0 0a4.0 4.0 0 1 0 -8.0 0M381.7 512.8a4.0 4.0 0 1 0 8.0 0a4.0 4.0 0 1 0 -8.0 0M375.7 524.9a4.0 4.0 0 1 0 8.0 0a4.0 4.0 0 1 0 -8.0 0M366.8 535.2a4.0 4.0 0 1 0 8.0 0a4.0 4.0 0 1 0 -8.0 0M355.7 543.0a4.0 4.0 0 1 0 8.0 0a4.0 4.0 0 1 0 -8.0 0M342.9 547.8a4.0 4.0 0 1 0 8.0 0a4.0 4.0 0 1 0 -8.0 0M329.4 549.2a4.0 4.0 0 1 0 8.0 0a4.0 4.0 0 1 0 -8.0 0M316.0 547.2a4.0 4.0 0 1 0 8.0 0a4.0 4.0 0 1 0 -8.0 0M303.4 542.0a4.0 4.0 0 1 0 8.0 0a4.0 4.0 0 1 0 -8.0 0M292.6 533.8a4.0 4.0 0 1 0 8.0 0a4.0 4.0 0 1 0 -8.0 0M284.2 523.1a4.0 4.0 0 1 0 8.0 0a4.0 4.0 0 1 0 -8.0 0M278.6 510.7a4.0 4.0 0 1 0 8.0 0a4.0 4.0 0 1 0 -8.0 0M276.3 497.3a4.0 4.0 0 1 0 8.0 0a4.0 4.0 0 1 0 -8.0 0M277.5 483.8a4.0 4.0 0 1 0 8.0 0a4.0 4.0 0 1 0 -8.0 0M281.9 471.0a4.0 4.0 0 1 0 8.0 0a4.0 4.0 0 1 0 -8.0 0M289.4 459.6a4.0 4.0 0 1 0 8.0 0a4.0 4.0 0 1 0 -8.0 0M299.5 450.5a4.0 4.0 0 1 0 8.0 0a4.0 4.0 0 1 0 -8.0 0M311.6 444.2a4.0 4.0 0 1 0 8.0 0a4.0 4.0 0 1 0 -8.0 0M324.8 441.1a4.0 4.0 0 1 0 8.0 0a4.0 4.0 0 1 0 -8.0 0M338.4 441.4a4.0 4.0 0 1 0 8.0 0a4.0 4.0 0 1 0 -8.0 0M351.5 445.0a4.0 4.0 0 1 0 8.0 0a4.0 4.0 0 1 0 -8.0 0M363.2 451.8a4.0 4.0 0 1 0 8.0 0a4.0 4.0 0 1 0 -8.0 0M372.9 461.3a4.0 4.0 0 1 0 8.0 0a4.0 4.0 0 1 0 -8.0 0M380.0 472.9a4.0 4.0 0 1 0 8.0 0a4.0 4.0 0 1 0 -8.0 0M383.9 485.9a4.0 4.0 0 1 0 8.0 0a4.0 4.0 0 1 0 -8.0 0M352.6 458.8a4.0 4.0 0 1 0 8.0 0a4.0 4.0 0 1 0 -8.0 0M363.2 468.0a4.0 4.0 0 1 0 8.0 0a4.0 4.0 0 1 0 -8.0 0M370.2 480.1a4.0 4.0 0 1 0 8.0 0a4.0 4.0 0 1 0 -8.0 0M372.9 493.8a4.0 4.0 0 1 0 8.0 0a4.0 4.0 0 1 0 -8.0 0M354.7 529.8a4.0 4.0 0 1 0 8.0 0a4.0 4.0 0 1 0 -8.0 0M342.1 535.8a4.0 4.0 0 1 0 8.0 0a4.0 4.0 0 1 0 -8.0 0M328.2 537.3a4.0 4.0 0 1 0 8.0 0a4.0 4.0 0 1 0 -8.0 0M314.6 534.3a4.0 4.0 0 1 0 8.0 0a4.0 4.0 0 1 0 -8.0 0M302.7 527.0a4.0 4.0 0 1 0 8.0 0a4.0 4.0 0 1 0 -8.0 0M293.8 516.3a4.0 4.0 0 1 0 8.0 0a4.0 4.0 0 1 0 -8.0 0M288.9 503.2a4.0 4.0 0 1 0 8.0 0a4.0 4.0 0 1 0 -8.0 0M288.5 489.2a4.0 4.0 0 1 0 8.0 0a4.0 4.0 0 1 0 -8.0 0M292.6 475.9a4.0 4.0 0 1 0 8.0 0a4.0 4.0 0 1 0 -8.0 0M300.9 464.7a4.0 4.0 0 1 0 8.0 0a4.0 4.0 0 1 0 -8.0 0M312.3 456.7a4.0 4.0 0 1 0 8.0 0a4.0 4.0 0 1 0 -8.0 0M325.8 452.9a4.0 4.0 0 1 0 8.0 0a4.0 4.0 0 1 0 -8.0 0M339.7 453.6a4.0 4.0 0 1 0 8.0 0a4.0 4.0 0 1 0 -8.0 0M328.7 525.5a4.0 4.0 0 1 0 8.0 0a4.0 4.0 0 1 0 -8.0 0M315.6 521.7a4.0 4.0 0 1 0 8.0 0a4.0 4.0 0 1 0 -8.0 0M305.5 512.6a4.0 4.0 0 1 0 8.0 0a4.0 4.0 0 1 0 -8.0 0M300.3 500.0a4.0 4.0 0 1 0 8.0 0a4.0 4.0 0 1 0 -8.0 0M301.1 486.5a4.0 4.0 0 1 0 8.0 0a4.0 4.0 0 1 0 -8.0 0M307.7 474.5a4.0 4.0 0 1 0 8.0 0a4.0 4.0 0 1 0 -8.0 0M318.9 466.7a4.0 4.0 0 1 0 8.0 0a4.0 4.0 0 1 0 -8.0 0M332.3 464.5a4.0 4.0 0 1 0 8.0 0a4.0 4.0 0 1 0 -8.0 0M345.4 468.3a4.0 4.0 0 1 0 8.0 0a4.0 4.0 0 1 0 -8.0 0M355.5 477.4a4.0 4.0 0 1 0 8.0 0a4.0 4.0 0 1 0 -8.0 0M360.7 490.0a4.0 4.0 0 1 0 8.0 0a4.0 4.0 0 1 0 -8.0 0M359.9 503.5a4.0 4.0 0 1 0 8.0 0a4.0 4.0 0 1 0 -8.0 0M353.3 515.5a4.0 4.0 0 1 0 8.0 0a4.0 4.0 0 1 0 -8.0 0M342.1 523.3a4.0 4.0 0 1 0 8.0 0a4.0 4.0 0 1 0 -8.0 0M332.3 513.7a4.0 4.0 0 1 0 8.0 0a4.0 4.0 0 1 0 -8.0 0M318.6 509.5a4.0 4.0 0 1 0 8.0 0a4.0 4.0 0 1 0 -8.0 0M311.8 496.8a4.0 4.0 0 1 0 8.0 0a4.0 4.0 0 1 0 -8.0 0M316.0 483.1a4.0 4.0 0 1 0 8.0 0a4.0 4.0 0 1 0 -8.0 0M328.7 476.3a4.0 4.0 0 1 0 8.0 0a4.0 4.0 0 1 0 -8.0 0M342.4 480.5a4.0 4.0 0 1 0 8.0 0a4.0 4.0 0 1 0 -8.0 0M349.2 493.2a4.0 4.0 0 1 0 8.0 0a4.0 4.0 0 1 0 -8.0 0M345.0 506.9a4.0 4.0 0 1 0 8.0 0a4.0 4.0 0 1 0 -8.0 0" fill="#f6f3f3"/>
<path d="M340.5 619.6a3.4 3.4 0 1 0 6.8 0a3.4 3.4 0 1 0 -6.8 0M327.0 619.9a3.4 3.4 0 1 0 6.8 0a3.4 3.4 0 1 0 -6.8 0M313.5 618.8a3.4 3.4 0 1 0 6.8 0a3.4 3.4 0 1 0 -6.8 0M300.3 616.1a3.4 3.4 0 1 0 6.8 0a3.4 3.4 0 1 0 -6.8 0M287.3 612.1a3.4 3.4 0 1 0 6.8 0a3.4 3.4 0 1 0 -6.8 0M274.9 606.7a3.4 3.4 0 1 0 6.8 0a3.4 3.4 0 1 0 -6.8 0M263.2 599.9a3.4 3.4 0 1 0 6.8 0a3.4 3.4 0 1 0 -6.8 0M252.2 592.0a3.4 3.4 0 1 0 6.8 0a3.4 3.4 0 1 0 -6.8 0M242.2 582.9a3.4 3.4 0 1 0 6.8 0a3.4 3.4 0 1 0 -6.8 0M233.2 572.8a3.4 3.4 0 1 0 6.8 0a3.4 3.4 0 1 0 -6.8 0M225.4 561.7a3.4 3.4 0 1 0 6.8 0a3.4 3.4 0 1 0 -6.8 0M213.5 537.4a3.4 3.4 0 1 0 6.8 0a3.4 3.4 0 1 0 -6.8 0M209.6 524.5a3.4 3.4 0 1 0 6.8 0a3.4 3.4 0 1 0 -6.8 0M207.2 511.2a3.4 3.4 0 1 0 6.8 0a3.4 3.4 0 1 0 -6.8 0M206.6 484.2a3.4 3.4 0 1 0 6.8 0a3.4 3.4 0 1 0 -6.8 0M208.5 470.8a3.4 3.4 0 1 0 6.8 0a3.4 3.4 0 1 0 -6.8 0M211.8 457.6a3.4 3.4 0 1 0 6.8 0a3.4 3.4 0 1 0 -6.8 0M216.6 445.0a3.4 3.4 0 1 0 6.8 0a3.4 3.4 0 1 0 -6.8 0M222.6 432.9a3.4 3.4 0 1 0 6.8 0a3.4 3.4 0 1 0 -6.8 0M230.0 421.5a3.4 3.4 0 1 0 6.8 0a3.4 3.4 0 1 0 -6.8 0M238.5 411.0a3.4 3.4 0 1 0 6.8 0a3.4 3.4 0 1 0 -6.8 0M248.2 401.5a3.4 3.4 0 1 0 6.8 0a3.4 3.4 0 1 0 -6.8 0M258.7 393.1a3.4 3.4 0 1 0 6.8 0a3.4 3.4 0 1 0 -6.8 0M270.2 385.8a3.4 3.4 0 1 0 6.8 0a3.4 3.4 0 1 0 -6.8 0M282.4 379.9a3.4 3.4 0 1 0 6.8 0a3.4 3.4 0 1 0 -6.8 0M321.7 370.4a3.4 3.4 0 1 0 6.8 0a3.4 3.4 0 1 0 -6.8 0M335.2 370.1a3.4 3.4 0 1 0 6.8 0a3.4 3.4 0 1 0 -6.8 0M348.7 371.2a3.4 3.4 0 1 0 6.8 0a3.4 3.4 0 1 0 -6.8 0M361.9 373.9a3.4 3.4 0 1 0 6.8 0a3.4 3.4 0 1 0 -6.8 0M374.9 377.9a3.4 3.4 0 1 0 6.8 0a3.4 3.4 0 1 0 -6.8 0M387.3 383.3a3.4 3.4 0 1 0 6.8 0a3.4 3.4 0 1 0 -6.8 0M399.0 390.1a3.4 3.4 0 1 0 6.8 0a3.4 3.4 0 1 0 -6.8 0M410.0 398.0a3.4 3.4 0 1 0 6.8 0a3.4 3.4 0 1 0 -6.8 0M420.0 407.1a3.4 3.4 0 1 0 6.8 0a3.4 3.4 0 1 0 -6.8 0M429.0 417.2a3.4 3.4 0 1 0 6.8 0a3.4 3.4 0 1 0 -6.8 0M436.8 428.3a3.4 3.4 0 1 0 6.8 0a3.4 3.4 0 1 0 -6.8 0M443.4 440.1a3.4 3.4 0 1 0 6.8 0a3.4 3.4 0 1 0 -6.8 0M448.7 452.6a3.4 3.4 0 1 0 6.8 0a3.4 3.4 0 1 0 -6.8 0M452.6 465.5a3.4 3.4 0 1 0 6.8 0a3.4 3.4 0 1 0 -6.8 0M367.1 614.7a3.4 3.4 0 1 0 6.8 0a3.4 3.4 0 1 0 -6.8 0M354.0 617.9a3.4 3.4 0 1 0 6.8 0a3.4 3.4 0 1 0 -6.8 0M226.8 451.1a3.4 3.4 0 1 0 6.8 0a3.4 3.4 0 1 0 -6.8 0M232.8 438.8a3.4 3.4 0 1 0 6.8 0a3.4 3.4 0 1 0 -6.8 0M240.3 427.4a3.4 3.4 0 1 0 6.8 0a3.4 3.4 0 1 0 -6.8 0M249.1 416.9a3.4 3.4 0 1 0 6.8 0a3.4 3.4 0 1 0 -6.8 0M259.2 407.6a3.4 3.4 0 1 0 6.8 0a3.4 3.4 0 1 0 -6.8 0M270.2 399.6a3.4 3.4 0 1 0 6.8 0a3.4 3.4 0 1 0 -6.8 0M294.8 387.8a3.4 3.4 0 1 0 6.8 0a3.4 3.4 0 1 0 -6.8 0M321.5 382.2a3.4 3.4 0 1 0 6.8 0a3.4 3.4 0 1 0 -6.8 0M335.2 381.9a3.4 3.4 0 1 0 6.8 0a3.4 3.4 0 1 0 -6.8 0M348.8 383.2a3.4 3.4 0 1 0 6.8 0a3.4 3.4 0 1 0 -6.8 0M362.2 386.1a3.4 3.4 0 1 0 6.8 0a3.4 3.4 0 1 0 -6.8 0M375.0 390.7a3.4 3.4 0 1 0 6.8 0a3.4 3.4 0 1 0 -6.8 0M387.3 396.7a3.4 3.4 0 1 0 6.8 0a3.4 3.4 0 1 0 -6.8 0M398.7 404.2a3.4 3.4 0 1 0 6.8 0a3.4 3.4 0 1 0 -6.8 0M418.5 423.1a3.4 3.4 0 1 0 6.8 0a3.4 3.4 0 1 0 -6.8 0M433.2 446.1a3.4 3.4 0 1 0 6.8 0a3.4 3.4 0 1 0 -6.8 0M340.7 607.8a3.4 3.4 0 1 0 6.8 0a3.4 3.4 0 1 0 -6.8 0M327.0 608.1a3.4 3.4 0 1 0 6.8 0a3.4 3.4 0 1 0 -6.8 0M313.4 606.8a3.4 3.4 0 1 0 6.8 0a3.4 3.4 0 1 0 -6.8 0M300.0 603.9a3.4 3.4 0 1 0 6.8 0a3.4 3.4 0 1 0 -6.8 0M287.2 599.3a3.4 3.4 0 1 0 6.8 0a3.4 3.4 0 1 0 -6.8 0M274.9 593.3a3.4 3.4 0 1 0 6.8 0a3.4 3.4 0 1 0 -6.8 0M263.5 585.8a3.4 3.4 0 1 0 6.8 0a3.4 3.4 0 1 0 -6.8 0M253.0 577.0a3.4 3.4 0 1 0 6.8 0a3.4 3.4 0 1 0 -6.8 0M243.7 566.9a3.4 3.4 0 1 0 6.8 0a3.4 3.4 0 1 0 -6.8 0M229.0 543.9a3.4 3.4 0 1 0 6.8 0a3.4 3.4 0 1 0 -6.8 0M223.9 531.3a3.4 3.4 0 1 0 6.8 0a3.4 3.4 0 1 0 -6.8 0M218.3 504.6a3.4 3.4 0 1 0 6.8 0a3.4 3.4 0 1 0 -6.8 0M218.0 490.9a3.4 3.4 0 1 0 6.8 0a3.4 3.4 0 1 0 -6.8 0M261.7 568.9a3.4 3.4 0 1 0 6.8 0a3.4 3.4 0 1 0 -6.8 0M252.5 559.0a3.4 3.4 0 1 0 6.8 0a3.4 3.4 0 1 0 -6.8 0M244.6 548.0a3.4 3.4 0 1 0 6.8 0a3.4 3.4 0 1 0 -6.8 0M238.3 536.0a3.4 3.4 0 1 0 6.8 0a3.4 3.4 0 1 0 -6.8 0M233.7 523.3a3.4 3.4 0 1 0 6.8 0a3.4 3.4 0 1 0 -6.8 0M230.8 510.0a3.4 3.4 0 1 0 6.8 0a3.4 3.4 0 1 0 -6.8 0M232.9 469.7a3.4 3.4 0 1 0 6.8 0a3.4 3.4 0 1 0 -6.8 0M237.2 456.8a3.4 3.4 0 1 0 6.8 0a3.4 3.4 0 1 0 -6.8 0M243.1 444.6a3.4 3.4 0 1 0 6.8 0a3.4 3.4 0 1 0 -6.8 0M250.6 433.4a3.4 3.4 0 1 0 6.8 0a3.4 3.4 0 1 0 -6.8 0M259.5 423.2a3.4 3.4 0 1 0 6.8 0a3.4 3.4 0 1 0 -6.8 0M269.7 414.3a3.4 3.4 0 1 0 6.8 0a3.4 3.4 0 1 0 -6.8 0M281.0 406.8a3.4 3.4 0 1 0 6.8 0a3.4 3.4 0 1 0 -6.8 0M293.2 400.9a3.4 3.4 0 1 0 6.8 0a3.4 3.4 0 1 0 -6.8 0M306.1 396.7a3.4 3.4 0 1 0 6.8 0a3.4 3.4 0 1 0 -6.8 0M319.4 394.3a3.4 3.4 0 1 0 6.8 0a3.4 3.4 0 1 0 -6.8 0M333.0 393.6a3.4 3.4 0 1 0 6.8 0a3.4 3.4 0 1 0 -6.8 0M346.5 394.8a3.4 3.4 0 1 0 6.8 0a3.4 3.4 0 1 0 -6.8 0M359.7 397.7a3.4 3.4 0 1 0 6.8 0a3.4 3.4 0 1 0 -6.8 0M384.4 408.7a3.4 3.4 0 1 0 6.8 0a3.4 3.4 0 1 0 -6.8 0M395.4 416.6a3.4 3.4 0 1 0 6.8 0a3.4 3.4 0 1 0 -6.8 0M405.3 425.9a3.4 3.4 0 1 0 6.8 0a3.4 3.4 0 1 0 -6.8 0M322.5 596.0a3.4 3.4 0 1 0 6.8 0a3.4 3.4 0 1 0 -6.8 0M296.1 590.2a3.4 3.4 0 1 0 6.8 0a3.4 3.4 0 1 0 -6.8 0M283.7 584.6a3.4 3.4 0 1 0 6.8 0a3.4 3.4 0 1 0 -6.8 0M272.2 577.5a3.4 3.4 0 1 0 6.8 0a3.4 3.4 0 1 0 -6.8 0M259.9 440.6a3.4 3.4 0 1 0 6.8 0a3.4 3.4 0 1 0 -6.8 0M269.1 430.3a3.4 3.4 0 1 0 6.8 0a3.4 3.4 0 1 0 -6.8 0M279.7 421.6a3.4 3.4 0 1 0 6.8 0a3.4 3.4 0 1 0 -6.8 0M291.5 414.6a3.4 3.4 0 1 0 6.8 0a3.4 3.4 0 1 0 -6.8 0M304.2 409.5a3.4 3.4 0 1 0 6.8 0a3.4 3.4 0 1 0 -6.8 0M317.6 406.4a3.4 3.4 0 1 0 6.8 0a3.4 3.4 0 1 0 -6.8 0M331.2 405.4a3.4 3.4 0 1 0 6.8 0a3.4 3.4 0 1 0 -6.8 0M358.3 409.6a3.4 3.4 0 1 0 6.8 0a3.4 3.4 0 1 0 -6.8 0M371.0 414.8a3.4 3.4 0 1 0 6.8 0a3.4 3.4 0 1 0 -6.8 0M382.8 421.8a3.4 3.4 0 1 0 6.8 0a3.4 3.4 0 1 0 -6.8 0M297.5 578.0a3.4 3.4 0 1 0 6.8 0a3.4 3.4 0 1 0 -6.8 0M285.2 571.9a3.4 3.4 0 1 0 6.8 0a3.4 3.4 0 1 0 -6.8 0M274.0 564.0a3.4 3.4 0 1 0 6.8 0a3.4 3.4 0 1 0 -6.8 0M255.8 543.6a3.4 3.4 0 1 0 6.8 0a3.4 3.4 0 1 0 -6.8 0M249.3 531.5a3.4 3.4 0 1 0 6.8 0a3.4 3.4 0 1 0 -6.8 0M244.7 518.6a3.4 3.4 0 1 0 6.8 0a3.4 3.4 0 1 0 -6.8 0M241.6 491.4a3.4 3.4 0 1 0 6.8 0a3.4 3.4 0 1 0 -6.8 0M243.2 477.8a3.4 3.4 0 1 0 6.8 0a3.4 3.4 0 1 0 -6.8 0M246.8 464.6a3.4 3.4 0 1 0 6.8 0a3.4 3.4 0 1 0 -6.8 0M252.5 452.1a3.4 3.4 0 1 0 6.8 0a3.4 3.4 0 1 0 -6.8 0M276.3 439.7a3.4 3.4 0 1 0 6.8 0a3.4 3.4 0 1 0 -6.8 0M286.8 431.1a3.4 3.4 0 1 0 6.8 0a3.4 3.4 0 1 0 -6.8 0M311.3 419.8a3.4 3.4 0 1 0 6.8 0a3.4 3.4 0 1 0 -6.8 0M324.7 417.5a3.4 3.4 0 1 0 6.8 0a3.4 3.4 0 1 0 -6.8 0M338.2 417.5a3.4 3.4 0 1 0 6.8 0a3.4 3.4 0 1 0 -6.8 0M351.6 419.9a3.4 3.4 0 1 0 6.8 0a3.4 3.4 0 1 0 -6.8 0M286.2 558.5a3.4 3.4 0 1 0 6.8 0a3.4 3.4 0 1 0 -6.8 0M275.8 549.8a3.4 3.4 0 1 0 6.8 0a3.4 3.4 0 1 0 -6.8 0M260.4 527.6a3.4 3.4 0 1 0 6.8 0a3.4 3.4 0 1 0 -6.8 0M255.9 514.8a3.4 3.4 0 1 0 6.8 0a3.4 3.4 0 1 0 -6.8 0M253.6 501.4a3.4 3.4 0 1 0 6.8 0a3.4 3.4 0 1 0 -6.8 0M253.6 487.9a3.4 3.4 0 1 0 6.8 0a3.4 3.4 0 1 0 -6.8 0M256.0 474.5a3.4 3.4 0 1 0 6.8 0a3.4 3.4 0 1 0 -6.8 0M260.7 461.8a3.4 3.4 0 1 0 6.8 0a3.4 3.4 0 1 0 -6.8 0M278.0 534.2a3.4 3.4 0 1 0 6.8 0a3.4 3.4 0 1 0 -6.8 0M271.0 522.3a3.4 3.4 0 1 0 6.8 0a3.4 3.4 0 1 0 -6.8 0M266.6 509.2a3.4 3.4 0 1 0 6.8 0a3.4 3.4 0 1 0 -6.8 0M265.1 495.5a3.4 3.4 0 1 0 6.8 0a3.4 3.4 0 1 0 -6.8 0M266.4 481.7a3.4 3.4 0 1 0 6.8 0a3.4 3.4 0 1 0 -6.8 0M270.6 468.6a3.4 3.4 0 1 0 6.8 0a3.4 3.4 0 1 0 -6.8 0M286.6 446.3a3.4 3.4 0 1 0 6.8 0a3.4 3.4 0 1 0 -6.8 0M297.7 438.1a3.4 3.4 0 1 0 6.8 0a3.4 3.4 0 1 0 -6.8 0M310.3 432.4a3.4 3.4 0 1 0 6.8 0a3.4 3.4 0 1 0 -6.8 0M276.9 497.3a3.4 3.4 0 1 0 6.8 0a3.4 3.4 0 1 0 -6.8 0M278.1 483.8a3.4 3.4 0 1 0 6.8 0a3.4 3.4 0 1 0 -6.8 0M282.5 471.0a3.4 3.4 0 1 0 6.8 0a3.4 3.4 0 1 0 -6.8 0M290.0 459.6a3.4 3.4 0 1 0 6.8 0a3.4 3.4 0 1 0 -6.8 0M300.1 450.5a3.4 3.4 0 1 0 6.8 0a3.4 3.4 0 1 0 -6.8 0" fill="#5dad58"/>
<path d="M455.0 478.8a3.4 3.4 0 1 0 6.8 0a3.4 3.4 0 1 0 -6.8 0M456.1 492.3a3.4 3.4 0 1 0 6.8 0a3.4 3.4 0 1 0 -6.8 0M455.6 505.8a3.4 3.4 0 1 0 6.8 0a3.4 3.4 0 1 0 -6.8 0M453.7 519.2a3.4 3.4 0 1 0 6.8 0a3.4 3.4 0 1 0 -6.8 0M450.4 532.4a3.4 3.4 0 1 0 6.8 0a3.4 3.4 0 1 0 -6.8 0M445.6 545.0a3.4 3.4 0 1 0 6.8 0a3.4 3.4 0 1 0 -6.8 0M439.6 557.1a3.4 3.4 0 1 0 6.8 0a3.4 3.4 0 1 0 -6.8 0M432.2 568.5a3.4 3.4 0 1 0 6.8 0a3.4 3.4 0 1 0 -6.8 0M423.7 579.0a3.4 3.4 0 1 0 6.8 0a3.4 3.4 0 1 0 -6.8 0M414.0 588.5a3.4 3.4 0 1 0 6.8 0a3.4 3.4 0 1 0 -6.8 0M403.5 596.9a3.4 3.4 0 1 0 6.8 0a3.4 3.4 0 1 0 -6.8 0M392.0 604.2a3.4 3.4 0 1 0 6.8 0a3.4 3.4 0 1 0 -6.8 0M438.3 458.7a3.4 3.4 0 1 0 6.8 0a3.4 3.4 0 1 0 -6.8 0M441.9 471.9a3.4 3.4 0 1 0 6.8 0a3.4 3.4 0 1 0 -6.8 0M443.9 485.4a3.4 3.4 0 1 0 6.8 0a3.4 3.4 0 1 0 -6.8 0M442.9 512.7a3.4 3.4 0 1 0 6.8 0a3.4 3.4 0 1 0 -6.8 0M440.0 526.1a3.4 3.4 0 1 0 6.8 0a3.4 3.4 0 1 0 -6.8 0M435.4 538.9a3.4 3.4 0 1 0 6.8 0a3.4 3.4 0 1 0 -6.8 0M429.4 551.2a3.4 3.4 0 1 0 6.8 0a3.4 3.4 0 1 0 -6.8 0M421.9 562.6a3.4 3.4 0 1 0 6.8 0a3.4 3.4 0 1 0 -6.8 0M413.1 573.1a3.4 3.4 0 1 0 6.8 0a3.4 3.4 0 1 0 -6.8 0M403.0 582.4a3.4 3.4 0 1 0 6.8 0a3.4 3.4 0 1 0 -6.8 0M392.0 590.4a3.4 3.4 0 1 0 6.8 0a3.4 3.4 0 1 0 -6.8 0M380.0 597.1a3.4 3.4 0 1 0 6.8 0a3.4 3.4 0 1 0 -6.8 0M367.4 602.2a3.4 3.4 0 1 0 6.8 0a3.4 3.4 0 1 0 -6.8 0M354.2 605.8a3.4 3.4 0 1 0 6.8 0a3.4 3.4 0 1 0 -6.8 0M413.8 436.4a3.4 3.4 0 1 0 6.8 0a3.4 3.4 0 1 0 -6.8 0M420.9 447.9a3.4 3.4 0 1 0 6.8 0a3.4 3.4 0 1 0 -6.8 0M426.4 460.3a3.4 3.4 0 1 0 6.8 0a3.4 3.4 0 1 0 -6.8 0M430.2 473.3a3.4 3.4 0 1 0 6.8 0a3.4 3.4 0 1 0 -6.8 0M432.2 486.7a3.4 3.4 0 1 0 6.8 0a3.4 3.4 0 1 0 -6.8 0M432.4 500.3a3.4 3.4 0 1 0 6.8 0a3.4 3.4 0 1 0 -6.8 0M427.4 526.8a3.4 3.4 0 1 0 6.8 0a3.4 3.4 0 1 0 -6.8 0M422.3 539.4a3.4 3.4 0 1 0 6.8 0a3.4 3.4 0 1 0 -6.8 0M415.5 551.1a3.4 3.4 0 1 0 6.8 0a3.4 3.4 0 1 0 -6.8 0M407.3 561.9a3.4 3.4 0 1 0 6.8 0a3.4 3.4 0 1 0 -6.8 0M397.7 571.4a3.4 3.4 0 1 0 6.8 0a3.4 3.4 0 1 0 -6.8 0M386.9 579.6a3.4 3.4 0 1 0 6.8 0a3.4 3.4 0 1 0 -6.8 0M375.2 586.3a3.4 3.4 0 1 0 6.8 0a3.4 3.4 0 1 0 -6.8 0M362.6 591.4a3.4 3.4 0 1 0 6.8 0a3.4 3.4 0 1 0 -6.8 0M349.5 594.7a3.4 3.4 0 1 0 6.8 0a3.4 3.4 0 1 0 -6.8 0M336.0 596.3a3.4 3.4 0 1 0 6.8 0a3.4 3.4 0 1 0 -6.8 0M393.3 430.5a3.4 3.4 0 1 0 6.8 0a3.4 3.4 0 1 0 -6.8 0M402.4 440.8a3.4 3.4 0 1 0 6.8 0a3.4 3.4 0 1 0 -6.8 0M409.9 452.3a3.4 3.4 0 1 0 6.8 0a3.4 3.4 0 1 0 -6.8 0M415.5 464.9a3.4 3.4 0 1 0 6.8 0a3.4 3.4 0 1 0 -6.8 0M419.1 478.1a3.4 3.4 0 1 0 6.8 0a3.4 3.4 0 1 0 -6.8 0M420.6 491.7a3.4 3.4 0 1 0 6.8 0a3.4 3.4 0 1 0 -6.8 0M417.5 518.9a3.4 3.4 0 1 0 6.8 0a3.4 3.4 0 1 0 -6.8 0M412.8 531.8a3.4 3.4 0 1 0 6.8 0a3.4 3.4 0 1 0 -6.8 0M406.2 543.8a3.4 3.4 0 1 0 6.8 0a3.4 3.4 0 1 0 -6.8 0M397.9 554.7a3.4 3.4 0 1 0 6.8 0a3.4 3.4 0 1 0 -6.8 0M388.0 564.2a3.4 3.4 0 1 0 6.8 0a3.4 3.4 0 1 0 -6.8 0M376.8 572.1a3.4 3.4 0 1 0 6.8 0a3.4 3.4 0 1 0 -6.8 0M364.5 578.2a3.4 3.4 0 1 0 6.8 0a3.4 3.4 0 1 0 -6.8 0M351.4 582.3a3.4 3.4 0 1 0 6.8 0a3.4 3.4 0 1 0 -6.8 0M337.8 584.3a3.4 3.4 0 1 0 6.8 0a3.4 3.4 0 1 0 -6.8 0M324.1 584.3a3.4 3.4 0 1 0 6.8 0a3.4 3.4 0 1 0 -6.8 0M310.5 582.2a3.4 3.4 0 1 0 6.8 0a3.4 3.4 0 1 0 -6.8 0M364.3 424.6a3.4 3.4 0 1 0 6.8 0a3.4 3.4 0 1 0 -6.8 0M376.0 431.5a3.4 3.4 0 1 0 6.8 0a3.4 3.4 0 1 0 -6.8 0M386.4 440.2a3.4 3.4 0 1 0 6.8 0a3.4 3.4 0 1 0 -6.8 0M395.0 450.7a3.4 3.4 0 1 0 6.8 0a3.4 3.4 0 1 0 -6.8 0M401.8 462.4a3.4 3.4 0 1 0 6.8 0a3.4 3.4 0 1 0 -6.8 0M406.3 475.2a3.4 3.4 0 1 0 6.8 0a3.4 3.4 0 1 0 -6.8 0M408.6 488.6a3.4 3.4 0 1 0 6.8 0a3.4 3.4 0 1 0 -6.8 0M408.6 502.1a3.4 3.4 0 1 0 6.8 0a3.4 3.4 0 1 0 -6.8 0M406.2 515.5a3.4 3.4 0 1 0 6.8 0a3.4 3.4 0 1 0 -6.8 0M401.5 528.2a3.4 3.4 0 1 0 6.8 0a3.4 3.4 0 1 0 -6.8 0M394.6 539.9a3.4 3.4 0 1 0 6.8 0a3.4 3.4 0 1 0 -6.8 0M385.9 550.3a3.4 3.4 0 1 0 6.8 0a3.4 3.4 0 1 0 -6.8 0M375.4 558.9a3.4 3.4 0 1 0 6.8 0a3.4 3.4 0 1 0 -6.8 0M363.7 565.7a3.4 3.4 0 1 0 6.8 0a3.4 3.4 0 1 0 -6.8 0M350.9 570.2a3.4 3.4 0 1 0 6.8 0a3.4 3.4 0 1 0 -6.8 0M337.5 572.5a3.4 3.4 0 1 0 6.8 0a3.4 3.4 0 1 0 -6.8 0M324.0 572.5a3.4 3.4 0 1 0 6.8 0a3.4 3.4 0 1 0 -6.8 0M310.6 570.1a3.4 3.4 0 1 0 6.8 0a3.4 3.4 0 1 0 -6.8 0M351.9 557.6a3.4 3.4 0 1 0 6.8 0a3.4 3.4 0 1 0 -6.8 0M338.5 560.6a3.4 3.4 0 1 0 6.8 0a3.4 3.4 0 1 0 -6.8 0M311.2 557.9a3.4 3.4 0 1 0 6.8 0a3.4 3.4 0 1 0 -6.8 0M298.5 552.4a3.4 3.4 0 1 0 6.8 0a3.4 3.4 0 1 0 -6.8 0M287.3 544.4a3.4 3.4 0 1 0 6.8 0a3.4 3.4 0 1 0 -6.8 0M337.5 429.3a3.4 3.4 0 1 0 6.8 0a3.4 3.4 0 1 0 -6.8 0M351.0 432.1a3.4 3.4 0 1 0 6.8 0a3.4 3.4 0 1 0 -6.8 0M363.7 437.6a3.4 3.4 0 1 0 6.8 0a3.4 3.4 0 1 0 -6.8 0M374.9 445.6a3.4 3.4 0 1 0 6.8 0a3.4 3.4 0 1 0 -6.8 0M384.2 455.8a3.4 3.4 0 1 0 6.8 0a3.4 3.4 0 1 0 -6.8 0M391.2 467.7a3.4 3.4 0 1 0 6.8 0a3.4 3.4 0 1 0 -6.8 0M395.6 480.8a3.4 3.4 0 1 0 6.8 0a3.4 3.4 0 1 0 -6.8 0M397.1 494.5a3.4 3.4 0 1 0 6.8 0a3.4 3.4 0 1 0 -6.8 0M395.8 508.3a3.4 3.4 0 1 0 6.8 0a3.4 3.4 0 1 0 -6.8 0M385.1 499.5a3.4 3.4 0 1 0 6.8 0a3.4 3.4 0 1 0 -6.8 0M382.3 512.8a3.4 3.4 0 1 0 6.8 0a3.4 3.4 0 1 0 -6.8 0M376.3 524.9a3.4 3.4 0 1 0 6.8 0a3.4 3.4 0 1 0 -6.8 0M367.4 535.2a3.4 3.4 0 1 0 6.8 0a3.4 3.4 0 1 0 -6.8 0M356.3 543.0a3.4 3.4 0 1 0 6.8 0a3.4 3.4 0 1 0 -6.8 0M343.5 547.8a3.4 3.4 0 1 0 6.8 0a3.4 3.4 0 1 0 -6.8 0M330.0 549.2a3.4 3.4 0 1 0 6.8 0a3.4 3.4 0 1 0 -6.8 0M316.6 547.2a3.4 3.4 0 1 0 6.8 0a3.4 3.4 0 1 0 -6.8 0M293.2 533.8a3.4 3.4 0 1 0 6.8 0a3.4 3.4 0 1 0 -6.8 0M284.8 523.1a3.4 3.4 0 1 0 6.8 0a3.4 3.4 0 1 0 -6.8 0M279.2 510.7a3.4 3.4 0 1 0 6.8 0a3.4 3.4 0 1 0 -6.8 0M312.2 444.2a3.4 3.4 0 1 0 6.8 0a3.4 3.4 0 1 0 -6.8 0M339.0 441.4a3.4 3.4 0 1 0 6.8 0a3.4 3.4 0 1 0 -6.8 0M352.1 445.0a3.4 3.4 0 1 0 6.8 0a3.4 3.4 0 1 0 -6.8 0M363.8 451.8a3.4 3.4 0 1 0 6.8 0a3.4 3.4 0 1 0 -6.8 0M373.5 461.3a3.4 3.4 0 1 0 6.8 0a3.4 3.4 0 1 0 -6.8 0M380.6 472.9a3.4 3.4 0 1 0 6.8 0a3.4 3.4 0 1 0 -6.8 0M384.5 485.9a3.4 3.4 0 1 0 6.8 0a3.4 3.4 0 1 0 -6.8 0M353.2 458.8a3.4 3.4 0 1 0 6.8 0a3.4 3.4 0 1 0 -6.8 0M370.8 480.1a3.4 3.4 0 1 0 6.8 0a3.4 3.4 0 1 0 -6.8 0M355.3 529.8a3.4 3.4 0 1 0 6.8 0a3.4 3.4 0 1 0 -6.8 0M342.7 535.8a3.4 3.4 0 1 0 6.8 0a3.4 3.4 0 1 0 -6.8 0M294.4 516.3a3.4 3.4 0 1 0 6.8 0a3.4 3.4 0 1 0 -6.8 0M289.5 503.2a3.4 3.4 0 1 0 6.8 0a3.4 3.4 0 1 0 -6.8 0M293.2 475.9a3.4 3.4 0 1 0 6.8 0a3.4 3.4 0 1 0 -6.8 0M312.9 456.7a3.4 3.4 0 1 0 6.8 0a3.4 3.4 0 1 0 -6.8 0M326.4 452.9a3.4 3.4 0 1 0 6.8 0a3.4 3.4 0 1 0 -6.8 0M340.3 453.6a3.4 3.4 0 1 0 6.8 0a3.4 3.4 0 1 0 -6.8 0M329.3 525.5a3.4 3.4 0 1 0 6.8 0a3.4 3.4 0 1 0 -6.8 0M316.2 521.7a3.4 3.4 0 1 0 6.8 0a3.4 3.4 0 1 0 -6.8 0M306.1 512.6a3.4 3.4 0 1 0 6.8 0a3.4 3.4 0 1 0 -6.8 0M301.7 486.5a3.4 3.4 0 1 0 6.8 0a3.4 3.4 0 1 0 -6.8 0M308.3 474.5a3.4 3.4 0 1 0 6.8 0a3.4 3.4 0 1 0 -6.8 0M319.5 466.7a3.4 3.4 0 1 0 6.8 0a3.4 3.4 0 1 0 -6.8 0M346.0 468.3a3.4 3.4 0 1 0 6.8 0a3.4 3.4 0 1 0 -6.8 0M356.1 477.4a3.4 3.4 0 1 0 6.8 0a3.4 3.4 0 1 0 -6.8 0M360.5 503.5a3.4 3.4 0 1 0 6.8 0a3.4 3.4 0 1 0 -6.8 0M353.9 515.5a3.4 3.4 0 1 0 6.8 0a3.4 3.4 0 1 0 -6.8 0M342.7 523.3a3.4 3.4 0 1 0 6.8 0a3.4 3.4 0 1 0 -6.8 0M332.9 513.7a3.4 3.4 0 1 0 6.8 0a3.4 3.4 0 1 0 -6.8 0M319.2 509.5a3.4 3.4 0 1 0 6.8 0a3.4 3.4 0 1 0 -6.8 0M312.4 496.8a3.4 3.4 0 1 0 6.8 0a3.4 3.4 0 1 0 -6.8 0M316.6 483.1a3.4 3.4 0 1 0 6.8 0a3.4 3.4 0 1 0 -6.8 0M329.3 476.3a3.4 3.4 0 1 0 6.8 0a3.4 3.4 0 1 0 -6.8 0M343.0 480.5a3.4 3.4 0 1 0 6.8 0a3.4 3.4 0 1 0 -6.8 0M349.8 493.2a3.4 3.4 0 1 0 6.8 0a3.4 3.4 0 1 0 -6.8 0M345.6 506.9a3.4 3.4 0 1 0 6.8 0a3.4 3.4 0 1 0 -6.8 0" fill="#a6aa2e"/>
<path d="M218.8 549.9a3.4 3.4 0 1 0 6.8 0a3.4 3.4 0 1 0 -6.8 0M206.1 497.7a3.4 3.4 0 1 0 6.8 0a3.4 3.4 0 1 0 -6.8 0M295.1 375.3a3.4 3.4 0 1 0 6.8 0a3.4 3.4 0 1 0 -6.8 0M308.2 372.1a3.4 3.4 0 1 0 6.8 0a3.4 3.4 0 1 0 -6.8 0M379.8 610.1a3.4 3.4 0 1 0 6.8 0a3.4 3.4 0 1 0 -6.8 0M222.2 463.9a3.4 3.4 0 1 0 6.8 0a3.4 3.4 0 1 0 -6.8 0M282.2 392.9a3.4 3.4 0 1 0 6.8 0a3.4 3.4 0 1 0 -6.8 0M308.0 384.2a3.4 3.4 0 1 0 6.8 0a3.4 3.4 0 1 0 -6.8 0M409.2 413.0a3.4 3.4 0 1 0 6.8 0a3.4 3.4 0 1 0 -6.8 0M426.5 434.1a3.4 3.4 0 1 0 6.8 0a3.4 3.4 0 1 0 -6.8 0M444.2 499.1a3.4 3.4 0 1 0 6.8 0a3.4 3.4 0 1 0 -6.8 0M235.7 555.9a3.4 3.4 0 1 0 6.8 0a3.4 3.4 0 1 0 -6.8 0M220.3 518.1a3.4 3.4 0 1 0 6.8 0a3.4 3.4 0 1 0 -6.8 0M219.3 477.3a3.4 3.4 0 1 0 6.8 0a3.4 3.4 0 1 0 -6.8 0M229.7 496.5a3.4 3.4 0 1 0 6.8 0a3.4 3.4 0 1 0 -6.8 0M230.4 483.0a3.4 3.4 0 1 0 6.8 0a3.4 3.4 0 1 0 -6.8 0M372.4 402.4a3.4 3.4 0 1 0 6.8 0a3.4 3.4 0 1 0 -6.8 0M430.8 513.7a3.4 3.4 0 1 0 6.8 0a3.4 3.4 0 1 0 -6.8 0M309.1 594.0a3.4 3.4 0 1 0 6.8 0a3.4 3.4 0 1 0 -6.8 0M344.9 406.5a3.4 3.4 0 1 0 6.8 0a3.4 3.4 0 1 0 -6.8 0M420.1 505.4a3.4 3.4 0 1 0 6.8 0a3.4 3.4 0 1 0 -6.8 0M264.1 554.5a3.4 3.4 0 1 0 6.8 0a3.4 3.4 0 1 0 -6.8 0M242.1 505.1a3.4 3.4 0 1 0 6.8 0a3.4 3.4 0 1 0 -6.8 0M298.5 424.3a3.4 3.4 0 1 0 6.8 0a3.4 3.4 0 1 0 -6.8 0M297.9 565.4a3.4 3.4 0 1 0 6.8 0a3.4 3.4 0 1 0 -6.8 0M267.2 539.3a3.4 3.4 0 1 0 6.8 0a3.4 3.4 0 1 0 -6.8 0M267.6 450.1a3.4 3.4 0 1 0 6.8 0a3.4 3.4 0 1 0 -6.8 0M391.6 521.4a3.4 3.4 0 1 0 6.8 0a3.4 3.4 0 1 0 -6.8 0M384.8 533.4a3.4 3.4 0 1 0 6.8 0a3.4 3.4 0 1 0 -6.8 0M375.6 543.7a3.4 3.4 0 1 0 6.8 0a3.4 3.4 0 1 0 -6.8 0M364.5 551.9a3.4 3.4 0 1 0 6.8 0a3.4 3.4 0 1 0 -6.8 0M324.7 560.7a3.4 3.4 0 1 0 6.8 0a3.4 3.4 0 1 0 -6.8 0M277.4 456.6a3.4 3.4 0 1 0 6.8 0a3.4 3.4 0 1 0 -6.8 0M323.7 429.4a3.4 3.4 0 1 0 6.8 0a3.4 3.4 0 1 0 -6.8 0M304.0 542.0a3.4 3.4 0 1 0 6.8 0a3.4 3.4 0 1 0 -6.8 0M325.4 441.1a3.4 3.4 0 1 0 6.8 0a3.4 3.4 0 1 0 -6.8 0M363.8 468.0a3.4 3.4 0 1 0 6.8 0a3.4 3.4 0 1 0 -6.8 0M373.5 493.8a3.4 3.4 0 1 0 6.8 0a3.4 3.4 0 1 0 -6.8 0M328.8 537.3a3.4 3.4 0 1 0 6.8 0a3.4 3.4 0 1 0 -6.8 0M315.2 534.3a3.4 3.4 0 1 0 6.8 0a3.4 3.4 0 1 0 -6.8 0M303.3 527.0a3.4 3.4 0 1 0 6.8 0a3.4 3.4 0 1 0 -6.8 0M289.1 489.2a3.4 3.4 0 1 0 6.8 0a3.4 3.4 0 1 0 -6.8 0M301.5 464.7a3.4 3.4 0 1 0 6.8 0a3.4 3.4 0 1 0 -6.8 0M300.9 500.0a3.4 3.4 0 1 0 6.8 0a3.4 3.4 0 1 0 -6.8 0M332.9 464.5a3.4 3.4 0 1 0 6.8 0a3.4 3.4 0 1 0 -6.8 0M361.3 490.0a3.4 3.4 0 1 0 6.8 0a3.4 3.4 0 1 0 -6.8 0" fill="#b57cc6"/>
<g font-size="3.7" fill="#505050" text-anchor="middle" font-family="Liberation Sans, sans-serif"><text font-style="italic" x="343.9" y="620.7">Irg11a</text><text font-style="italic" x="316.9" y="619.9">Tm54</text><text font-style="italic" x="303.7" y="617.2">Tr88l</text><text font-style="italic" x="278.3" y="607.8">Zfp64</text><text font-style="italic" x="255.6" y="593.1">Cx76</text><text font-style="italic" x="245.6" y="584.0">Ccl97b</text><text font-style="italic" x="222.2" y="551.0">Sp86</text><text font-style="italic" x="216.9" y="538.5">Fcg75</text><text font-style="italic" x="210.6" y="512.3">Ccl62</text><text font-style="italic" x="209.5" y="498.8">Fcg47l</text><text font-style="italic" x="210.0" y="485.3">Slc54</text><text font-style="italic" x="211.9" y="471.9">Ptp27</text><text font-style="italic" x="215.2" y="458.7">Ly52</text><text font-style="italic" x="226.0" y="434.0">Ifi31</text><text font-style="italic" x="233.4" y="422.6">Ly28</text><text font-style="italic" x="241.9" y="412.1">Rp34</text><text font-style="italic" x="262.1" y="394.2">Cd41</text><text font-style="italic" x="273.6" y="386.9">Ly16b</text><text font-style="italic" x="285.8" y="381.0">Cx75</text><text font-style="italic" x="298.5" y="376.4">Gm43l</text><text font-style="italic" x="311.6" y="373.2">Rp83</text><text font-style="italic" x="338.6" y="371.2">Ank41b</text><text font-style="italic" x="352.1" y="372.3">Irg15b</text><text font-style="italic" x="365.3" y="375.0">Nr87</text><text font-style="italic" x="378.3" y="379.0">Sp85</text><text font-style="italic" x="390.7" y="384.4">Ccl14</text><text font-style="italic" x="413.4" y="399.1">Ank68l</text><text font-style="italic" x="423.4" y="408.2">Cd92a</text><text font-style="italic" x="432.4" y="418.3">Slc23l</text><text font-style="italic" x="440.2" y="429.4">Ank19</text><text font-style="italic" x="446.8" y="441.2">Ptp54</text><text font-style="italic" x="452.1" y="453.7">Cx62a</text><text font-style="italic" x="456.0" y="466.6">Zfp92l</text><text font-style="italic" x="458.4" y="479.9">Ccl35a</text><text font-style="italic" x="459.5" y="493.4">Tr35b</text><text font-style="italic" x="453.8" y="533.5">Ly46</text><text font-style="italic" x="449.0" y="546.1">Fcg13</text><text font-style="italic" x="443.0" y="558.2">Zfp24</text><text font-style="italic" x="435.6" y="569.6">Abc96a</text><text font-style="italic" x="417.4" y="589.6">Ank68a</text><text font-style="italic" x="406.9" y="598.0">Ccl48</text><text font-style="italic" x="395.4" y="605.3">Cx53</text><text font-style="italic" x="383.2" y="611.2">Ank75l</text><text font-style="italic" x="357.4" y="619.0">Sp86a</text><text font-style="italic" x="225.6" y="465.0">Gm14</text><text font-style="italic" x="230.2" y="452.2">Ms23</text><text font-style="italic" x="236.2" y="439.9">Rp68l</text><text font-style="italic" x="243.7" y="428.5">Sp85</text><text font-style="italic" x="252.5" y="418.0">Ly80</text><text font-style="italic" x="262.6" y="408.7">Ptp30</text><text font-style="italic" x="273.6" y="400.7">Gm44b</text><text font-style="italic" x="285.6" y="394.0">Slc11</text><text font-style="italic" x="298.2" y="388.9">Cd92b</text><text font-style="italic" x="324.9" y="383.3">Ly26a</text><text font-style="italic" x="338.6" y="383.0">Zfp6a</text><text font-style="italic" x="352.2" y="384.3">Abc64</text><text font-style="italic" x="365.6" y="387.2">Irg27</text><text font-style="italic" x="378.4" y="391.8">Cx59</text><text font-style="italic" x="390.7" y="397.8">Tm59</text><text font-style="italic" x="402.1" y="405.3">Nr48b</text><text font-style="italic" x="412.6" y="414.1">Ifi1</text><text font-style="italic" x="421.9" y="424.2">Nr19</text><text font-style="italic" x="429.9" y="435.2">Tm27l</text><text font-style="italic" x="436.6" y="447.2">Gm18a</text><text font-style="italic" x="441.7" y="459.8">Tm8</text><text font-style="italic" x="445.3" y="473.0">Pl53</text><text font-style="italic" x="447.3" y="486.5">Cd51a</text><text font-style="italic" x="447.6" y="500.2">Abc61b</text><text font-style="italic" x="446.3" y="513.8">Nr16</text><text font-style="italic" x="438.8" y="540.0">Cx39b</text><text font-style="italic" x="432.8" y="552.3">Pl81</text><text font-style="italic" x="425.3" y="563.7">Cd88</text><text font-style="italic" x="416.5" y="574.2">Gm14</text><text font-style="italic" x="406.4" y="583.5">Tr5a</text><text font-style="italic" x="395.4" y="591.5">Pl26</text><text font-style="italic" x="383.4" y="598.2">Pl62</text><text font-style="italic" x="357.6" y="606.9">Sp97</text><text font-style="italic" x="330.4" y="609.2">Sp24</text><text font-style="italic" x="316.8" y="607.9">Abc71l</text><text font-style="italic" x="303.4" y="605.0">Abc71a</text><text font-style="italic" x="290.6" y="600.4">Irg57l</text><text font-style="italic" x="278.3" y="594.4">Tm65</text><text font-style="italic" x="266.9" y="586.9">Abc63a</text><text font-style="italic" x="256.4" y="578.1">Gm60</text><text font-style="italic" x="247.1" y="568.0">Ptp83</text><text font-style="italic" x="239.1" y="557.0">Pl48a</text><text font-style="italic" x="232.4" y="545.0">Zfp44</text><text font-style="italic" x="227.3" y="532.4">Ly84</text><text font-style="italic" x="221.4" y="492.0">Gm15a</text><text font-style="italic" x="222.7" y="478.4">Ank66b</text><text font-style="italic" x="265.1" y="570.0">Ank25</text><text font-style="italic" x="255.9" y="560.1">Zfp77</text><text font-style="italic" x="248.0" y="549.1">Ccl11l</text><text font-style="italic" x="241.7" y="537.1">Ptp14</text><text font-style="italic" x="237.1" y="524.4">Nr52</text><text font-style="italic" x="234.2" y="511.1">Zfp38</text><text font-style="italic" x="233.1" y="497.6">Abc27</text><text font-style="italic" x="233.8" y="484.1">Ly44l</text><text font-style="italic" x="236.3" y="470.8">Ank88</text><text font-style="italic" x="240.6" y="457.9">Ly78</text><text font-style="italic" x="246.5" y="445.7">Cd43l</text><text font-style="italic" x="254.0" y="434.5">Rp42a</text><text font-style="italic" x="262.9" y="424.3">Ptp60</text><text font-style="italic" x="273.1" y="415.4">Irg48</text><text font-style="italic" x="309.5" y="397.8">Irg61</text><text font-style="italic" x="336.4" y="394.7">Gm24</text><text font-style="italic" x="349.9" y="395.9">Slc38</text><text font-style="italic" x="363.1" y="398.8">Ms6a</text><text font-style="italic" x="375.8" y="403.5">Irg5a</text><text font-style="italic" x="387.8" y="409.8">Sp19b</text><text font-style="italic" x="408.7" y="427.0">Rp20b</text><text font-style="italic" x="433.6" y="474.4">Tm56l</text><text font-style="italic" x="435.6" y="487.8">Ank29b</text><text font-style="italic" x="435.8" y="501.4">Cx48</text><text font-style="italic" x="430.8" y="527.9">Ifi67a</text><text font-style="italic" x="425.7" y="540.5">Slc69</text><text font-style="italic" x="418.9" y="552.2">Cx46</text><text font-style="italic" x="410.7" y="563.0">Ank5a</text><text font-style="italic" x="401.1" y="572.5">Irg44</text><text font-style="italic" x="390.3" y="580.7">Zfp58a</text><text font-style="italic" x="378.6" y="587.4">Ms54</text><text font-style="italic" x="366.0" y="592.5">Gm55a</text><text font-style="italic" x="325.9" y="597.1">Slc96</text><text font-style="italic" x="312.5" y="595.1">Tr97</text><text font-style="italic" x="299.5" y="591.3">Ccl3</text><text font-style="italic" x="287.1" y="585.7">Cd59l</text><text font-style="italic" x="275.6" y="578.6">Tm38a</text><text font-style="italic" x="272.5" y="431.4">Irg46b</text><text font-style="italic" x="294.9" y="415.7">Tr20</text><text font-style="italic" x="307.6" y="410.6">Cd53a</text><text font-style="italic" x="348.3" y="407.6">Gm41</text><text font-style="italic" x="361.7" y="410.7">Ms17b</text><text font-style="italic" x="374.4" y="415.9">Ly48l</text><text font-style="italic" x="405.8" y="441.9">Rp40</text><text font-style="italic" x="413.3" y="453.4">Abc51b</text><text font-style="italic" x="418.9" y="466.0">Cd41l</text><text font-style="italic" x="422.5" y="479.2">Cd17l</text><text font-style="italic" x="423.5" y="506.5">Ifi26</text><text font-style="italic" x="420.9" y="520.0">Zfp96</text><text font-style="italic" x="416.2" y="532.9">Gm37</text><text font-style="italic" x="409.6" y="544.9">Irg35</text><text font-style="italic" x="401.3" y="555.8">Sp70</text><text font-style="italic" x="391.4" y="565.3">Ms22a</text><text font-style="italic" x="380.2" y="573.2">Cx87</text><text font-style="italic" x="367.9" y="579.3">Cd24</text><text font-style="italic" x="354.8" y="583.4">Rp84</text><text font-style="italic" x="327.5" y="585.4">Slc69</text><text font-style="italic" x="313.9" y="583.3">Tm4a</text><text font-style="italic" x="300.9" y="579.1">Sp17</text><text font-style="italic" x="277.4" y="565.1">Nr19</text><text font-style="italic" x="267.5" y="555.6">Nr70</text><text font-style="italic" x="259.2" y="544.7">Pl61b</text><text font-style="italic" x="252.7" y="532.6">Cx73b</text><text font-style="italic" x="248.1" y="519.7">Ank59</text><text font-style="italic" x="245.5" y="506.2">Ptp38</text><text font-style="italic" x="246.6" y="478.9">Tm41a</text><text font-style="italic" x="250.2" y="465.7">Ptp8a</text><text font-style="italic" x="255.9" y="453.2">Gm21</text><text font-style="italic" x="279.7" y="440.8">Fcg88b</text><text font-style="italic" x="290.2" y="432.2">Ank75a</text><text font-style="italic" x="301.9" y="425.4">Rp42b</text><text font-style="italic" x="314.7" y="420.9">Fcg46</text><text font-style="italic" x="328.1" y="418.6">Nr89</text><text font-style="italic" x="341.6" y="418.6">Sp35a</text><text font-style="italic" x="355.0" y="421.0">Pl94</text><text font-style="italic" x="367.7" y="425.7">Ccl58b</text><text font-style="italic" x="379.4" y="432.6">Tm80</text><text font-style="italic" x="389.8" y="441.3">Ptp7l</text><text font-style="italic" x="398.4" y="451.8">Ptp38l</text><text font-style="italic" x="405.2" y="463.5">Ly47</text><text font-style="italic" x="409.7" y="476.3">Ms16l</text><text font-style="italic" x="412.0" y="489.7">Nr2b</text><text font-style="italic" x="412.0" y="503.2">Nr84</text><text font-style="italic" x="409.6" y="516.6">Ms19</text><text font-style="italic" x="404.9" y="529.3">Ptp1</text><text font-style="italic" x="398.0" y="541.0">Irg37</text><text font-style="italic" x="389.3" y="551.4">Pl69b</text><text font-style="italic" x="340.9" y="573.6">Fcg16</text><text font-style="italic" x="314.0" y="571.2">Slc40a</text><text font-style="italic" x="301.3" y="566.5">Tm77</text><text font-style="italic" x="289.6" y="559.6">Nr49a</text><text font-style="italic" x="279.2" y="550.9">Slc50l</text><text font-style="italic" x="270.6" y="540.4">Sp56</text><text font-style="italic" x="263.8" y="528.7">Pl9</text><text font-style="italic" x="259.3" y="515.9">Irg81</text><text font-style="italic" x="257.0" y="489.0">Irg75b</text><text font-style="italic" x="259.4" y="475.6">Abc12</text><text font-style="italic" x="271.0" y="451.2">Ifi74</text><text font-style="italic" x="395.0" y="522.5">Ms69b</text><text font-style="italic" x="379.0" y="544.8">Tr30b</text><text font-style="italic" x="367.9" y="553.0">Fcg18</text><text font-style="italic" x="355.3" y="558.7">Tr46a</text><text font-style="italic" x="341.9" y="561.7">Irg40</text><text font-style="italic" x="328.1" y="561.8">Rp24</text><text font-style="italic" x="301.9" y="553.5">Tr51</text><text font-style="italic" x="290.7" y="545.5">Cd42l</text><text font-style="italic" x="274.4" y="523.4">Cd31l</text><text font-style="italic" x="270.0" y="510.3">Sp33</text><text font-style="italic" x="268.5" y="496.6">Pl94a</text><text font-style="italic" x="269.8" y="482.8">Tm73l</text><text font-style="italic" x="274.0" y="469.7">Rp86a</text><text font-style="italic" x="280.8" y="457.7">Tr51</text><text font-style="italic" x="290.0" y="447.4">Tm81b</text><text font-style="italic" x="301.1" y="439.2">Ank59a</text><text font-style="italic" x="313.7" y="433.5">Irg88l</text><text font-style="italic" x="354.4" y="433.2">Ptp62</text><text font-style="italic" x="367.1" y="438.7">Irg44</text><text font-style="italic" x="378.3" y="446.7">Pl14a</text><text font-style="italic" x="394.6" y="468.8">Ank20</text><text font-style="italic" x="399.0" y="481.9">Ms6</text><text font-style="italic" x="399.2" y="509.4">Ly90</text><text font-style="italic" x="388.5" y="500.6">Sp75</text><text font-style="italic" x="379.7" y="526.0">Irg96</text><text font-style="italic" x="359.7" y="544.1">Ank95</text><text font-style="italic" x="346.9" y="548.9">Nr73b</text><text font-style="italic" x="333.4" y="550.3">Fcg50</text><text font-style="italic" x="320.0" y="548.3">Tm41</text><text font-style="italic" x="307.4" y="543.1">Ank51l</text><text font-style="italic" x="296.6" y="534.9">Nr14</text><text font-style="italic" x="288.2" y="524.2">Rp22</text><text font-style="italic" x="282.6" y="511.8">Zfp71</text><text font-style="italic" x="285.9" y="472.1">Abc36b</text><text font-style="italic" x="293.4" y="460.7">Ifi34</text><text font-style="italic" x="303.5" y="451.6">Irg19a</text><text font-style="italic" x="315.6" y="445.3">Tr26</text><text font-style="italic" x="328.8" y="442.2">Ccl45</text><text font-style="italic" x="355.5" y="446.1">Slc97l</text><text font-style="italic" x="367.2" y="452.9">Zfp42</text><text font-style="italic" x="376.9" y="462.4">Cd86a</text><text font-style="italic" x="384.0" y="474.0">Cx96l</text><text font-style="italic" x="356.6" y="459.9">Sp70l</text><text font-style="italic" x="367.2" y="469.1">Cd22</text><text font-style="italic" x="374.2" y="481.2">Slc65</text><text font-style="italic" x="376.9" y="494.9">Nr33b</text><text font-style="italic" x="358.7" y="530.9">Tm28</text><text font-style="italic" x="346.1" y="536.9">Ms55</text><text font-style="italic" x="332.2" y="538.4">Ank44</text><text font-style="italic" x="318.6" y="535.4">Tm34</text><text font-style="italic" x="297.8" y="517.4">Gm90l</text><text font-style="italic" x="292.9" y="504.3">Ank85</text><text font-style="italic" x="292.5" y="490.3">Gm9l</text><text font-style="italic" x="296.6" y="477.0">Cd44</text><text font-style="italic" x="304.9" y="465.8">Nr14a</text><text font-style="italic" x="316.3" y="457.8">Ank57</text><text font-style="italic" x="329.8" y="454.0">Ifi57</text><text font-style="italic" x="343.7" y="454.7">Ifi21</text><text font-style="italic" x="332.7" y="526.6">Fcg15</text><text font-style="italic" x="319.6" y="522.8">Sp13</text><text font-style="italic" x="309.5" y="513.7">Ifi26b</text><text font-style="italic" x="304.3" y="501.1">Ptp49</text><text font-style="italic" x="305.1" y="487.6">Tr76b</text><text font-style="italic" x="322.9" y="467.8">Cx65</text><text font-style="italic" x="336.3" y="465.6">Fcg80a</text><text font-style="italic" x="349.4" y="469.4">Tr22b</text><text font-style="italic" x="359.5" y="478.5">Ms9a</text><text font-style="italic" x="364.7" y="491.1">Irg3l</text><text font-style="italic" x="363.9" y="504.6">Cd91</text><text font-style="italic" x="357.3" y="516.6">Gm7b</text><text font-style="italic" x="346.1" y="524.4">Ms63b</text><text font-style="italic" x="322.6" y="510.6">Fcg12</text><text font-style="italic" x="315.8" y="497.9">Rp31l</text><text font-style="italic" x="320.0" y="484.2">Tr18</text><text font-style="italic" x="332.7" y="477.4">Sp66</text><text font-style="italic" x="346.4" y="481.6">Ms9l</text><text font-style="italic" x="349.0" y="508.0">Pl72</text></g>
<circle cx="336.9" cy="494.6" r="6.6" fill="#e0a33e"/>
<text x="336.90" y="497.50" font-size="8.2" fill="#231f20" text-anchor="middle" font-style="italic" stroke="#231f20" stroke-width="0.1">Irf7</text>
<circle cx="376.2" cy="515.4" r="7.0" fill="#e0a33e"/>
<text x="376.20" y="518.30" font-size="8.2" fill="#231f20" text-anchor="middle" font-style="italic" stroke="#231f20" stroke-width="0.1">Spic</text>
<circle cx="255.6" cy="640.6" r="5.8" fill="#d9a04a"/>
<circle cx="255.6" cy="657.9" r="5.8" fill="#b4b148"/>
<circle cx="359.8" cy="657.9" r="6.0" fill="#9f7fb2"/>
<path d="M362.5 634.8 A6 6 0 1 0 362.5 646.4 A6.6 6.6 0 0 1 362.5 634.8Z" fill="#6aa55e"/>
<text x="264.20" y="642.60" font-size="5.8" fill="#231f20" textLength="51.60" lengthAdjust="spacingAndGlyphs" stroke="#231f20" stroke-width="0.1">Trancription regulator</text>
<text x="264.20" y="659.90" font-size="5.8" fill="#231f20" textLength="74.10" lengthAdjust="spacingAndGlyphs" stroke="#231f20" stroke-width="0.1">Regulated by both Irf7 and Spic</text>
<text x="368.50" y="642.60" font-size="5.8" fill="#231f20" textLength="51.10" lengthAdjust="spacingAndGlyphs" stroke="#231f20" stroke-width="0.1">Regulated by Irf7 only</text>
<text x="368.50" y="659.90" font-size="5.8" fill="#231f20" textLength="30.90" lengthAdjust="spacingAndGlyphs" font-style="italic" stroke="#231f20" stroke-width="0.1">Metagene C1</text></svg>
<div style="position:absolute;left:0;top:0;width:520px;height:1px;background:#474747"></div>
<div style="position:absolute;left:0;top:1px;width:520px;height:1px;background:#a8a8a8"></div>
<div style="position:absolute;left:0;top:0;width:1px;height:671px;background:#151515"></div>
<div style="position:absolute;left:1px;top:0;width:1px;height:671px;background:#e4e4e4"></div>
<div style="position:absolute;left:518px;top:0;width:2px;height:671px;background:#4a4a4a"></div>
<div style="position:absolute;left:0;top:669px;width:520px;height:1px;background:#8a8a8a"></div>
<div style="position:absolute;left:0;top:670px;width:520px;height:1px;background:#151515"></div>
</body></html>
